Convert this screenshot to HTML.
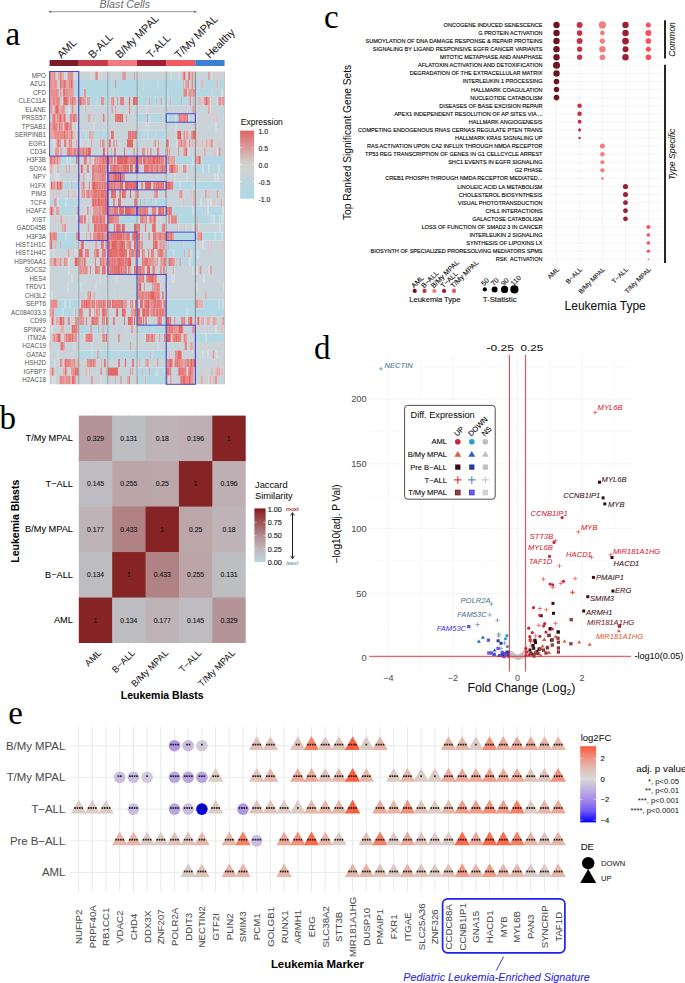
<!DOCTYPE html>
<html><head><meta charset="utf-8"><style>
html,body{margin:0;padding:0;background:#fff;}
svg{display:block;font-family:"Liberation Sans",sans-serif;}
</style></head><body>
<svg width="685" height="983" viewBox="0 0 685 983">
<rect width="685" height="983" fill="#fff"/>
<text x="5.5" y="44.5" font-family="Liberation Serif" font-size="33">a</text>
<text x="99.6" y="8" font-family="Liberation Sans" font-style="italic" font-size="10.7" fill="#6e6e6e" stroke="#6e6e6e" stroke-width="0.06">Blast Cells</text>
<line x1="49" y1="11.7" x2="196.5" y2="11.7" stroke="#777" stroke-width="0.8"/>
<path d="M48.2 11.7l3 -1.3v2.6z M197.1 11.7l-3 -1.3v2.6z" fill="#777"/>
<rect x="49.60" y="60" width="29.20" height="6" fill="#7b1c27"/>
<text transform="translate(61.50 59) rotate(-45)" font-family="Liberation Sans" font-size="10.8" fill="#1a1a1a" stroke="#1a1a1a" stroke-width="0.06">AML</text>
<rect x="78.75" y="60" width="29.20" height="6" fill="#c83a4a"/>
<text transform="translate(92.65 59) rotate(-45)" font-family="Liberation Sans" font-size="10.8" fill="#1a1a1a" stroke="#1a1a1a" stroke-width="0.06">B-ALL</text>
<rect x="107.90" y="60" width="29.20" height="6" fill="#f07b80"/>
<text transform="translate(119.80 59) rotate(-45)" font-family="Liberation Sans" font-size="10.8" fill="#1a1a1a" stroke="#1a1a1a" stroke-width="0.06">B/My MPAL</text>
<rect x="137.05" y="60" width="29.20" height="6" fill="#a21f33"/>
<text transform="translate(150.95 59) rotate(-45)" font-family="Liberation Sans" font-size="10.8" fill="#1a1a1a" stroke="#1a1a1a" stroke-width="0.06">T-ALL</text>
<rect x="166.20" y="60" width="29.20" height="6" fill="#f25a62"/>
<text transform="translate(179.10 59) rotate(-45)" font-family="Liberation Sans" font-size="10.8" fill="#1a1a1a" stroke="#1a1a1a" stroke-width="0.06">T/My MPAL</text>
<rect x="195.35" y="60" width="29.20" height="6" fill="#3b80d2"/>
<text transform="translate(209.75 59) rotate(-45)" font-family="Liberation Sans" font-size="10.8" fill="#1a1a1a" stroke="#1a1a1a" stroke-width="0.06">Healthy</text>
<defs><filter id="hb" x="-0.01" y="0" width="1.02" height="1"><feGaussianBlur stdDeviation="0.45 0"/></filter></defs><g filter="url(#hb)">
<path fill="#e07e7e" d="M49.60 71.50h2.01v8.45h-2.01zM59.65 71.50h2.01v8.45h-2.01zM68.70 71.50h1.01v8.45h-1.01zM65.68 79.95h1.01v8.45h-1.01zM49.60 88.41h1.01v8.45h-1.01zM52.62 88.41h1.01v8.45h-1.01zM70.71 88.41h1.01v8.45h-1.01zM72.72 88.41h1.01v8.45h-1.01zM185.30 88.41h2.01v8.45h-2.01zM188.31 88.41h1.01v8.45h-1.01zM190.32 88.41h1.01v8.45h-1.01zM62.67 96.86h1.01v8.45h-1.01zM82.77 96.86h1.01v8.45h-1.01zM84.78 96.86h1.01v8.45h-1.01zM135.04 96.86h1.01v8.45h-1.01zM181.28 96.86h1.01v8.45h-1.01zM198.37 96.86h1.01v8.45h-1.01zM207.41 96.86h1.01v8.45h-1.01zM58.65 105.32h1.01v8.45h-1.01zM129.01 105.32h1.01v8.45h-1.01zM51.61 113.77h1.01v8.45h-1.01zM57.64 113.77h1.01v8.45h-1.01zM115.94 113.77h1.01v8.45h-1.01zM63.67 122.22h1.01v8.45h-1.01zM183.29 130.68h1.01v8.45h-1.01zM57.64 139.13h2.01v8.45h-2.01zM69.70 139.13h1.01v8.45h-1.01zM101.87 139.13h1.01v8.45h-1.01zM158.16 139.13h1.01v8.45h-1.01zM219.47 139.13h1.01v8.45h-1.01zM54.63 147.59h1.01v8.45h-1.01zM56.64 147.59h1.01v8.45h-1.01zM72.72 147.59h1.01v8.45h-1.01zM76.74 147.59h2.01v8.45h-2.01zM183.29 147.59h1.01v8.45h-1.01zM75.73 156.04h2.01v8.45h-2.01zM98.85 156.04h1.01v8.45h-1.01zM108.91 156.04h1.01v8.45h-1.01zM111.92 156.04h1.01v8.45h-1.01zM130.01 156.04h4.02v8.45h-4.02zM138.06 156.04h1.01v8.45h-1.01zM140.07 156.04h1.01v8.45h-1.01zM174.24 156.04h1.01v8.45h-1.01zM195.35 156.04h1.01v8.45h-1.01zM98.85 164.49h1.01v8.45h-1.01zM100.86 164.49h1.01v8.45h-1.01zM102.87 164.49h1.01v8.45h-1.01zM115.94 164.49h2.01v8.45h-2.01zM132.02 164.49h1.01v8.45h-1.01zM174.24 164.49h1.01v8.45h-1.01zM99.86 172.95h1.01v8.45h-1.01zM97.85 181.40h1.01v8.45h-1.01zM107.90 181.40h1.01v8.45h-1.01zM111.92 181.40h1.01v8.45h-1.01zM142.08 181.40h1.01v8.45h-1.01zM153.13 181.40h1.01v8.45h-1.01zM67.69 189.86h1.01v8.45h-1.01zM86.79 189.86h1.01v8.45h-1.01zM90.81 189.86h1.01v8.45h-1.01zM99.86 189.86h1.01v8.45h-1.01zM154.14 189.86h1.01v8.45h-1.01zM49.60 206.76h1.01v8.45h-1.01zM56.64 206.76h1.01v8.45h-1.01zM92.82 206.76h1.01v8.45h-1.01zM94.83 206.76h1.01v8.45h-1.01zM101.87 206.76h1.01v8.45h-1.01zM109.91 206.76h1.01v8.45h-1.01zM131.02 206.76h2.01v8.45h-2.01zM161.17 206.76h1.01v8.45h-1.01zM166.20 206.76h1.01v8.45h-1.01zM78.75 215.22h2.01v8.45h-2.01zM91.82 215.22h1.01v8.45h-1.01zM93.83 215.22h2.01v8.45h-2.01zM101.87 215.22h1.01v8.45h-1.01zM110.92 215.22h3.02v8.45h-3.02zM114.94 215.22h1.01v8.45h-1.01zM173.24 215.22h1.01v8.45h-1.01zM176.25 215.22h1.01v8.45h-1.01zM155.14 223.67h1.01v8.45h-1.01zM92.82 232.13h1.01v8.45h-1.01zM100.86 232.13h1.01v8.45h-1.01zM109.91 232.13h1.01v8.45h-1.01zM199.37 232.13h1.01v8.45h-1.01zM107.90 240.58h1.01v8.45h-1.01zM122.98 240.58h1.01v8.45h-1.01zM84.78 249.04h2.01v8.45h-2.01zM117.95 249.04h1.01v8.45h-1.01zM124.99 249.04h1.01v8.45h-1.01zM132.02 249.04h1.01v8.45h-1.01zM65.68 257.49h1.01v8.45h-1.01zM122.98 257.49h1.01v8.45h-1.01zM143.08 257.49h1.01v8.45h-1.01zM161.17 257.49h1.01v8.45h-1.01zM98.85 265.94h1.01v8.45h-1.01zM104.88 265.94h1.01v8.45h-1.01zM107.90 265.94h1.01v8.45h-1.01zM135.04 265.94h1.01v8.45h-1.01zM137.05 265.94h1.01v8.45h-1.01zM143.08 265.94h1.01v8.45h-1.01zM165.19 282.85h1.01v8.45h-1.01zM146.10 291.31h1.01v8.45h-1.01zM149.11 291.31h1.01v8.45h-1.01zM80.76 299.76h1.01v8.45h-1.01zM82.77 299.76h1.01v8.45h-1.01zM108.91 299.76h1.01v8.45h-1.01zM114.94 299.76h3.02v8.45h-3.02zM136.04 299.76h1.01v8.45h-1.01zM144.09 299.76h1.01v8.45h-1.01zM151.12 299.76h1.01v8.45h-1.01zM161.17 299.76h1.01v8.45h-1.01zM163.18 299.76h2.01v8.45h-2.01zM195.35 299.76h1.01v8.45h-1.01zM50.61 308.21h1.01v8.45h-1.01zM93.83 308.21h1.01v8.45h-1.01zM151.12 308.21h1.01v8.45h-1.01zM158.16 308.21h1.01v8.45h-1.01zM55.63 316.67h1.01v8.45h-1.01zM62.67 316.67h2.01v8.45h-2.01zM112.93 316.67h2.01v8.45h-2.01zM131.02 316.67h1.01v8.45h-1.01zM161.17 316.67h1.01v8.45h-1.01zM183.29 316.67h1.01v8.45h-1.01zM212.44 316.67h1.01v8.45h-1.01zM166.20 325.12h1.01v8.45h-1.01zM176.25 325.12h1.01v8.45h-1.01zM74.73 333.58h1.01v8.45h-1.01zM85.79 333.58h1.01v8.45h-1.01zM147.10 333.58h1.01v8.45h-1.01zM173.24 333.58h2.01v8.45h-2.01zM49.60 342.03h1.01v8.45h-1.01zM176.25 350.48h1.01v8.45h-1.01zM181.28 350.48h1.01v8.45h-1.01zM61.66 358.94h1.01v8.45h-1.01zM92.82 358.94h2.01v8.45h-2.01zM117.95 358.94h2.01v8.45h-2.01zM174.24 358.94h2.01v8.45h-2.01zM178.26 358.94h1.01v8.45h-1.01zM180.27 358.94h1.01v8.45h-1.01zM182.28 358.94h1.01v8.45h-1.01zM73.72 367.39h1.01v8.45h-1.01zM100.86 367.39h1.01v8.45h-1.01zM61.66 375.85h1.01v8.45h-1.01zM69.70 375.85h1.01v8.45h-1.01zM129.01 375.85h1.01v8.45h-1.01zM191.33 375.85h1.01v8.45h-1.01z"/>
<path fill="#dc9a9a" d="M51.61 71.50h2.01v8.45h-2.01zM58.65 71.50h1.01v8.45h-1.01zM61.66 71.50h1.01v8.45h-1.01zM94.83 71.50h1.01v8.45h-1.01zM122.98 71.50h2.01v8.45h-2.01zM134.03 71.50h1.01v8.45h-1.01zM66.69 79.95h1.01v8.45h-1.01zM149.11 96.86h1.01v8.45h-1.01zM59.65 105.32h1.01v8.45h-1.01zM84.78 105.32h1.01v8.45h-1.01zM111.92 105.32h1.01v8.45h-1.01zM186.30 105.32h1.01v8.45h-1.01zM61.66 113.77h1.01v8.45h-1.01zM103.88 113.77h1.01v8.45h-1.01zM125.99 113.77h1.01v8.45h-1.01zM49.60 130.68h1.01v8.45h-1.01zM53.62 130.68h1.01v8.45h-1.01zM76.74 130.68h1.01v8.45h-1.01zM88.80 130.68h1.01v8.45h-1.01zM220.48 130.68h1.01v8.45h-1.01zM154.14 139.13h1.01v8.45h-1.01zM201.38 139.13h1.01v8.45h-1.01zM205.40 139.13h1.01v8.45h-1.01zM151.12 147.59h1.01v8.45h-1.01zM165.19 147.59h1.01v8.45h-1.01zM55.63 156.04h1.01v8.45h-1.01zM58.65 156.04h1.01v8.45h-1.01zM93.83 156.04h1.01v8.45h-1.01zM95.84 156.04h1.01v8.45h-1.01zM97.85 156.04h1.01v8.45h-1.01zM170.22 156.04h1.01v8.45h-1.01zM176.25 164.49h1.01v8.45h-1.01zM95.84 172.95h1.01v8.45h-1.01zM97.85 172.95h1.01v8.45h-1.01zM89.81 189.86h1.01v8.45h-1.01zM140.07 198.31h1.01v8.45h-1.01zM221.48 198.31h1.01v8.45h-1.01zM58.65 206.76h1.01v8.45h-1.01zM89.81 206.76h1.01v8.45h-1.01zM93.83 206.76h1.01v8.45h-1.01zM96.84 206.76h2.01v8.45h-2.01zM100.86 206.76h1.01v8.45h-1.01zM107.90 206.76h1.01v8.45h-1.01zM110.92 206.76h1.01v8.45h-1.01zM112.93 206.76h1.01v8.45h-1.01zM135.04 206.76h1.01v8.45h-1.01zM87.80 215.22h1.01v8.45h-1.01zM113.93 215.22h1.01v8.45h-1.01zM116.95 215.22h1.01v8.45h-1.01zM144.09 215.22h1.01v8.45h-1.01zM177.26 223.67h1.01v8.45h-1.01zM184.29 223.67h1.01v8.45h-1.01zM197.36 223.67h1.01v8.45h-1.01zM104.88 232.13h1.01v8.45h-1.01zM142.08 232.13h1.01v8.45h-1.01zM109.91 240.58h1.01v8.45h-1.01zM125.99 240.58h2.01v8.45h-2.01zM162.18 240.58h1.01v8.45h-1.01zM164.19 240.58h1.01v8.45h-1.01zM68.70 249.04h1.01v8.45h-1.01zM134.03 249.04h1.01v8.45h-1.01zM143.08 249.04h2.01v8.45h-2.01zM157.15 249.04h1.01v8.45h-1.01zM135.04 257.49h2.01v8.45h-2.01zM151.12 257.49h1.01v8.45h-1.01zM160.17 257.49h1.01v8.45h-1.01zM187.31 257.49h1.01v8.45h-1.01zM141.07 265.94h1.01v8.45h-1.01zM144.09 265.94h1.01v8.45h-1.01zM153.13 282.85h1.01v8.45h-1.01zM88.80 291.31h1.01v8.45h-1.01zM150.12 299.76h1.01v8.45h-1.01zM206.41 316.67h1.01v8.45h-1.01zM214.45 316.67h1.01v8.45h-1.01zM89.81 325.12h1.01v8.45h-1.01zM207.41 325.12h1.01v8.45h-1.01zM84.78 333.58h1.01v8.45h-1.01zM101.87 333.58h1.01v8.45h-1.01zM104.88 333.58h1.01v8.45h-1.01zM118.96 333.58h1.01v8.45h-1.01zM192.33 342.03h1.01v8.45h-1.01zM70.71 358.94h1.01v8.45h-1.01zM72.72 358.94h1.01v8.45h-1.01zM183.29 358.94h1.01v8.45h-1.01zM71.71 367.39h1.01v8.45h-1.01zM88.80 367.39h1.01v8.45h-1.01zM99.86 367.39h1.01v8.45h-1.01zM130.01 367.39h1.01v8.45h-1.01zM132.02 367.39h1.01v8.45h-1.01zM205.40 367.39h1.01v8.45h-1.01zM222.49 367.39h1.01v8.45h-1.01zM214.45 375.85h1.01v8.45h-1.01z"/>
<path fill="#df8484" d="M53.62 71.50h2.01v8.45h-2.01zM57.64 71.50h1.01v8.45h-1.01zM62.67 71.50h1.01v8.45h-1.01zM95.84 71.50h2.01v8.45h-2.01zM68.70 79.95h2.01v8.45h-2.01zM72.72 79.95h1.01v8.45h-1.01zM114.94 79.95h1.01v8.45h-1.01zM187.31 79.95h1.01v8.45h-1.01zM188.31 79.95h1.01v8.45h-1.01zM191.33 79.95h2.01v8.45h-2.01zM201.38 79.95h1.01v8.45h-1.01zM69.70 88.41h1.01v8.45h-1.01zM71.71 88.41h1.01v8.45h-1.01zM192.33 88.41h1.01v8.45h-1.01zM193.34 88.41h1.01v8.45h-1.01zM219.47 88.41h1.01v8.45h-1.01zM50.61 96.86h1.01v8.45h-1.01zM54.63 96.86h1.01v8.45h-1.01zM70.71 96.86h1.01v8.45h-1.01zM81.77 96.86h1.01v8.45h-1.01zM83.78 96.86h1.01v8.45h-1.01zM86.79 96.86h1.01v8.45h-1.01zM88.80 96.86h1.01v8.45h-1.01zM119.96 96.86h2.01v8.45h-2.01zM122.98 96.86h1.01v8.45h-1.01zM137.05 96.86h1.01v8.45h-1.01zM161.17 96.86h1.01v8.45h-1.01zM203.39 96.86h1.01v8.45h-1.01zM211.43 96.86h1.01v8.45h-1.01zM61.66 105.32h1.01v8.45h-1.01zM72.72 105.32h1.01v8.45h-1.01zM62.67 113.77h1.01v8.45h-1.01zM178.26 113.77h2.01v8.45h-2.01zM182.28 113.77h1.01v8.45h-1.01zM49.60 122.22h1.01v8.45h-1.01zM51.61 122.22h1.01v8.45h-1.01zM68.70 122.22h1.01v8.45h-1.01zM50.61 130.68h1.01v8.45h-1.01zM52.62 130.68h1.01v8.45h-1.01zM68.70 130.68h1.01v8.45h-1.01zM129.01 130.68h1.01v8.45h-1.01zM134.03 130.68h1.01v8.45h-1.01zM63.67 139.13h3.02v8.45h-3.02zM90.81 139.13h1.01v8.45h-1.01zM102.87 139.13h1.01v8.45h-1.01zM155.14 139.13h1.01v8.45h-1.01zM168.21 139.13h1.01v8.45h-1.01zM180.27 139.13h1.01v8.45h-1.01zM181.28 139.13h1.01v8.45h-1.01zM184.29 139.13h1.01v8.45h-1.01zM196.36 139.13h1.01v8.45h-1.01zM210.43 139.13h1.01v8.45h-1.01zM212.44 139.13h1.01v8.45h-1.01zM59.65 147.59h1.01v8.45h-1.01zM73.72 147.59h3.02v8.45h-3.02zM84.78 147.59h1.01v8.45h-1.01zM113.93 147.59h1.01v8.45h-1.01zM142.08 147.59h1.01v8.45h-1.01zM150.12 147.59h1.01v8.45h-1.01zM218.47 147.59h1.01v8.45h-1.01zM56.64 156.04h2.01v8.45h-2.01zM59.65 156.04h1.01v8.45h-1.01zM94.83 156.04h1.01v8.45h-1.01zM96.84 156.04h1.01v8.45h-1.01zM100.86 156.04h1.01v8.45h-1.01zM114.94 156.04h1.01v8.45h-1.01zM128.00 156.04h1.01v8.45h-1.01zM146.10 156.04h1.01v8.45h-1.01zM160.17 156.04h1.01v8.45h-1.01zM167.21 156.04h2.01v8.45h-2.01zM172.23 156.04h1.01v8.45h-1.01zM200.38 156.04h1.01v8.45h-1.01zM50.61 164.49h1.01v8.45h-1.01zM57.64 164.49h1.01v8.45h-1.01zM91.82 164.49h4.02v8.45h-4.02zM104.88 164.49h1.01v8.45h-1.01zM109.91 164.49h1.01v8.45h-1.01zM111.92 164.49h1.01v8.45h-1.01zM120.97 164.49h1.01v8.45h-1.01zM149.11 164.49h1.01v8.45h-1.01zM155.14 164.49h1.01v8.45h-1.01zM158.16 164.49h1.01v8.45h-1.01zM163.18 164.49h1.01v8.45h-1.01zM165.19 164.49h1.01v8.45h-1.01zM175.25 164.49h1.01v8.45h-1.01zM177.26 164.49h1.01v8.45h-1.01zM184.29 164.49h1.01v8.45h-1.01zM91.82 172.95h3.02v8.45h-3.02zM96.84 172.95h1.01v8.45h-1.01zM98.85 172.95h1.01v8.45h-1.01zM100.86 172.95h1.01v8.45h-1.01zM103.88 172.95h1.01v8.45h-1.01zM121.97 172.95h2.01v8.45h-2.01zM52.62 181.40h1.01v8.45h-1.01zM117.95 181.40h1.01v8.45h-1.01zM141.07 181.40h1.01v8.45h-1.01zM166.20 181.40h1.01v8.45h-1.01zM88.80 189.86h1.01v8.45h-1.01zM91.82 189.86h1.01v8.45h-1.01zM157.15 189.86h1.01v8.45h-1.01zM180.27 189.86h1.01v8.45h-1.01zM54.63 198.31h1.01v8.45h-1.01zM112.93 198.31h2.01v8.45h-2.01zM134.03 198.31h1.01v8.45h-1.01zM220.48 198.31h1.01v8.45h-1.01zM55.63 206.76h1.01v8.45h-1.01zM57.64 206.76h1.01v8.45h-1.01zM77.74 206.76h1.01v8.45h-1.01zM98.85 206.76h2.01v8.45h-2.01zM111.92 206.76h1.01v8.45h-1.01zM133.03 206.76h1.01v8.45h-1.01zM146.10 206.76h1.01v8.45h-1.01zM98.85 215.22h1.01v8.45h-1.01zM140.07 215.22h3.02v8.45h-3.02zM149.11 215.22h2.01v8.45h-2.01zM63.67 223.67h1.01v8.45h-1.01zM137.05 223.67h2.01v8.45h-2.01zM85.79 232.13h1.01v8.45h-1.01zM103.88 232.13h1.01v8.45h-1.01zM106.89 232.13h3.02v8.45h-3.02zM156.15 232.13h1.01v8.45h-1.01zM158.16 232.13h1.01v8.45h-1.01zM110.92 240.58h1.01v8.45h-1.01zM116.95 240.58h2.01v8.45h-2.01zM129.01 240.58h1.01v8.45h-1.01zM163.18 240.58h1.01v8.45h-1.01zM208.42 240.58h1.01v8.45h-1.01zM211.43 240.58h1.01v8.45h-1.01zM93.83 249.04h1.01v8.45h-1.01zM129.01 249.04h2.01v8.45h-2.01zM133.03 249.04h1.01v8.45h-1.01zM136.04 249.04h1.01v8.45h-1.01zM152.13 249.04h1.01v8.45h-1.01zM158.16 249.04h2.01v8.45h-2.01zM53.62 257.49h3.02v8.45h-3.02zM66.69 257.49h1.01v8.45h-1.01zM79.76 257.49h1.01v8.45h-1.01zM107.90 257.49h4.02v8.45h-4.02zM112.93 257.49h1.01v8.45h-1.01zM114.94 257.49h2.01v8.45h-2.01zM125.99 257.49h2.01v8.45h-2.01zM152.13 257.49h1.01v8.45h-1.01zM163.18 257.49h1.01v8.45h-1.01zM172.23 257.49h1.01v8.45h-1.01zM180.27 257.49h1.01v8.45h-1.01zM83.78 265.94h1.01v8.45h-1.01zM94.83 265.94h4.02v8.45h-4.02zM110.92 265.94h1.01v8.45h-1.01zM142.08 265.94h1.01v8.45h-1.01zM164.19 265.94h1.01v8.45h-1.01zM173.24 265.94h1.01v8.45h-1.01zM199.37 265.94h1.01v8.45h-1.01zM146.10 274.40h2.01v8.45h-2.01zM154.14 274.40h1.01v8.45h-1.01zM144.09 282.85h1.01v8.45h-1.01zM152.13 282.85h1.01v8.45h-1.01zM154.14 282.85h1.01v8.45h-1.01zM156.15 282.85h2.01v8.45h-2.01zM159.16 282.85h1.01v8.45h-1.01zM143.08 291.31h1.01v8.45h-1.01zM145.09 291.31h1.01v8.45h-1.01zM156.15 291.31h1.01v8.45h-1.01zM163.18 291.31h1.01v8.45h-1.01zM89.81 299.76h1.01v8.45h-1.01zM96.84 299.76h1.01v8.45h-1.01zM98.85 299.76h2.01v8.45h-2.01zM119.96 299.76h1.01v8.45h-1.01zM132.02 299.76h1.01v8.45h-1.01zM149.11 299.76h1.01v8.45h-1.01zM152.13 299.76h2.01v8.45h-2.01zM49.60 308.21h1.01v8.45h-1.01zM78.75 308.21h1.01v8.45h-1.01zM150.12 308.21h1.01v8.45h-1.01zM152.13 308.21h3.02v8.45h-3.02zM81.77 316.67h1.01v8.45h-1.01zM97.85 316.67h1.01v8.45h-1.01zM132.02 316.67h1.01v8.45h-1.01zM145.09 316.67h2.01v8.45h-2.01zM157.15 316.67h1.01v8.45h-1.01zM203.39 316.67h1.01v8.45h-1.01zM207.41 316.67h1.01v8.45h-1.01zM213.44 316.67h1.01v8.45h-1.01zM90.81 325.12h1.01v8.45h-1.01zM63.67 333.58h1.01v8.45h-1.01zM91.82 333.58h1.01v8.45h-1.01zM102.87 333.58h2.01v8.45h-2.01zM183.29 333.58h2.01v8.45h-2.01zM59.65 342.03h1.01v8.45h-1.01zM184.29 342.03h3.02v8.45h-3.02zM191.33 342.03h1.01v8.45h-1.01zM213.44 350.48h1.01v8.45h-1.01zM59.65 358.94h2.01v8.45h-2.01zM67.69 358.94h2.01v8.45h-2.01zM71.71 358.94h1.01v8.45h-1.01zM74.73 358.94h1.01v8.45h-1.01zM87.80 358.94h1.01v8.45h-1.01zM89.81 358.94h3.02v8.45h-3.02zM94.83 358.94h1.01v8.45h-1.01zM132.02 358.94h2.01v8.45h-2.01zM172.23 358.94h1.01v8.45h-1.01zM181.28 358.94h1.01v8.45h-1.01zM186.30 358.94h3.02v8.45h-3.02zM70.71 367.39h1.01v8.45h-1.01zM149.11 367.39h1.01v8.45h-1.01zM169.22 367.39h1.01v8.45h-1.01zM216.46 367.39h1.01v8.45h-1.01zM63.67 375.85h1.01v8.45h-1.01zM91.82 375.85h1.01v8.45h-1.01zM167.21 375.85h1.01v8.45h-1.01zM170.22 375.85h1.01v8.45h-1.01zM210.43 375.85h1.01v8.45h-1.01zM216.46 375.85h1.01v8.45h-1.01z"/>
<path fill="#c8d4d9" d="M55.63 71.50h2.01v8.45h-2.01zM63.67 71.50h1.01v8.45h-1.01zM66.69 71.50h1.01v8.45h-1.01zM72.72 71.50h2.01v8.45h-2.01zM75.73 71.50h2.01v8.45h-2.01zM78.75 71.50h12.06v8.45h-12.06zM91.82 71.50h2.01v8.45h-2.01zM97.85 71.50h1.01v8.45h-1.01zM99.86 71.50h2.01v8.45h-2.01zM102.87 71.50h19.10v8.45h-19.10zM125.99 71.50h8.04v8.45h-8.04zM135.04 71.50h35.18v8.45h-35.18zM171.23 71.50h7.04v8.45h-7.04zM179.27 71.50h3.02v8.45h-3.02zM185.30 71.50h3.02v8.45h-3.02zM190.32 71.50h1.01v8.45h-1.01zM193.34 71.50h15.08v8.45h-15.08zM209.42 71.50h2.01v8.45h-2.01zM212.44 71.50h1.01v8.45h-1.01zM214.45 71.50h3.02v8.45h-3.02zM218.47 71.50h6.03v8.45h-6.03zM59.65 96.86h3.02v8.45h-3.02zM68.70 96.86h1.01v8.45h-1.01zM76.74 96.86h2.01v8.45h-2.01zM107.90 96.86h3.02v8.45h-3.02zM113.93 96.86h2.01v8.45h-2.01zM117.95 96.86h2.01v8.45h-2.01zM123.98 96.86h5.03v8.45h-5.03zM130.01 96.86h2.01v8.45h-2.01zM195.35 96.86h3.02v8.45h-3.02zM201.38 96.86h2.01v8.45h-2.01zM210.43 96.86h1.01v8.45h-1.01zM212.44 96.86h5.03v8.45h-5.03zM221.48 96.86h1.01v8.45h-1.01zM52.62 105.32h2.01v8.45h-2.01zM64.68 105.32h4.02v8.45h-4.02zM69.70 105.32h2.01v8.45h-2.01zM73.72 105.32h11.06v8.45h-11.06zM85.79 105.32h25.13v8.45h-25.13zM112.93 105.32h2.01v8.45h-2.01zM115.94 105.32h6.03v8.45h-6.03zM122.98 105.32h3.02v8.45h-3.02zM127.00 105.32h2.01v8.45h-2.01zM130.01 105.32h3.02v8.45h-3.02zM134.03 105.32h11.06v8.45h-11.06zM146.10 105.32h1.01v8.45h-1.01zM148.11 105.32h38.20v8.45h-38.20zM187.31 105.32h5.03v8.45h-5.03zM194.34 105.32h1.01v8.45h-1.01zM196.36 105.32h12.06v8.45h-12.06zM209.42 105.32h1.01v8.45h-1.01zM212.44 105.32h12.06v8.45h-12.06zM49.60 113.77h2.01v8.45h-2.01zM55.63 113.77h1.01v8.45h-1.01zM65.68 113.77h4.02v8.45h-4.02zM76.74 113.77h11.06v8.45h-11.06zM90.81 113.77h2.01v8.45h-2.01zM93.83 113.77h9.05v8.45h-9.05zM104.88 113.77h10.05v8.45h-10.05zM122.98 113.77h3.02v8.45h-3.02zM127.00 113.77h10.05v8.45h-10.05zM196.36 113.77h6.03v8.45h-6.03zM203.39 113.77h7.04v8.45h-7.04zM211.43 113.77h2.01v8.45h-2.01zM214.45 113.77h2.01v8.45h-2.01zM217.46 113.77h7.04v8.45h-7.04zM62.67 122.22h1.01v8.45h-1.01zM71.71 122.22h5.03v8.45h-5.03zM79.76 122.22h14.07v8.45h-14.07zM94.83 122.22h32.17v8.45h-32.17zM128.00 122.22h17.09v8.45h-17.09zM146.10 122.22h1.01v8.45h-1.01zM148.11 122.22h27.14v8.45h-27.14zM176.25 122.22h18.09v8.45h-18.09zM195.35 122.22h20.10v8.45h-20.10zM216.46 122.22h8.04v8.45h-8.04zM74.73 130.68h2.01v8.45h-2.01zM77.74 130.68h1.01v8.45h-1.01zM107.90 130.68h3.02v8.45h-3.02zM113.93 130.68h14.07v8.45h-14.07zM166.20 130.68h11.06v8.45h-11.06zM181.28 130.68h2.01v8.45h-2.01zM185.30 130.68h1.01v8.45h-1.01zM188.31 130.68h3.02v8.45h-3.02zM196.36 130.68h2.01v8.45h-2.01zM199.37 130.68h21.11v8.45h-21.11zM221.48 130.68h3.02v8.45h-3.02zM49.60 139.13h4.02v8.45h-4.02zM54.63 139.13h2.01v8.45h-2.01zM60.66 139.13h3.02v8.45h-3.02zM66.69 139.13h2.01v8.45h-2.01zM71.71 139.13h4.02v8.45h-4.02zM77.74 139.13h3.02v8.45h-3.02zM81.77 139.13h6.03v8.45h-6.03zM88.80 139.13h2.01v8.45h-2.01zM91.82 139.13h8.04v8.45h-8.04zM100.86 139.13h1.01v8.45h-1.01zM104.88 139.13h4.02v8.45h-4.02zM110.92 139.13h2.01v8.45h-2.01zM114.94 139.13h1.01v8.45h-1.01zM116.95 139.13h10.05v8.45h-10.05zM133.03 139.13h21.11v8.45h-21.11zM156.15 139.13h2.01v8.45h-2.01zM159.16 139.13h5.03v8.45h-5.03zM165.19 139.13h1.01v8.45h-1.01zM169.22 139.13h7.04v8.45h-7.04zM177.26 139.13h1.01v8.45h-1.01zM186.30 139.13h3.02v8.45h-3.02zM190.32 139.13h2.01v8.45h-2.01zM193.34 139.13h2.01v8.45h-2.01zM198.37 139.13h3.02v8.45h-3.02zM203.39 139.13h2.01v8.45h-2.01zM207.41 139.13h1.01v8.45h-1.01zM213.44 139.13h6.03v8.45h-6.03zM220.48 139.13h4.02v8.45h-4.02zM49.60 147.59h5.03v8.45h-5.03zM58.65 147.59h1.01v8.45h-1.01zM61.66 147.59h5.03v8.45h-5.03zM90.81 147.59h11.06v8.45h-11.06zM104.88 147.59h2.01v8.45h-2.01zM107.90 147.59h3.02v8.45h-3.02zM111.92 147.59h1.01v8.45h-1.01zM116.95 147.59h7.04v8.45h-7.04zM124.99 147.59h8.04v8.45h-8.04zM135.04 147.59h2.01v8.45h-2.01zM138.06 147.59h4.02v8.45h-4.02zM146.10 147.59h1.01v8.45h-1.01zM148.11 147.59h2.01v8.45h-2.01zM152.13 147.59h5.03v8.45h-5.03zM159.16 147.59h6.03v8.45h-6.03zM166.20 147.59h1.01v8.45h-1.01zM168.21 147.59h1.01v8.45h-1.01zM170.22 147.59h8.04v8.45h-8.04zM179.27 147.59h4.02v8.45h-4.02zM187.31 147.59h1.01v8.45h-1.01zM189.32 147.59h9.05v8.45h-9.05zM199.37 147.59h5.03v8.45h-5.03zM205.40 147.59h9.05v8.45h-9.05zM215.45 147.59h2.01v8.45h-2.01zM220.48 147.59h4.02v8.45h-4.02zM78.75 156.04h5.03v8.45h-5.03zM86.79 156.04h2.01v8.45h-2.01zM90.81 156.04h3.02v8.45h-3.02zM112.93 156.04h1.01v8.45h-1.01zM115.94 156.04h1.01v8.45h-1.01zM142.08 156.04h1.01v8.45h-1.01zM164.19 156.04h1.01v8.45h-1.01zM54.63 164.49h2.01v8.45h-2.01zM58.65 164.49h7.04v8.45h-7.04zM66.69 164.49h2.01v8.45h-2.01zM69.70 164.49h4.02v8.45h-4.02zM74.73 164.49h6.03v8.45h-6.03zM82.77 164.49h4.02v8.45h-4.02zM88.80 164.49h3.02v8.45h-3.02zM107.90 164.49h2.01v8.45h-2.01zM129.01 164.49h1.01v8.45h-1.01zM133.03 164.49h2.01v8.45h-2.01zM139.06 164.49h5.03v8.45h-5.03zM166.20 164.49h3.02v8.45h-3.02zM178.26 164.49h5.03v8.45h-5.03zM186.30 164.49h9.05v8.45h-9.05zM49.60 172.95h6.03v8.45h-6.03zM57.64 172.95h1.01v8.45h-1.01zM59.65 172.95h19.10v8.45h-19.10zM79.76 172.95h3.02v8.45h-3.02zM84.78 172.95h3.02v8.45h-3.02zM88.80 172.95h3.02v8.45h-3.02zM105.89 172.95h2.01v8.45h-2.01zM125.99 172.95h3.02v8.45h-3.02zM130.01 172.95h44.23v8.45h-44.23zM175.25 172.95h11.06v8.45h-11.06zM187.31 172.95h27.14v8.45h-27.14zM215.45 172.95h2.01v8.45h-2.01zM218.47 172.95h6.03v8.45h-6.03zM78.75 181.40h2.01v8.45h-2.01zM84.78 181.40h4.02v8.45h-4.02zM89.81 181.40h2.01v8.45h-2.01zM122.98 181.40h2.01v8.45h-2.01zM137.05 181.40h4.02v8.45h-4.02zM143.08 181.40h2.01v8.45h-2.01zM151.12 181.40h2.01v8.45h-2.01zM164.19 181.40h1.01v8.45h-1.01zM49.60 189.86h3.02v8.45h-3.02zM53.62 189.86h2.01v8.45h-2.01zM56.64 189.86h11.06v8.45h-11.06zM68.70 189.86h3.02v8.45h-3.02zM72.72 189.86h1.01v8.45h-1.01zM74.73 189.86h3.02v8.45h-3.02zM78.75 189.86h2.01v8.45h-2.01zM84.78 189.86h1.01v8.45h-1.01zM107.90 189.86h3.02v8.45h-3.02zM115.94 189.86h3.02v8.45h-3.02zM125.99 189.86h4.02v8.45h-4.02zM131.02 189.86h4.02v8.45h-4.02zM139.06 189.86h15.08v8.45h-15.08zM158.16 189.86h7.04v8.45h-7.04zM166.20 189.86h13.07v8.45h-13.07zM182.28 189.86h9.05v8.45h-9.05zM192.33 189.86h1.01v8.45h-1.01zM195.35 189.86h10.05v8.45h-10.05zM206.41 189.86h2.01v8.45h-2.01zM209.42 189.86h7.04v8.45h-7.04zM218.47 189.86h6.03v8.45h-6.03zM78.75 198.31h13.07v8.45h-13.07zM107.90 198.31h5.03v8.45h-5.03zM114.94 198.31h3.02v8.45h-3.02zM120.97 198.31h9.05v8.45h-9.05zM131.02 198.31h3.02v8.45h-3.02zM166.20 198.31h17.09v8.45h-17.09zM184.29 198.31h9.05v8.45h-9.05zM195.35 198.31h5.03v8.45h-5.03zM201.38 198.31h6.03v8.45h-6.03zM208.42 198.31h2.01v8.45h-2.01zM211.43 198.31h1.01v8.45h-1.01zM213.44 198.31h7.04v8.45h-7.04zM222.49 198.31h2.01v8.45h-2.01zM78.75 206.76h8.04v8.45h-8.04zM88.80 206.76h1.01v8.45h-1.01zM90.81 206.76h2.01v8.45h-2.01zM117.95 206.76h1.01v8.45h-1.01zM123.98 206.76h1.01v8.45h-1.01zM148.11 206.76h4.02v8.45h-4.02zM156.15 206.76h2.01v8.45h-2.01zM164.19 206.76h2.01v8.45h-2.01zM49.60 215.22h5.03v8.45h-5.03zM55.63 215.22h5.03v8.45h-5.03zM62.67 215.22h3.02v8.45h-3.02zM66.69 215.22h12.06v8.45h-12.06zM82.77 215.22h1.01v8.45h-1.01zM85.79 215.22h2.01v8.45h-2.01zM88.80 215.22h3.02v8.45h-3.02zM104.88 215.22h2.01v8.45h-2.01zM137.05 215.22h1.01v8.45h-1.01zM139.06 215.22h1.01v8.45h-1.01zM147.10 215.22h2.01v8.45h-2.01zM156.15 215.22h4.02v8.45h-4.02zM161.17 215.22h5.03v8.45h-5.03zM49.60 223.67h8.04v8.45h-8.04zM58.65 223.67h3.02v8.45h-3.02zM65.68 223.67h22.11v8.45h-22.11zM88.80 223.67h5.03v8.45h-5.03zM107.90 223.67h6.03v8.45h-6.03zM114.94 223.67h1.01v8.45h-1.01zM120.97 223.67h1.01v8.45h-1.01zM124.99 223.67h6.03v8.45h-6.03zM132.02 223.67h2.01v8.45h-2.01zM140.07 223.67h5.03v8.45h-5.03zM146.10 223.67h6.03v8.45h-6.03zM156.15 223.67h1.01v8.45h-1.01zM158.16 223.67h4.02v8.45h-4.02zM165.19 223.67h12.06v8.45h-12.06zM178.26 223.67h6.03v8.45h-6.03zM186.30 223.67h6.03v8.45h-6.03zM193.34 223.67h3.02v8.45h-3.02zM198.37 223.67h21.11v8.45h-21.11zM220.48 223.67h4.02v8.45h-4.02zM79.76 232.13h6.03v8.45h-6.03zM86.79 232.13h3.02v8.45h-3.02zM90.81 232.13h2.01v8.45h-2.01zM130.01 232.13h2.01v8.45h-2.01zM137.05 232.13h1.01v8.45h-1.01zM140.07 232.13h2.01v8.45h-2.01zM143.08 232.13h5.03v8.45h-5.03zM150.12 232.13h3.02v8.45h-3.02zM78.75 240.58h2.01v8.45h-2.01zM84.78 240.58h10.05v8.45h-10.05zM96.84 240.58h4.02v8.45h-4.02zM103.88 240.58h1.01v8.45h-1.01zM124.99 240.58h1.01v8.45h-1.01zM131.02 240.58h3.02v8.45h-3.02zM136.04 240.58h1.01v8.45h-1.01zM143.08 240.58h10.05v8.45h-10.05zM158.16 240.58h1.01v8.45h-1.01zM165.19 240.58h1.01v8.45h-1.01zM195.35 240.58h7.04v8.45h-7.04zM203.39 240.58h5.03v8.45h-5.03zM209.42 240.58h2.01v8.45h-2.01zM212.44 240.58h10.05v8.45h-10.05zM223.49 240.58h1.01v8.45h-1.01zM49.60 249.04h4.02v8.45h-4.02zM54.63 249.04h13.07v8.45h-13.07zM69.70 249.04h3.02v8.45h-3.02zM73.72 249.04h1.01v8.45h-1.01zM75.73 249.04h2.01v8.45h-2.01zM82.77 249.04h2.01v8.45h-2.01zM88.80 249.04h5.03v8.45h-5.03zM98.85 249.04h3.02v8.45h-3.02zM105.89 249.04h2.01v8.45h-2.01zM127.00 249.04h1.01v8.45h-1.01zM137.05 249.04h1.01v8.45h-1.01zM140.07 249.04h2.01v8.45h-2.01zM145.09 249.04h3.02v8.45h-3.02zM149.11 249.04h2.01v8.45h-2.01zM154.14 249.04h3.02v8.45h-3.02zM195.35 249.04h2.01v8.45h-2.01zM198.37 249.04h11.06v8.45h-11.06zM210.43 249.04h14.07v8.45h-14.07zM61.66 257.49h2.01v8.45h-2.01zM67.69 257.49h1.01v8.45h-1.01zM69.70 257.49h5.03v8.45h-5.03zM85.79 257.49h9.05v8.45h-9.05zM95.84 257.49h4.02v8.45h-4.02zM131.02 257.49h4.02v8.45h-4.02zM137.05 257.49h5.03v8.45h-5.03zM158.16 257.49h1.01v8.45h-1.01zM195.35 257.49h29.15v8.45h-29.15zM49.60 265.94h19.10v8.45h-19.10zM69.70 265.94h9.05v8.45h-9.05zM87.80 265.94h2.01v8.45h-2.01zM90.81 265.94h4.02v8.45h-4.02zM99.86 265.94h2.01v8.45h-2.01zM105.89 265.94h2.01v8.45h-2.01zM127.00 265.94h1.01v8.45h-1.01zM131.02 265.94h3.02v8.45h-3.02zM145.09 265.94h2.01v8.45h-2.01zM150.12 265.94h2.01v8.45h-2.01zM155.14 265.94h5.03v8.45h-5.03zM162.18 265.94h1.01v8.45h-1.01zM165.19 265.94h8.04v8.45h-8.04zM174.24 265.94h18.09v8.45h-18.09zM193.34 265.94h3.02v8.45h-3.02zM197.36 265.94h2.01v8.45h-2.01zM201.38 265.94h7.04v8.45h-7.04zM209.42 265.94h1.01v8.45h-1.01zM211.43 265.94h13.07v8.45h-13.07zM49.60 274.40h22.11v8.45h-22.11zM72.72 274.40h27.14v8.45h-27.14zM100.86 274.40h4.02v8.45h-4.02zM105.89 274.40h10.05v8.45h-10.05zM116.95 274.40h1.01v8.45h-1.01zM118.96 274.40h19.10v8.45h-19.10zM144.09 274.40h2.01v8.45h-2.01zM157.15 274.40h14.07v8.45h-14.07zM172.23 274.40h1.01v8.45h-1.01zM174.24 274.40h29.15v8.45h-29.15zM204.40 274.40h20.10v8.45h-20.10zM49.60 282.85h18.09v8.45h-18.09zM68.70 282.85h9.05v8.45h-9.05zM78.75 282.85h2.01v8.45h-2.01zM81.77 282.85h14.07v8.45h-14.07zM96.84 282.85h33.17v8.45h-33.17zM131.02 282.85h6.03v8.45h-6.03zM141.07 282.85h3.02v8.45h-3.02zM145.09 282.85h7.04v8.45h-7.04zM160.17 282.85h5.03v8.45h-5.03zM167.21 282.85h29.15v8.45h-29.15zM197.36 282.85h26.13v8.45h-26.13zM49.60 291.31h2.01v8.45h-2.01zM52.62 291.31h34.18v8.45h-34.18zM90.81 291.31h2.01v8.45h-2.01zM94.83 291.31h14.07v8.45h-14.07zM109.91 291.31h5.03v8.45h-5.03zM115.94 291.31h18.09v8.45h-18.09zM135.04 291.31h2.01v8.45h-2.01zM160.17 291.31h2.01v8.45h-2.01zM164.19 291.31h41.21v8.45h-41.21zM206.41 291.31h18.09v8.45h-18.09zM78.75 299.76h2.01v8.45h-2.01zM94.83 299.76h1.01v8.45h-1.01zM105.89 299.76h1.01v8.45h-1.01zM110.92 299.76h1.01v8.45h-1.01zM127.00 299.76h3.02v8.45h-3.02zM133.03 299.76h2.01v8.45h-2.01zM137.05 299.76h3.02v8.45h-3.02zM143.08 299.76h1.01v8.45h-1.01zM162.18 299.76h1.01v8.45h-1.01zM82.77 308.21h5.03v8.45h-5.03zM90.81 308.21h1.01v8.45h-1.01zM92.82 308.21h1.01v8.45h-1.01zM94.83 308.21h1.01v8.45h-1.01zM99.86 308.21h2.01v8.45h-2.01zM106.89 308.21h9.05v8.45h-9.05zM118.96 308.21h3.02v8.45h-3.02zM125.99 308.21h5.03v8.45h-5.03zM136.04 308.21h1.01v8.45h-1.01zM140.07 308.21h2.01v8.45h-2.01zM149.11 308.21h1.01v8.45h-1.01zM50.61 316.67h1.01v8.45h-1.01zM53.62 316.67h2.01v8.45h-2.01zM57.64 316.67h1.01v8.45h-1.01zM64.68 316.67h3.02v8.45h-3.02zM69.70 316.67h5.03v8.45h-5.03zM83.78 316.67h2.01v8.45h-2.01zM86.79 316.67h4.02v8.45h-4.02zM100.86 316.67h1.01v8.45h-1.01zM104.88 316.67h1.01v8.45h-1.01zM107.90 316.67h5.03v8.45h-5.03zM114.94 316.67h2.01v8.45h-2.01zM117.95 316.67h3.02v8.45h-3.02zM121.97 316.67h2.01v8.45h-2.01zM124.99 316.67h3.02v8.45h-3.02zM133.03 316.67h1.01v8.45h-1.01zM135.04 316.67h2.01v8.45h-2.01zM142.08 316.67h1.01v8.45h-1.01zM144.09 316.67h1.01v8.45h-1.01zM147.10 316.67h10.05v8.45h-10.05zM162.18 316.67h4.02v8.45h-4.02zM171.23 316.67h3.02v8.45h-3.02zM175.25 316.67h6.03v8.45h-6.03zM185.30 316.67h3.02v8.45h-3.02zM192.33 316.67h5.03v8.45h-5.03zM199.37 316.67h2.01v8.45h-2.01zM204.40 316.67h2.01v8.45h-2.01zM210.43 316.67h2.01v8.45h-2.01zM216.46 316.67h6.03v8.45h-6.03zM49.60 325.12h2.01v8.45h-2.01zM52.62 325.12h8.04v8.45h-8.04zM63.67 325.12h8.04v8.45h-8.04zM107.90 325.12h23.12v8.45h-23.12zM133.03 325.12h4.02v8.45h-4.02zM183.29 325.12h9.05v8.45h-9.05zM194.34 325.12h13.07v8.45h-13.07zM208.42 325.12h7.04v8.45h-7.04zM216.46 325.12h4.02v8.45h-4.02zM223.49 325.12h1.01v8.45h-1.01zM49.60 333.58h3.02v8.45h-3.02zM60.66 333.58h3.02v8.45h-3.02zM76.74 333.58h8.04v8.45h-8.04zM93.83 333.58h8.04v8.45h-8.04zM106.89 333.58h11.06v8.45h-11.06zM119.96 333.58h7.04v8.45h-7.04zM128.00 333.58h2.01v8.45h-2.01zM131.02 333.58h5.03v8.45h-5.03zM137.05 333.58h7.04v8.45h-7.04zM145.09 333.58h1.01v8.45h-1.01zM155.14 333.58h4.02v8.45h-4.02zM160.17 333.58h4.02v8.45h-4.02zM165.19 333.58h1.01v8.45h-1.01zM181.28 333.58h2.01v8.45h-2.01zM187.31 333.58h8.04v8.45h-8.04zM50.61 342.03h9.05v8.45h-9.05zM64.68 342.03h9.05v8.45h-9.05zM74.73 342.03h1.01v8.45h-1.01zM76.74 342.03h15.08v8.45h-15.08zM92.82 342.03h37.19v8.45h-37.19zM131.02 342.03h26.13v8.45h-26.13zM158.16 342.03h26.13v8.45h-26.13zM187.31 342.03h3.02v8.45h-3.02zM193.34 342.03h12.06v8.45h-12.06zM206.41 342.03h14.07v8.45h-14.07zM221.48 342.03h3.02v8.45h-3.02zM49.60 350.48h8.04v8.45h-8.04zM58.65 350.48h20.10v8.45h-20.10zM166.20 350.48h3.02v8.45h-3.02zM170.22 350.48h5.03v8.45h-5.03zM182.28 350.48h20.10v8.45h-20.10zM203.39 350.48h4.02v8.45h-4.02zM208.42 350.48h3.02v8.45h-3.02zM214.45 350.48h2.01v8.45h-2.01zM217.46 350.48h7.04v8.45h-7.04zM49.60 358.94h5.03v8.45h-5.03zM55.63 358.94h4.02v8.45h-4.02zM62.67 358.94h2.01v8.45h-2.01zM75.73 358.94h1.01v8.45h-1.01zM78.75 358.94h8.04v8.45h-8.04zM95.84 358.94h5.03v8.45h-5.03zM101.87 358.94h2.01v8.45h-2.01zM105.89 358.94h12.06v8.45h-12.06zM120.97 358.94h4.02v8.45h-4.02zM125.99 358.94h6.03v8.45h-6.03zM134.03 358.94h5.03v8.45h-5.03zM140.07 358.94h1.01v8.45h-1.01zM142.08 358.94h3.02v8.45h-3.02zM149.11 358.94h7.04v8.45h-7.04zM158.16 358.94h9.05v8.45h-9.05zM173.24 358.94h1.01v8.45h-1.01zM195.35 358.94h22.11v8.45h-22.11zM218.47 358.94h6.03v8.45h-6.03zM53.62 367.39h9.05v8.45h-9.05zM66.69 367.39h4.02v8.45h-4.02zM78.75 367.39h6.03v8.45h-6.03zM86.79 367.39h2.01v8.45h-2.01zM89.81 367.39h10.05v8.45h-10.05zM101.87 367.39h4.02v8.45h-4.02zM106.89 367.39h1.01v8.45h-1.01zM117.95 367.39h12.06v8.45h-12.06zM131.02 367.39h1.01v8.45h-1.01zM133.03 367.39h4.02v8.45h-4.02zM171.23 367.39h7.04v8.45h-7.04zM186.30 367.39h2.01v8.45h-2.01zM193.34 367.39h12.06v8.45h-12.06zM206.41 367.39h5.03v8.45h-5.03zM212.44 367.39h3.02v8.45h-3.02zM220.48 367.39h1.01v8.45h-1.01zM223.49 367.39h1.01v8.45h-1.01zM49.60 375.85h3.02v8.45h-3.02zM53.62 375.85h1.01v8.45h-1.01zM55.63 375.85h4.02v8.45h-4.02zM70.71 375.85h1.01v8.45h-1.01zM75.73 375.85h15.08v8.45h-15.08zM92.82 375.85h8.04v8.45h-8.04zM101.87 375.85h2.01v8.45h-2.01zM104.88 375.85h10.05v8.45h-10.05zM115.94 375.85h4.02v8.45h-4.02zM121.97 375.85h5.03v8.45h-5.03zM130.01 375.85h7.04v8.45h-7.04zM166.20 375.85h1.01v8.45h-1.01zM168.21 375.85h2.01v8.45h-2.01zM172.23 375.85h8.04v8.45h-8.04zM193.34 375.85h7.04v8.45h-7.04zM202.39 375.85h4.02v8.45h-4.02zM208.42 375.85h1.01v8.45h-1.01zM211.43 375.85h2.01v8.45h-2.01zM217.46 375.85h7.04v8.45h-7.04z"/>
<path fill="#bed6dd" d="M64.68 71.50h2.01v8.45h-2.01zM74.73 71.50h1.01v8.45h-1.01zM170.22 71.50h1.01v8.45h-1.01zM178.26 71.50h1.01v8.45h-1.01zM211.43 71.50h1.01v8.45h-1.01zM115.94 96.86h1.01v8.45h-1.01zM209.42 96.86h1.01v8.45h-1.01zM217.46 96.86h1.01v8.45h-1.01zM68.70 105.32h1.01v8.45h-1.01zM121.97 105.32h1.01v8.45h-1.01zM195.35 105.32h1.01v8.45h-1.01zM195.35 113.77h1.01v8.45h-1.01zM147.10 122.22h1.01v8.45h-1.01zM175.25 122.22h1.01v8.45h-1.01zM215.45 122.22h1.01v8.45h-1.01zM164.19 139.13h1.01v8.45h-1.01zM101.87 147.59h1.01v8.45h-1.01zM112.93 147.59h1.01v8.45h-1.01zM145.09 147.59h1.01v8.45h-1.01zM188.31 147.59h1.01v8.45h-1.01zM217.46 147.59h1.01v8.45h-1.01zM56.64 172.95h1.01v8.45h-1.01zM124.99 172.95h1.01v8.45h-1.01zM129.01 172.95h1.01v8.45h-1.01zM174.24 172.95h1.01v8.45h-1.01zM214.45 172.95h1.01v8.45h-1.01zM217.46 172.95h1.01v8.45h-1.01zM130.01 198.31h1.01v8.45h-1.01zM200.38 198.31h1.01v8.45h-1.01zM207.41 198.31h1.01v8.45h-1.01zM138.06 215.22h1.01v8.45h-1.01zM131.02 223.67h1.01v8.45h-1.01zM185.30 223.67h1.01v8.45h-1.01zM83.78 240.58h1.01v8.45h-1.01zM53.62 249.04h1.01v8.45h-1.01zM74.73 249.04h1.01v8.45h-1.01zM197.36 249.04h1.01v8.45h-1.01zM192.33 265.94h1.01v8.45h-1.01zM99.86 274.40h1.01v8.45h-1.01zM104.88 274.40h1.01v8.45h-1.01zM203.39 274.40h1.01v8.45h-1.01zM77.74 282.85h1.01v8.45h-1.01zM80.76 282.85h1.01v8.45h-1.01zM95.84 282.85h1.01v8.45h-1.01zM166.20 282.85h1.01v8.45h-1.01zM51.61 291.31h1.01v8.45h-1.01zM87.80 308.21h1.01v8.45h-1.01zM91.82 308.21h1.01v8.45h-1.01zM117.95 308.21h1.01v8.45h-1.01zM98.85 316.67h2.01v8.45h-2.01zM116.95 316.67h1.01v8.45h-1.01zM73.72 342.03h1.01v8.45h-1.01zM157.15 342.03h1.01v8.45h-1.01zM57.64 350.48h1.01v8.45h-1.01zM202.39 350.48h1.01v8.45h-1.01zM207.41 350.48h1.01v8.45h-1.01zM216.46 350.48h1.01v8.45h-1.01zM54.63 358.94h1.01v8.45h-1.01zM119.96 358.94h1.01v8.45h-1.01zM141.07 358.94h1.01v8.45h-1.01zM103.88 375.85h1.01v8.45h-1.01zM207.41 375.85h1.01v8.45h-1.01z"/>
<path fill="#e17373" d="M67.69 71.50h1.01v8.45h-1.01zM50.61 79.95h1.01v8.45h-1.01zM54.63 79.95h1.01v8.45h-1.01zM185.30 79.95h1.01v8.45h-1.01zM50.61 88.41h1.01v8.45h-1.01zM54.63 88.41h1.01v8.45h-1.01zM56.64 88.41h1.01v8.45h-1.01zM59.65 88.41h1.01v8.45h-1.01zM183.29 88.41h1.01v8.45h-1.01zM189.32 88.41h1.01v8.45h-1.01zM55.63 96.86h1.01v8.45h-1.01zM67.69 96.86h1.01v8.45h-1.01zM71.71 96.86h2.01v8.45h-2.01zM78.75 96.86h1.01v8.45h-1.01zM112.93 96.86h1.01v8.45h-1.01zM208.42 96.86h1.01v8.45h-1.01zM223.49 96.86h1.01v8.45h-1.01zM50.61 105.32h1.01v8.45h-1.01zM53.62 113.77h2.01v8.45h-2.01zM58.65 113.77h1.01v8.45h-1.01zM75.73 113.77h1.01v8.45h-1.01zM117.95 113.77h2.01v8.45h-2.01zM186.30 113.77h2.01v8.45h-2.01zM60.66 122.22h1.01v8.45h-1.01zM56.64 130.68h1.01v8.45h-1.01zM58.65 130.68h1.01v8.45h-1.01zM65.68 130.68h1.01v8.45h-1.01zM70.71 130.68h2.01v8.45h-2.01zM110.92 130.68h2.01v8.45h-2.01zM128.00 130.68h1.01v8.45h-1.01zM130.01 130.68h1.01v8.45h-1.01zM183.29 139.13h1.01v8.45h-1.01zM185.30 139.13h1.01v8.45h-1.01zM55.63 147.59h1.01v8.45h-1.01zM66.69 147.59h1.01v8.45h-1.01zM68.70 147.59h2.01v8.45h-2.01zM184.29 147.59h1.01v8.45h-1.01zM52.62 156.04h1.01v8.45h-1.01zM110.92 156.04h1.01v8.45h-1.01zM127.00 156.04h1.01v8.45h-1.01zM134.03 156.04h1.01v8.45h-1.01zM139.06 156.04h1.01v8.45h-1.01zM86.79 164.49h1.01v8.45h-1.01zM103.88 164.49h1.01v8.45h-1.01zM117.95 164.49h1.01v8.45h-1.01zM123.98 164.49h3.02v8.45h-3.02zM128.00 164.49h1.01v8.45h-1.01zM156.15 164.49h2.01v8.45h-2.01zM102.87 172.95h1.01v8.45h-1.01zM98.85 181.40h1.01v8.45h-1.01zM103.88 181.40h2.01v8.45h-2.01zM108.91 181.40h1.01v8.45h-1.01zM154.14 181.40h1.01v8.45h-1.01zM159.16 181.40h1.01v8.45h-1.01zM162.18 181.40h2.01v8.45h-2.01zM98.85 189.86h1.01v8.45h-1.01zM102.87 189.86h2.01v8.45h-2.01zM105.89 189.86h1.01v8.45h-1.01zM112.93 189.86h3.02v8.45h-3.02zM119.96 189.86h1.01v8.45h-1.01zM122.98 189.86h1.01v8.45h-1.01zM117.95 198.31h1.01v8.45h-1.01zM119.96 198.31h1.01v8.45h-1.01zM135.04 198.31h1.01v8.45h-1.01zM52.62 206.76h1.01v8.45h-1.01zM103.88 206.76h1.01v8.45h-1.01zM106.89 206.76h1.01v8.45h-1.01zM142.08 206.76h1.01v8.45h-1.01zM153.13 206.76h1.01v8.45h-1.01zM155.14 206.76h1.01v8.45h-1.01zM168.21 206.76h2.01v8.45h-2.01zM83.78 215.22h2.01v8.45h-2.01zM102.87 215.22h1.01v8.45h-1.01zM108.91 215.22h2.01v8.45h-2.01zM168.21 215.22h1.01v8.45h-1.01zM174.24 215.22h1.01v8.45h-1.01zM99.86 223.67h1.01v8.45h-1.01zM115.94 223.67h1.01v8.45h-1.01zM118.96 223.67h1.01v8.45h-1.01zM49.60 232.13h2.01v8.45h-2.01zM75.73 232.13h1.01v8.45h-1.01zM96.84 232.13h4.02v8.45h-4.02zM111.92 232.13h1.01v8.45h-1.01zM113.93 232.13h1.01v8.45h-1.01zM115.94 232.13h1.01v8.45h-1.01zM122.98 232.13h1.01v8.45h-1.01zM136.04 232.13h1.01v8.45h-1.01zM155.14 232.13h1.01v8.45h-1.01zM159.16 232.13h2.01v8.45h-2.01zM165.19 232.13h1.01v8.45h-1.01zM198.37 232.13h1.01v8.45h-1.01zM200.38 232.13h2.01v8.45h-2.01zM50.61 240.58h2.01v8.45h-2.01zM95.84 249.04h1.01v8.45h-1.01zM114.94 249.04h3.02v8.45h-3.02zM118.96 249.04h1.01v8.45h-1.01zM123.98 249.04h1.01v8.45h-1.01zM125.99 249.04h1.01v8.45h-1.01zM142.08 249.04h1.01v8.45h-1.01zM162.18 249.04h1.01v8.45h-1.01zM100.86 257.49h1.01v8.45h-1.01zM120.97 257.49h2.01v8.45h-2.01zM124.99 257.49h1.01v8.45h-1.01zM142.08 257.49h1.01v8.45h-1.01zM144.09 257.49h2.01v8.45h-2.01zM147.10 257.49h1.01v8.45h-1.01zM101.87 265.94h1.01v8.45h-1.01zM109.91 265.94h1.01v8.45h-1.01zM114.94 265.94h1.01v8.45h-1.01zM116.95 265.94h1.01v8.45h-1.01zM124.99 265.94h1.01v8.45h-1.01zM134.03 265.94h1.01v8.45h-1.01zM138.06 265.94h1.01v8.45h-1.01zM163.18 265.94h1.01v8.45h-1.01zM139.06 274.40h1.01v8.45h-1.01zM148.11 291.31h1.01v8.45h-1.01zM158.16 291.31h1.01v8.45h-1.01zM55.63 299.76h1.01v8.45h-1.01zM83.78 299.76h2.01v8.45h-2.01zM102.87 299.76h2.01v8.45h-2.01zM106.89 299.76h2.01v8.45h-2.01zM109.91 299.76h1.01v8.45h-1.01zM117.95 299.76h1.01v8.45h-1.01zM120.97 299.76h1.01v8.45h-1.01zM145.09 299.76h2.01v8.45h-2.01zM160.17 299.76h1.01v8.45h-1.01zM165.19 299.76h1.01v8.45h-1.01zM196.36 299.76h1.01v8.45h-1.01zM95.84 308.21h1.01v8.45h-1.01zM115.94 308.21h1.01v8.45h-1.01zM156.15 308.21h2.01v8.45h-2.01zM159.16 308.21h2.01v8.45h-2.01zM67.69 316.67h1.01v8.45h-1.01zM79.76 316.67h1.01v8.45h-1.01zM91.82 316.67h3.02v8.45h-3.02zM101.87 316.67h1.01v8.45h-1.01zM105.89 316.67h1.01v8.45h-1.01zM106.89 316.67h1.01v8.45h-1.01zM138.06 316.67h1.01v8.45h-1.01zM158.16 316.67h2.01v8.45h-2.01zM182.28 316.67h1.01v8.45h-1.01zM223.49 316.67h1.01v8.45h-1.01zM168.21 325.12h2.01v8.45h-2.01zM171.23 325.12h2.01v8.45h-2.01zM174.24 325.12h1.01v8.45h-1.01zM71.71 333.58h2.01v8.45h-2.01zM87.80 333.58h1.01v8.45h-1.01zM146.10 333.58h1.01v8.45h-1.01zM148.11 333.58h1.01v8.45h-1.01zM172.23 333.58h1.01v8.45h-1.01zM73.72 358.94h1.01v8.45h-1.01zM176.25 358.94h2.01v8.45h-2.01zM64.68 367.39h2.01v8.45h-2.01zM74.73 367.39h4.02v8.45h-4.02zM166.20 367.39h3.02v8.45h-3.02zM62.67 375.85h1.01v8.45h-1.01zM66.69 375.85h1.01v8.45h-1.01zM180.27 375.85h2.01v8.45h-2.01zM186.30 375.85h1.01v8.45h-1.01zM192.33 375.85h1.01v8.45h-1.01z"/>
<path fill="#e26d6d" d="M69.70 71.50h1.01v8.45h-1.01zM188.31 71.50h2.01v8.45h-2.01zM49.60 79.95h1.01v8.45h-1.01zM51.61 79.95h1.01v8.45h-1.01zM53.62 79.95h1.01v8.45h-1.01zM55.63 79.95h1.01v8.45h-1.01zM62.67 79.95h1.01v8.45h-1.01zM51.61 88.41h1.01v8.45h-1.01zM65.68 88.41h1.01v8.45h-1.01zM84.78 88.41h1.01v8.45h-1.01zM74.73 96.86h1.01v8.45h-1.01zM193.34 96.86h1.01v8.45h-1.01zM222.49 96.86h1.01v8.45h-1.01zM63.67 113.77h2.01v8.45h-2.01zM114.94 113.77h1.01v8.45h-1.01zM116.95 113.77h1.01v8.45h-1.01zM53.62 122.22h2.01v8.45h-2.01zM65.68 122.22h3.02v8.45h-3.02zM69.70 122.22h1.01v8.45h-1.01zM59.65 130.68h1.01v8.45h-1.01zM61.66 130.68h1.01v8.45h-1.01zM63.67 130.68h2.01v8.45h-2.01zM135.04 130.68h1.01v8.45h-1.01zM184.29 130.68h1.01v8.45h-1.01zM192.33 130.68h3.02v8.45h-3.02zM166.20 139.13h2.01v8.45h-2.01zM211.43 139.13h1.01v8.45h-1.01zM57.64 147.59h1.01v8.45h-1.01zM79.76 147.59h1.01v8.45h-1.01zM81.77 147.59h1.01v8.45h-1.01zM114.94 147.59h1.01v8.45h-1.01zM123.98 147.59h1.01v8.45h-1.01zM158.16 147.59h1.01v8.45h-1.01zM185.30 147.59h2.01v8.45h-2.01zM102.87 156.04h2.01v8.45h-2.01zM105.89 156.04h3.02v8.45h-3.02zM113.93 156.04h1.01v8.45h-1.01zM135.04 156.04h1.01v8.45h-1.01zM149.11 156.04h2.01v8.45h-2.01zM155.14 156.04h1.01v8.45h-1.01zM158.16 156.04h2.01v8.45h-2.01zM162.18 156.04h1.01v8.45h-1.01zM165.19 156.04h1.01v8.45h-1.01zM197.36 156.04h1.01v8.45h-1.01zM87.80 164.49h1.01v8.45h-1.01zM97.85 164.49h1.01v8.45h-1.01zM112.93 164.49h1.01v8.45h-1.01zM138.06 164.49h1.01v8.45h-1.01zM164.19 164.49h1.01v8.45h-1.01zM173.24 164.49h1.01v8.45h-1.01zM183.29 164.49h1.01v8.45h-1.01zM185.30 164.49h1.01v8.45h-1.01zM113.93 172.95h1.01v8.45h-1.01zM116.95 172.95h1.01v8.45h-1.01zM50.61 181.40h2.01v8.45h-2.01zM58.65 181.40h1.01v8.45h-1.01zM88.80 181.40h1.01v8.45h-1.01zM91.82 181.40h1.01v8.45h-1.01zM95.84 181.40h1.01v8.45h-1.01zM99.86 181.40h1.01v8.45h-1.01zM101.87 181.40h1.01v8.45h-1.01zM106.89 181.40h1.01v8.45h-1.01zM110.92 181.40h1.01v8.45h-1.01zM113.93 181.40h1.01v8.45h-1.01zM128.00 181.40h1.01v8.45h-1.01zM131.02 181.40h1.01v8.45h-1.01zM134.03 181.40h1.01v8.45h-1.01zM157.15 181.40h2.01v8.45h-2.01zM160.17 181.40h2.01v8.45h-2.01zM93.83 189.86h1.01v8.45h-1.01zM106.89 189.86h1.01v8.45h-1.01zM110.92 189.86h1.01v8.45h-1.01zM181.28 189.86h1.01v8.45h-1.01zM205.40 189.86h1.01v8.45h-1.01zM53.62 198.31h1.01v8.45h-1.01zM55.63 198.31h1.01v8.45h-1.01zM91.82 198.31h1.01v8.45h-1.01zM94.83 198.31h2.01v8.45h-2.01zM99.86 198.31h1.01v8.45h-1.01zM101.87 198.31h1.01v8.45h-1.01zM106.89 198.31h1.01v8.45h-1.01zM118.96 198.31h1.01v8.45h-1.01zM136.04 198.31h1.01v8.45h-1.01zM114.94 206.76h1.01v8.45h-1.01zM119.96 206.76h3.02v8.45h-3.02zM129.01 206.76h2.01v8.45h-2.01zM140.07 206.76h1.01v8.45h-1.01zM152.13 206.76h1.01v8.45h-1.01zM154.14 206.76h1.01v8.45h-1.01zM60.66 215.22h1.01v8.45h-1.01zM153.13 215.22h2.01v8.45h-2.01zM169.22 215.22h1.01v8.45h-1.01zM64.68 223.67h1.01v8.45h-1.01zM93.83 223.67h3.02v8.45h-3.02zM98.85 223.67h1.01v8.45h-1.01zM102.87 223.67h1.01v8.45h-1.01zM104.88 223.67h3.02v8.45h-3.02zM116.95 223.67h2.01v8.45h-2.01zM136.04 223.67h1.01v8.45h-1.01zM139.06 223.67h1.01v8.45h-1.01zM162.18 223.67h1.01v8.45h-1.01zM51.61 232.13h1.01v8.45h-1.01zM94.83 232.13h1.01v8.45h-1.01zM120.97 232.13h1.01v8.45h-1.01zM133.03 232.13h3.02v8.45h-3.02zM154.14 232.13h1.01v8.45h-1.01zM170.22 232.13h2.01v8.45h-2.01zM197.36 232.13h1.01v8.45h-1.01zM59.65 240.58h1.01v8.45h-1.01zM115.94 240.58h1.01v8.45h-1.01zM119.96 240.58h1.01v8.45h-1.01zM134.03 240.58h2.01v8.45h-2.01zM139.06 240.58h1.01v8.45h-1.01zM154.14 240.58h1.01v8.45h-1.01zM87.80 249.04h1.01v8.45h-1.01zM96.84 249.04h2.01v8.45h-2.01zM101.87 249.04h1.01v8.45h-1.01zM103.88 249.04h1.01v8.45h-1.01zM151.12 249.04h1.01v8.45h-1.01zM77.74 257.49h1.01v8.45h-1.01zM94.83 257.49h1.01v8.45h-1.01zM99.86 257.49h1.01v8.45h-1.01zM102.87 257.49h1.01v8.45h-1.01zM113.93 257.49h1.01v8.45h-1.01zM117.95 257.49h3.02v8.45h-3.02zM171.23 257.49h1.01v8.45h-1.01zM79.76 265.94h1.01v8.45h-1.01zM120.97 265.94h1.01v8.45h-1.01zM153.13 265.94h1.01v8.45h-1.01zM200.38 265.94h1.01v8.45h-1.01zM153.13 274.40h1.01v8.45h-1.01zM155.14 274.40h1.01v8.45h-1.01zM155.14 291.31h1.01v8.45h-1.01zM157.15 291.31h1.01v8.45h-1.01zM93.83 299.76h1.01v8.45h-1.01zM100.86 299.76h1.01v8.45h-1.01zM121.97 299.76h1.01v8.45h-1.01zM140.07 299.76h2.01v8.45h-2.01zM155.14 299.76h1.01v8.45h-1.01zM159.16 299.76h1.01v8.45h-1.01zM197.36 299.76h1.01v8.45h-1.01zM79.76 308.21h1.01v8.45h-1.01zM89.81 308.21h1.01v8.45h-1.01zM122.98 308.21h2.01v8.45h-2.01zM135.04 308.21h1.01v8.45h-1.01zM139.06 308.21h1.01v8.45h-1.01zM142.08 308.21h3.02v8.45h-3.02zM146.10 308.21h1.01v8.45h-1.01zM163.18 308.21h1.01v8.45h-1.01zM59.65 316.67h3.02v8.45h-3.02zM68.70 316.67h1.01v8.45h-1.01zM94.83 316.67h1.01v8.45h-1.01zM139.06 316.67h1.01v8.45h-1.01zM143.08 316.67h1.01v8.45h-1.01zM160.17 316.67h1.01v8.45h-1.01zM73.72 325.12h2.01v8.45h-2.01zM90.81 333.58h1.01v8.45h-1.01zM170.22 333.58h1.01v8.45h-1.01zM180.27 333.58h1.01v8.45h-1.01zM212.44 350.48h1.01v8.45h-1.01zM66.69 358.94h1.01v8.45h-1.01zM168.21 358.94h1.01v8.45h-1.01zM192.33 358.94h1.01v8.45h-1.01zM51.61 367.39h2.01v8.45h-2.01zM170.22 367.39h1.01v8.45h-1.01zM181.28 367.39h2.01v8.45h-2.01zM188.31 367.39h1.01v8.45h-1.01zM71.71 375.85h3.02v8.45h-3.02zM215.45 375.85h1.01v8.45h-1.01z"/>
<path fill="#e17979" d="M70.71 71.50h1.01v8.45h-1.01zM61.66 79.95h1.01v8.45h-1.01zM183.29 79.95h1.01v8.45h-1.01zM60.66 88.41h1.01v8.45h-1.01zM62.67 88.41h3.02v8.45h-3.02zM68.70 88.41h1.01v8.45h-1.01zM83.78 88.41h1.01v8.45h-1.01zM194.34 88.41h1.01v8.45h-1.01zM52.62 96.86h2.01v8.45h-2.01zM69.70 96.86h1.01v8.45h-1.01zM73.72 96.86h1.01v8.45h-1.01zM102.87 96.86h1.01v8.45h-1.01zM121.97 96.86h1.01v8.45h-1.01zM189.32 96.86h1.01v8.45h-1.01zM204.40 96.86h1.01v8.45h-1.01zM218.47 96.86h1.01v8.45h-1.01zM220.48 96.86h1.01v8.45h-1.01zM63.67 105.32h1.01v8.45h-1.01zM193.34 105.32h1.01v8.45h-1.01zM208.42 105.32h1.01v8.45h-1.01zM72.72 113.77h3.02v8.45h-3.02zM120.97 113.77h1.01v8.45h-1.01zM181.28 113.77h1.01v8.45h-1.01zM56.64 122.22h1.01v8.45h-1.01zM58.65 122.22h2.01v8.45h-2.01zM61.66 122.22h1.01v8.45h-1.01zM112.93 130.68h1.01v8.45h-1.01zM132.02 130.68h2.01v8.45h-2.01zM136.04 130.68h1.01v8.45h-1.01zM187.31 130.68h1.01v8.45h-1.01zM109.91 139.13h1.01v8.45h-1.01zM178.26 139.13h1.01v8.45h-1.01zM78.75 147.59h1.01v8.45h-1.01zM80.76 147.59h1.01v8.45h-1.01zM82.77 147.59h2.01v8.45h-2.01zM85.79 147.59h2.01v8.45h-2.01zM178.26 147.59h1.01v8.45h-1.01zM204.40 147.59h1.01v8.45h-1.01zM49.60 156.04h3.02v8.45h-3.02zM53.62 156.04h2.01v8.45h-2.01zM77.74 156.04h1.01v8.45h-1.01zM84.78 156.04h2.01v8.45h-2.01zM99.86 156.04h1.01v8.45h-1.01zM101.87 156.04h1.01v8.45h-1.01zM104.88 156.04h1.01v8.45h-1.01zM122.98 156.04h1.01v8.45h-1.01zM145.09 156.04h1.01v8.45h-1.01zM147.10 156.04h2.01v8.45h-2.01zM151.12 156.04h1.01v8.45h-1.01zM163.18 156.04h1.01v8.45h-1.01zM110.92 164.49h1.01v8.45h-1.01zM122.98 164.49h1.01v8.45h-1.01zM127.00 164.49h1.01v8.45h-1.01zM148.11 164.49h1.01v8.45h-1.01zM150.12 164.49h3.02v8.45h-3.02zM169.22 164.49h1.01v8.45h-1.01zM101.87 172.95h1.01v8.45h-1.01zM104.88 172.95h1.01v8.45h-1.01zM107.90 172.95h1.01v8.45h-1.01zM110.92 172.95h1.01v8.45h-1.01zM112.93 172.95h1.01v8.45h-1.01zM118.96 172.95h1.01v8.45h-1.01zM54.63 181.40h1.01v8.45h-1.01zM61.66 181.40h1.01v8.45h-1.01zM129.01 181.40h1.01v8.45h-1.01zM132.02 181.40h1.01v8.45h-1.01zM136.04 181.40h1.01v8.45h-1.01zM83.78 189.86h1.01v8.45h-1.01zM95.84 189.86h2.01v8.45h-2.01zM123.98 189.86h2.01v8.45h-2.01zM137.05 189.86h1.01v8.45h-1.01zM156.15 189.86h1.01v8.45h-1.01zM165.19 189.86h1.01v8.45h-1.01zM96.84 198.31h1.01v8.45h-1.01zM103.88 198.31h1.01v8.45h-1.01zM76.74 206.76h1.01v8.45h-1.01zM115.94 206.76h1.01v8.45h-1.01zM118.96 206.76h1.01v8.45h-1.01zM122.98 206.76h1.01v8.45h-1.01zM143.08 206.76h3.02v8.45h-3.02zM147.10 206.76h1.01v8.45h-1.01zM96.84 215.22h2.01v8.45h-2.01zM155.14 215.22h1.01v8.45h-1.01zM87.80 223.67h1.01v8.45h-1.01zM96.84 223.67h1.01v8.45h-1.01zM123.98 223.67h1.01v8.45h-1.01zM163.18 223.67h2.01v8.45h-2.01zM53.62 232.13h2.01v8.45h-2.01zM89.81 232.13h1.01v8.45h-1.01zM102.87 232.13h1.01v8.45h-1.01zM127.00 232.13h2.01v8.45h-2.01zM162.18 232.13h1.01v8.45h-1.01zM166.20 232.13h2.01v8.45h-2.01zM169.22 232.13h1.01v8.45h-1.01zM172.23 232.13h1.01v8.45h-1.01zM100.86 240.58h3.02v8.45h-3.02zM118.96 240.58h1.01v8.45h-1.01zM130.01 240.58h1.01v8.45h-1.01zM138.06 240.58h1.01v8.45h-1.01zM102.87 249.04h1.01v8.45h-1.01zM104.88 249.04h1.01v8.45h-1.01zM153.13 249.04h1.01v8.45h-1.01zM184.29 249.04h1.01v8.45h-1.01zM78.75 257.49h1.01v8.45h-1.01zM81.77 257.49h1.01v8.45h-1.01zM83.78 257.49h2.01v8.45h-2.01zM116.95 257.49h1.01v8.45h-1.01zM150.12 257.49h1.01v8.45h-1.01zM168.21 257.49h2.01v8.45h-2.01zM173.24 257.49h1.01v8.45h-1.01zM82.77 265.94h1.01v8.45h-1.01zM111.92 265.94h2.01v8.45h-2.01zM128.00 265.94h1.01v8.45h-1.01zM139.06 265.94h1.01v8.45h-1.01zM154.14 265.94h1.01v8.45h-1.01zM161.17 265.94h1.01v8.45h-1.01zM140.07 274.40h1.01v8.45h-1.01zM142.08 274.40h2.01v8.45h-2.01zM158.16 282.85h1.01v8.45h-1.01zM51.61 299.76h1.01v8.45h-1.01zM53.62 299.76h1.01v8.45h-1.01zM91.82 299.76h2.01v8.45h-2.01zM95.84 299.76h1.01v8.45h-1.01zM97.85 299.76h1.01v8.45h-1.01zM112.93 299.76h2.01v8.45h-2.01zM118.96 299.76h1.01v8.45h-1.01zM156.15 299.76h2.01v8.45h-2.01zM74.73 308.21h1.01v8.45h-1.01zM81.77 308.21h1.01v8.45h-1.01zM88.80 308.21h1.01v8.45h-1.01zM101.87 308.21h1.01v8.45h-1.01zM104.88 308.21h1.01v8.45h-1.01zM145.09 308.21h1.01v8.45h-1.01zM161.17 308.21h2.01v8.45h-2.01zM58.65 316.67h1.01v8.45h-1.01zM80.76 316.67h1.01v8.45h-1.01zM82.77 316.67h1.01v8.45h-1.01zM96.84 316.67h1.01v8.45h-1.01zM103.88 316.67h1.01v8.45h-1.01zM123.98 316.67h1.01v8.45h-1.01zM140.07 316.67h2.01v8.45h-2.01zM169.22 316.67h2.01v8.45h-2.01zM174.24 316.67h1.01v8.45h-1.01zM222.49 316.67h1.01v8.45h-1.01zM77.74 325.12h1.01v8.45h-1.01zM192.33 325.12h1.01v8.45h-1.01zM52.62 333.58h1.01v8.45h-1.01zM65.68 333.58h2.01v8.45h-2.01zM68.70 333.58h3.02v8.45h-3.02zM75.73 333.58h1.01v8.45h-1.01zM151.12 333.58h2.01v8.45h-2.01zM177.26 333.58h2.01v8.45h-2.01zM185.30 333.58h1.01v8.45h-1.01zM60.66 342.03h3.02v8.45h-3.02zM86.79 358.94h1.01v8.45h-1.01zM88.80 358.94h1.01v8.45h-1.01zM104.88 358.94h1.01v8.45h-1.01zM157.15 358.94h1.01v8.45h-1.01zM167.21 358.94h1.01v8.45h-1.01zM189.32 358.94h1.01v8.45h-1.01zM191.33 367.39h1.01v8.45h-1.01zM65.68 375.85h1.01v8.45h-1.01zM67.69 375.85h1.01v8.45h-1.01zM74.73 375.85h1.01v8.45h-1.01z"/>
<path fill="#e36868" d="M71.71 71.50h1.01v8.45h-1.01zM183.29 71.50h2.01v8.45h-2.01zM208.42 71.50h1.01v8.45h-1.01zM59.65 79.95h2.01v8.45h-2.01zM63.67 79.95h2.01v8.45h-2.01zM70.71 79.95h2.01v8.45h-2.01zM53.62 88.41h1.01v8.45h-1.01zM55.63 88.41h1.01v8.45h-1.01zM57.64 88.41h1.01v8.45h-1.01zM66.69 88.41h1.01v8.45h-1.01zM49.60 96.86h1.01v8.45h-1.01zM57.64 96.86h1.01v8.45h-1.01zM63.67 96.86h4.02v8.45h-4.02zM79.76 96.86h2.01v8.45h-2.01zM133.03 96.86h1.01v8.45h-1.01zM190.32 96.86h1.01v8.45h-1.01zM219.47 96.86h1.01v8.45h-1.01zM55.63 105.32h3.02v8.45h-3.02zM62.67 105.32h1.01v8.45h-1.01zM71.71 105.32h1.01v8.45h-1.01zM56.64 113.77h1.01v8.45h-1.01zM69.70 113.77h1.01v8.45h-1.01zM102.87 113.77h1.01v8.45h-1.01zM180.27 113.77h1.01v8.45h-1.01zM183.29 113.77h1.01v8.45h-1.01zM185.30 113.77h1.01v8.45h-1.01zM70.71 122.22h1.01v8.45h-1.01zM55.63 130.68h1.01v8.45h-1.01zM57.64 130.68h1.01v8.45h-1.01zM60.66 130.68h1.01v8.45h-1.01zM62.67 130.68h1.01v8.45h-1.01zM56.64 139.13h1.01v8.45h-1.01zM59.65 139.13h1.01v8.45h-1.01zM68.70 139.13h1.01v8.45h-1.01zM70.71 139.13h1.01v8.45h-1.01zM127.00 139.13h6.03v8.45h-6.03zM157.15 147.59h1.01v8.45h-1.01zM167.21 147.59h1.01v8.45h-1.01zM219.47 147.59h1.01v8.45h-1.01zM83.78 156.04h1.01v8.45h-1.01zM137.05 156.04h1.01v8.45h-1.01zM143.08 156.04h2.01v8.45h-2.01zM161.17 156.04h1.01v8.45h-1.01zM198.37 156.04h2.01v8.45h-2.01zM101.87 164.49h1.01v8.45h-1.01zM113.93 164.49h2.01v8.45h-2.01zM130.01 164.49h2.01v8.45h-2.01zM145.09 164.49h1.01v8.45h-1.01zM147.10 164.49h1.01v8.45h-1.01zM161.17 164.49h2.01v8.45h-2.01zM53.62 181.40h1.01v8.45h-1.01zM96.84 181.40h1.01v8.45h-1.01zM119.96 181.40h2.01v8.45h-2.01zM130.01 181.40h1.01v8.45h-1.01zM133.03 181.40h1.01v8.45h-1.01zM167.21 181.40h1.01v8.45h-1.01zM168.21 181.40h2.01v8.45h-2.01zM171.23 181.40h1.01v8.45h-1.01zM100.86 189.86h2.01v8.45h-2.01zM92.82 198.31h2.01v8.45h-2.01zM102.87 206.76h1.01v8.45h-1.01zM105.89 206.76h1.01v8.45h-1.01zM113.93 206.76h1.01v8.45h-1.01zM116.95 206.76h1.01v8.45h-1.01zM136.04 206.76h1.01v8.45h-1.01zM158.16 206.76h3.02v8.45h-3.02zM162.18 206.76h2.01v8.45h-2.01zM167.21 206.76h1.01v8.45h-1.01zM171.23 206.76h1.01v8.45h-1.01zM81.77 215.22h1.01v8.45h-1.01zM92.82 215.22h1.01v8.45h-1.01zM95.84 215.22h1.01v8.45h-1.01zM99.86 215.22h1.01v8.45h-1.01zM100.86 215.22h1.01v8.45h-1.01zM103.88 215.22h1.01v8.45h-1.01zM106.89 215.22h1.01v8.45h-1.01zM172.23 215.22h1.01v8.45h-1.01zM197.36 215.22h1.01v8.45h-1.01zM97.85 223.67h1.01v8.45h-1.01zM101.87 223.67h1.01v8.45h-1.01zM103.88 223.67h1.01v8.45h-1.01zM113.93 223.67h1.01v8.45h-1.01zM122.98 223.67h1.01v8.45h-1.01zM153.13 223.67h2.01v8.45h-2.01zM76.74 232.13h1.01v8.45h-1.01zM112.93 232.13h1.01v8.45h-1.01zM116.95 232.13h3.02v8.45h-3.02zM153.13 232.13h1.01v8.45h-1.01zM49.60 240.58h1.01v8.45h-1.01zM80.76 240.58h1.01v8.45h-1.01zM123.98 240.58h1.01v8.45h-1.01zM78.75 249.04h4.02v8.45h-4.02zM86.79 249.04h1.01v8.45h-1.01zM108.91 249.04h4.02v8.45h-4.02zM113.93 249.04h1.01v8.45h-1.01zM119.96 249.04h1.01v8.45h-1.01zM121.97 249.04h2.01v8.45h-2.01zM138.06 249.04h2.01v8.45h-2.01zM148.11 249.04h1.01v8.45h-1.01zM160.17 249.04h1.01v8.45h-1.01zM111.92 257.49h1.01v8.45h-1.01zM146.10 257.49h1.01v8.45h-1.01zM165.19 257.49h1.01v8.45h-1.01zM170.22 257.49h1.01v8.45h-1.01zM89.81 265.94h1.01v8.45h-1.01zM103.88 265.94h1.01v8.45h-1.01zM115.94 265.94h1.01v8.45h-1.01zM117.95 265.94h2.01v8.45h-2.01zM136.04 265.94h1.01v8.45h-1.01zM147.10 265.94h3.02v8.45h-3.02zM210.43 265.94h1.01v8.45h-1.01zM148.11 274.40h1.01v8.45h-1.01zM150.12 274.40h1.01v8.45h-1.01zM89.81 291.31h1.01v8.45h-1.01zM142.08 291.31h1.01v8.45h-1.01zM154.14 291.31h1.01v8.45h-1.01zM162.18 291.31h1.01v8.45h-1.01zM56.64 299.76h1.01v8.45h-1.01zM81.77 299.76h1.01v8.45h-1.01zM87.80 299.76h1.01v8.45h-1.01zM135.04 299.76h1.01v8.45h-1.01zM142.08 299.76h1.01v8.45h-1.01zM147.10 299.76h2.01v8.45h-2.01zM154.14 299.76h1.01v8.45h-1.01zM80.76 308.21h1.01v8.45h-1.01zM121.97 308.21h1.01v8.45h-1.01zM147.10 308.21h2.01v8.45h-2.01zM95.84 316.67h1.01v8.45h-1.01zM128.00 316.67h2.01v8.45h-2.01zM166.20 316.67h3.02v8.45h-3.02zM188.31 316.67h1.01v8.45h-1.01zM71.71 325.12h2.01v8.45h-2.01zM167.21 325.12h1.01v8.45h-1.01zM178.26 325.12h4.02v8.45h-4.02zM193.34 325.12h1.01v8.45h-1.01zM57.64 333.58h3.02v8.45h-3.02zM86.79 333.58h1.01v8.45h-1.01zM89.81 333.58h1.01v8.45h-1.01zM105.89 333.58h1.01v8.45h-1.01zM175.25 350.48h1.01v8.45h-1.01zM177.26 350.48h4.02v8.45h-4.02zM103.88 358.94h1.01v8.45h-1.01zM171.23 358.94h1.01v8.45h-1.01zM72.72 367.39h1.01v8.45h-1.01zM107.90 367.39h10.05v8.45h-10.05zM178.26 367.39h2.01v8.45h-2.01zM184.29 367.39h1.01v8.45h-1.01zM59.65 375.85h1.01v8.45h-1.01zM68.70 375.85h1.01v8.45h-1.01zM182.28 375.85h3.02v8.45h-3.02zM187.31 375.85h1.01v8.45h-1.01zM190.32 375.85h1.01v8.45h-1.01zM201.38 375.85h1.01v8.45h-1.01z"/>
<path fill="#d0d3d5" d="M77.74 71.50h1.01v8.45h-1.01zM90.81 71.50h1.01v8.45h-1.01zM93.83 71.50h1.01v8.45h-1.01zM98.85 71.50h1.01v8.45h-1.01zM101.87 71.50h1.01v8.45h-1.01zM132.02 96.86h1.01v8.45h-1.01zM125.99 105.32h1.01v8.45h-1.01zM133.03 105.32h1.01v8.45h-1.01zM145.09 105.32h1.01v8.45h-1.01zM147.10 105.32h1.01v8.45h-1.01zM210.43 105.32h1.01v8.45h-1.01zM76.74 122.22h1.01v8.45h-1.01zM78.75 122.22h1.01v8.45h-1.01zM93.83 122.22h1.01v8.45h-1.01zM127.00 122.22h1.01v8.45h-1.01zM145.09 122.22h1.01v8.45h-1.01zM53.62 139.13h1.01v8.45h-1.01zM80.76 139.13h1.01v8.45h-1.01zM87.80 139.13h1.01v8.45h-1.01zM176.25 139.13h1.01v8.45h-1.01zM195.35 139.13h1.01v8.45h-1.01zM115.94 147.59h1.01v8.45h-1.01zM53.62 164.49h1.01v8.45h-1.01zM55.63 172.95h1.01v8.45h-1.01zM58.65 172.95h1.01v8.45h-1.01zM87.80 172.95h1.01v8.45h-1.01zM186.30 172.95h1.01v8.45h-1.01zM120.97 189.86h1.01v8.45h-1.01zM210.43 198.31h1.01v8.45h-1.01zM160.17 215.22h1.01v8.45h-1.01zM157.15 223.67h1.01v8.45h-1.01zM192.33 223.67h1.01v8.45h-1.01zM219.47 223.67h1.01v8.45h-1.01zM202.39 240.58h1.01v8.45h-1.01zM77.74 249.04h1.01v8.45h-1.01zM128.00 249.04h1.01v8.45h-1.01zM68.70 257.49h1.01v8.45h-1.01zM159.16 257.49h1.01v8.45h-1.01zM68.70 265.94h1.01v8.45h-1.01zM196.36 265.94h1.01v8.45h-1.01zM208.42 265.94h1.01v8.45h-1.01zM71.71 274.40h1.01v8.45h-1.01zM115.94 274.40h1.01v8.45h-1.01zM117.95 274.40h1.01v8.45h-1.01zM171.23 274.40h1.01v8.45h-1.01zM173.24 274.40h1.01v8.45h-1.01zM67.69 282.85h1.01v8.45h-1.01zM130.01 282.85h1.01v8.45h-1.01zM196.36 282.85h1.01v8.45h-1.01zM223.49 282.85h1.01v8.45h-1.01zM108.91 291.31h1.01v8.45h-1.01zM114.94 291.31h1.01v8.45h-1.01zM134.03 291.31h1.01v8.45h-1.01zM49.60 316.67h1.01v8.45h-1.01zM120.97 316.67h1.01v8.45h-1.01zM51.61 325.12h1.01v8.45h-1.01zM215.45 325.12h1.01v8.45h-1.01zM92.82 333.58h1.01v8.45h-1.01zM127.00 333.58h1.01v8.45h-1.01zM130.01 333.58h1.01v8.45h-1.01zM136.04 333.58h1.01v8.45h-1.01zM144.09 333.58h1.01v8.45h-1.01zM171.23 333.58h1.01v8.45h-1.01zM91.82 342.03h1.01v8.45h-1.01zM211.43 350.48h1.01v8.45h-1.01zM156.15 358.94h1.01v8.45h-1.01zM52.62 375.85h1.01v8.45h-1.01zM54.63 375.85h1.01v8.45h-1.01zM100.86 375.85h1.01v8.45h-1.01z"/>
<path fill="#d9abab" d="M121.97 71.50h1.01v8.45h-1.01zM213.44 71.50h1.01v8.45h-1.01zM199.37 96.86h1.01v8.45h-1.01zM110.92 105.32h1.01v8.45h-1.01zM75.73 139.13h2.01v8.45h-2.01zM198.37 147.59h1.01v8.45h-1.01zM88.80 156.04h1.01v8.45h-1.01zM73.72 164.49h1.01v8.45h-1.01zM73.72 189.86h1.01v8.45h-1.01zM80.76 189.86h1.01v8.45h-1.01zM136.04 189.86h1.01v8.45h-1.01zM191.33 189.86h1.01v8.45h-1.01zM183.29 198.31h1.01v8.45h-1.01zM193.34 198.31h1.01v8.45h-1.01zM152.13 215.22h1.01v8.45h-1.01zM62.67 223.67h1.01v8.45h-1.01zM94.83 240.58h1.01v8.45h-1.01zM104.88 240.58h1.01v8.45h-1.01zM164.19 249.04h2.01v8.45h-2.01zM50.61 257.49h2.01v8.45h-2.01zM56.64 257.49h1.01v8.45h-1.01zM58.65 257.49h1.01v8.45h-1.01zM154.14 257.49h1.01v8.45h-1.01zM156.15 257.49h1.01v8.45h-1.01zM130.01 265.94h1.01v8.45h-1.01zM137.05 282.85h1.01v8.45h-1.01zM86.79 291.31h1.01v8.45h-1.01zM131.02 299.76h1.01v8.45h-1.01zM198.37 299.76h1.01v8.45h-1.01zM202.39 299.76h1.01v8.45h-1.01zM132.02 308.21h1.01v8.45h-1.01zM145.09 358.94h2.01v8.45h-2.01zM50.61 367.39h1.01v8.45h-1.01zM63.67 367.39h1.01v8.45h-1.01zM84.78 367.39h1.01v8.45h-1.01zM128.00 375.85h1.01v8.45h-1.01zM145.09 375.85h1.01v8.45h-1.01z"/>
<path fill="#daa6a6" d="M124.99 71.50h1.01v8.45h-1.01zM198.37 79.95h1.01v8.45h-1.01zM202.39 79.95h1.01v8.45h-1.01zM217.46 79.95h1.01v8.45h-1.01zM211.43 88.41h1.01v8.45h-1.01zM156.15 96.86h1.01v8.45h-1.01zM161.17 113.77h1.01v8.45h-1.01zM213.44 113.77h1.01v8.45h-1.01zM216.46 113.77h1.01v8.45h-1.01zM72.72 130.68h1.01v8.45h-1.01zM90.81 130.68h1.01v8.45h-1.01zM92.82 130.68h1.01v8.45h-1.01zM198.37 130.68h1.01v8.45h-1.01zM197.36 139.13h1.01v8.45h-1.01zM208.42 139.13h1.01v8.45h-1.01zM110.92 147.59h1.01v8.45h-1.01zM134.03 147.59h1.01v8.45h-1.01zM214.45 147.59h1.01v8.45h-1.01zM49.60 164.49h1.01v8.45h-1.01zM51.61 164.49h1.01v8.45h-1.01zM223.49 181.40h1.01v8.45h-1.01zM52.62 189.86h1.01v8.45h-1.01zM55.63 189.86h1.01v8.45h-1.01zM194.34 189.86h1.01v8.45h-1.01zM208.42 189.86h1.01v8.45h-1.01zM216.46 189.86h2.01v8.45h-2.01zM212.44 198.31h1.01v8.45h-1.01zM54.63 215.22h1.01v8.45h-1.01zM222.49 240.58h1.01v8.45h-1.01zM72.72 249.04h1.01v8.45h-1.01zM189.32 249.04h1.01v8.45h-1.01zM209.42 249.04h1.01v8.45h-1.01zM93.83 291.31h1.01v8.45h-1.01zM102.87 325.12h1.01v8.45h-1.01zM131.02 325.12h2.01v8.45h-2.01zM221.48 325.12h1.01v8.45h-1.01zM220.48 342.03h1.01v8.45h-1.01zM96.84 350.48h2.01v8.45h-2.01zM169.22 350.48h1.01v8.45h-1.01zM100.86 358.94h1.01v8.45h-1.01zM148.11 358.94h1.01v8.45h-1.01zM217.46 358.94h1.01v8.45h-1.01zM105.89 367.39h1.01v8.45h-1.01zM142.08 367.39h1.01v8.45h-1.01zM215.45 367.39h1.01v8.45h-1.01zM218.47 367.39h2.01v8.45h-2.01zM221.48 367.39h1.01v8.45h-1.01zM119.96 375.85h2.01v8.45h-2.01zM137.05 375.85h1.01v8.45h-1.01zM171.23 375.85h1.01v8.45h-1.01zM209.42 375.85h1.01v8.45h-1.01zM213.44 375.85h1.01v8.45h-1.01z"/>
<path fill="#dc9595" d="M182.28 71.50h1.01v8.45h-1.01zM110.92 96.86h1.01v8.45h-1.01zM170.22 96.86h1.01v8.45h-1.01zM89.81 130.68h1.01v8.45h-1.01zM113.93 139.13h1.01v8.45h-1.01zM115.94 139.13h1.01v8.45h-1.01zM192.33 139.13h1.01v8.45h-1.01zM89.81 156.04h1.01v8.45h-1.01zM82.77 172.95h1.01v8.45h-1.01zM81.77 181.40h1.01v8.45h-1.01zM81.77 189.86h2.01v8.45h-2.01zM135.04 189.86h1.01v8.45h-1.01zM86.79 206.76h2.01v8.45h-2.01zM204.40 206.76h1.01v8.45h-1.01zM77.74 232.13h1.01v8.45h-1.01zM148.11 232.13h2.01v8.45h-2.01zM105.89 240.58h2.01v8.45h-2.01zM141.07 240.58h1.01v8.45h-1.01zM49.60 257.49h1.01v8.45h-1.01zM52.62 257.49h1.01v8.45h-1.01zM57.64 257.49h1.01v8.45h-1.01zM59.65 257.49h2.01v8.45h-2.01zM105.89 257.49h2.01v8.45h-2.01zM153.13 257.49h1.01v8.45h-1.01zM176.25 257.49h1.01v8.45h-1.01zM80.76 265.94h2.01v8.45h-2.01zM129.01 265.94h1.01v8.45h-1.01zM152.13 265.94h1.01v8.45h-1.01zM124.99 299.76h1.01v8.45h-1.01zM130.01 299.76h1.01v8.45h-1.01zM199.37 299.76h1.01v8.45h-1.01zM201.38 299.76h1.01v8.45h-1.01zM51.61 308.21h3.02v8.45h-3.02zM97.85 308.21h1.01v8.45h-1.01zM131.02 308.21h1.01v8.45h-1.01zM134.03 308.21h1.01v8.45h-1.01zM74.73 316.67h4.02v8.45h-4.02zM202.39 316.67h1.01v8.45h-1.01zM62.67 325.12h1.01v8.45h-1.01zM55.63 333.58h1.01v8.45h-1.01zM64.68 333.58h1.01v8.45h-1.01zM153.13 333.58h2.01v8.45h-2.01zM76.74 358.94h1.01v8.45h-1.01zM62.67 367.39h1.01v8.45h-1.01z"/>
<path fill="#dd8f8f" d="M191.33 71.50h2.01v8.45h-2.01zM67.69 79.95h1.01v8.45h-1.01zM67.69 88.41h1.01v8.45h-1.01zM51.61 96.86h1.01v8.45h-1.01zM87.80 96.86h1.01v8.45h-1.01zM100.86 96.86h2.01v8.45h-2.01zM116.95 96.86h1.01v8.45h-1.01zM60.66 105.32h1.01v8.45h-1.01zM192.33 105.32h1.01v8.45h-1.01zM71.71 113.77h1.01v8.45h-1.01zM87.80 113.77h1.01v8.45h-1.01zM147.10 113.77h1.01v8.45h-1.01zM50.61 122.22h1.01v8.45h-1.01zM57.64 122.22h1.01v8.45h-1.01zM51.61 130.68h1.01v8.45h-1.01zM66.69 130.68h2.01v8.45h-2.01zM69.70 130.68h1.01v8.45h-1.01zM131.02 130.68h1.01v8.45h-1.01zM186.30 130.68h1.01v8.45h-1.01zM99.86 139.13h1.01v8.45h-1.01zM179.27 139.13h1.01v8.45h-1.01zM60.66 147.59h1.01v8.45h-1.01zM71.71 147.59h1.01v8.45h-1.01zM106.89 147.59h1.01v8.45h-1.01zM137.05 147.59h1.01v8.45h-1.01zM144.09 147.59h1.01v8.45h-1.01zM147.10 147.59h1.01v8.45h-1.01zM129.01 156.04h1.01v8.45h-1.01zM169.22 156.04h1.01v8.45h-1.01zM171.23 156.04h1.01v8.45h-1.01zM173.24 156.04h1.01v8.45h-1.01zM65.68 164.49h1.01v8.45h-1.01zM68.70 164.49h1.01v8.45h-1.01zM105.89 164.49h2.01v8.45h-2.01zM118.96 164.49h2.01v8.45h-2.01zM121.97 164.49h1.01v8.45h-1.01zM153.13 164.49h2.01v8.45h-2.01zM159.16 164.49h2.01v8.45h-2.01zM94.83 172.95h1.01v8.45h-1.01zM108.91 172.95h2.01v8.45h-2.01zM111.92 172.95h1.01v8.45h-1.01zM119.96 172.95h2.01v8.45h-2.01zM123.98 172.95h1.01v8.45h-1.01zM70.71 181.40h1.01v8.45h-1.01zM82.77 181.40h2.01v8.45h-2.01zM115.94 181.40h2.01v8.45h-2.01zM118.96 181.40h1.01v8.45h-1.01zM165.19 181.40h1.01v8.45h-1.01zM118.96 189.86h1.01v8.45h-1.01zM138.06 189.86h1.01v8.45h-1.01zM179.27 189.86h1.01v8.45h-1.01zM95.84 206.76h1.01v8.45h-1.01zM108.91 206.76h1.01v8.45h-1.01zM134.03 206.76h1.01v8.45h-1.01zM115.94 215.22h1.01v8.45h-1.01zM117.95 215.22h1.01v8.45h-1.01zM143.08 215.22h1.01v8.45h-1.01zM151.12 215.22h1.01v8.45h-1.01zM61.66 223.67h1.01v8.45h-1.01zM196.36 223.67h1.01v8.45h-1.01zM105.89 232.13h1.01v8.45h-1.01zM121.97 232.13h1.01v8.45h-1.01zM123.98 232.13h3.02v8.45h-3.02zM129.01 232.13h1.01v8.45h-1.01zM157.15 232.13h1.01v8.45h-1.01zM161.17 232.13h1.01v8.45h-1.01zM173.24 232.13h1.01v8.45h-1.01zM55.63 240.58h1.01v8.45h-1.01zM75.73 240.58h1.01v8.45h-1.01zM95.84 240.58h1.01v8.45h-1.01zM128.00 240.58h1.01v8.45h-1.01zM142.08 240.58h1.01v8.45h-1.01zM67.69 249.04h1.01v8.45h-1.01zM94.83 249.04h1.01v8.45h-1.01zM135.04 249.04h1.01v8.45h-1.01zM80.76 257.49h1.01v8.45h-1.01zM82.77 257.49h1.01v8.45h-1.01zM101.87 257.49h1.01v8.45h-1.01zM103.88 257.49h1.01v8.45h-1.01zM123.98 257.49h1.01v8.45h-1.01zM148.11 257.49h2.01v8.45h-2.01zM157.15 257.49h1.01v8.45h-1.01zM162.18 257.49h1.01v8.45h-1.01zM174.24 257.49h1.01v8.45h-1.01zM179.27 257.49h1.01v8.45h-1.01zM84.78 265.94h1.01v8.45h-1.01zM85.79 265.94h2.01v8.45h-2.01zM122.98 265.94h2.01v8.45h-2.01zM125.99 265.94h1.01v8.45h-1.01zM160.17 265.94h1.01v8.45h-1.01zM138.06 274.40h1.01v8.45h-1.01zM141.07 274.40h1.01v8.45h-1.01zM156.15 274.40h1.01v8.45h-1.01zM138.06 282.85h1.01v8.45h-1.01zM155.14 282.85h1.01v8.45h-1.01zM87.80 291.31h1.01v8.45h-1.01zM137.05 291.31h3.02v8.45h-3.02zM140.07 291.31h2.01v8.45h-2.01zM144.09 291.31h1.01v8.45h-1.01zM90.81 299.76h1.01v8.45h-1.01zM96.84 308.21h1.01v8.45h-1.01zM98.85 308.21h1.01v8.45h-1.01zM105.89 308.21h1.01v8.45h-1.01zM124.99 308.21h1.01v8.45h-1.01zM78.75 316.67h1.01v8.45h-1.01zM102.87 316.67h1.01v8.45h-1.01zM201.38 316.67h1.01v8.45h-1.01zM208.42 316.67h1.01v8.45h-1.01zM215.45 316.67h1.01v8.45h-1.01zM60.66 325.12h1.01v8.45h-1.01zM76.74 325.12h1.01v8.45h-1.01zM97.85 325.12h1.01v8.45h-1.01zM137.05 325.12h1.01v8.45h-1.01zM177.26 325.12h1.01v8.45h-1.01zM53.62 333.58h2.01v8.45h-2.01zM117.95 333.58h1.01v8.45h-1.01zM150.12 333.58h1.01v8.45h-1.01zM159.16 333.58h1.01v8.45h-1.01zM186.30 333.58h1.01v8.45h-1.01zM63.67 342.03h1.01v8.45h-1.01zM190.32 342.03h1.01v8.45h-1.01zM77.74 358.94h1.01v8.45h-1.01zM147.10 358.94h1.01v8.45h-1.01zM184.29 358.94h2.01v8.45h-2.01zM217.46 367.39h1.01v8.45h-1.01zM64.68 375.85h1.01v8.45h-1.01zM90.81 375.85h1.01v8.45h-1.01z"/>
<path fill="#d8b1b1" d="M217.46 71.50h1.01v8.45h-1.01zM203.39 79.95h1.01v8.45h-1.01zM75.73 96.86h1.01v8.45h-1.01zM211.43 105.32h1.01v8.45h-1.01zM88.80 113.77h2.01v8.45h-2.01zM92.82 113.77h1.01v8.45h-1.01zM192.33 113.77h1.01v8.45h-1.01zM202.39 113.77h1.01v8.45h-1.01zM210.43 113.77h1.01v8.45h-1.01zM77.74 122.22h1.01v8.45h-1.01zM194.34 122.22h1.01v8.45h-1.01zM73.72 130.68h1.01v8.45h-1.01zM80.76 130.68h1.01v8.45h-1.01zM91.82 130.68h1.01v8.45h-1.01zM99.86 130.68h1.01v8.45h-1.01zM202.39 139.13h1.01v8.45h-1.01zM209.42 139.13h1.01v8.45h-1.01zM133.03 147.59h1.01v8.45h-1.01zM52.62 164.49h1.01v8.45h-1.01zM56.64 164.49h1.01v8.45h-1.01zM83.78 172.95h1.01v8.45h-1.01zM71.71 189.86h1.01v8.45h-1.01zM77.74 189.86h1.01v8.45h-1.01zM74.73 198.31h1.01v8.45h-1.01zM144.09 198.31h1.01v8.45h-1.01zM151.12 198.31h1.01v8.45h-1.01zM73.72 206.76h1.01v8.45h-1.01zM61.66 215.22h1.01v8.45h-1.01zM65.68 215.22h1.01v8.45h-1.01zM210.43 215.22h1.01v8.45h-1.01zM57.64 223.67h1.01v8.45h-1.01zM182.28 240.58h1.01v8.45h-1.01zM92.82 291.31h1.01v8.45h-1.01zM101.87 325.12h1.01v8.45h-1.01zM220.48 325.12h1.01v8.45h-1.01zM222.49 325.12h1.01v8.45h-1.01zM75.73 342.03h1.01v8.45h-1.01zM205.40 342.03h1.01v8.45h-1.01zM150.12 350.48h1.01v8.45h-1.01zM139.06 358.94h1.01v8.45h-1.01zM85.79 367.39h1.01v8.45h-1.01zM114.94 375.85h1.01v8.45h-1.01zM127.00 375.85h1.01v8.45h-1.01zM200.38 375.85h1.01v8.45h-1.01zM206.41 375.85h1.01v8.45h-1.01z"/>
<path fill="#de8a8a" d="M52.62 79.95h1.01v8.45h-1.01zM56.64 79.95h1.01v8.45h-1.01zM186.30 79.95h1.01v8.45h-1.01zM191.33 88.41h1.01v8.45h-1.01zM49.60 105.32h1.01v8.45h-1.01zM51.61 105.32h1.01v8.45h-1.01zM195.35 130.68h1.01v8.45h-1.01zM206.41 139.13h1.01v8.45h-1.01zM143.08 147.59h1.01v8.45h-1.01zM169.22 147.59h1.01v8.45h-1.01zM109.91 156.04h1.01v8.45h-1.01zM196.36 156.04h1.01v8.45h-1.01zM95.84 164.49h2.01v8.45h-2.01zM137.05 164.49h1.01v8.45h-1.01zM78.75 172.95h1.01v8.45h-1.01zM100.86 181.40h1.01v8.45h-1.01zM102.87 181.40h1.01v8.45h-1.01zM105.89 181.40h1.01v8.45h-1.01zM109.91 181.40h1.01v8.45h-1.01zM112.93 181.40h1.01v8.45h-1.01zM114.94 181.40h1.01v8.45h-1.01zM155.14 181.40h1.01v8.45h-1.01zM85.79 189.86h1.01v8.45h-1.01zM155.14 189.86h1.01v8.45h-1.01zM137.05 206.76h3.02v8.45h-3.02zM141.07 206.76h1.01v8.45h-1.01zM145.09 215.22h2.01v8.45h-2.01zM119.96 223.67h1.01v8.45h-1.01zM93.83 232.13h1.01v8.45h-1.01zM95.84 232.13h1.01v8.45h-1.01zM132.02 232.13h1.01v8.45h-1.01zM163.18 232.13h2.01v8.45h-2.01zM157.15 240.58h1.01v8.45h-1.01zM131.02 249.04h1.01v8.45h-1.01zM63.67 257.49h2.01v8.45h-2.01zM78.75 265.94h1.01v8.45h-1.01zM108.91 265.94h1.01v8.45h-1.01zM119.96 265.94h1.01v8.45h-1.01zM121.97 265.94h1.01v8.45h-1.01zM147.10 291.31h1.01v8.45h-1.01zM159.16 291.31h1.01v8.45h-1.01zM205.40 291.31h1.01v8.45h-1.01zM101.87 299.76h1.01v8.45h-1.01zM104.88 299.76h1.01v8.45h-1.01zM155.14 308.21h1.01v8.45h-1.01zM164.19 308.21h2.01v8.45h-2.01zM56.64 316.67h1.01v8.45h-1.01zM90.81 316.67h1.01v8.45h-1.01zM137.05 316.67h1.01v8.45h-1.01zM173.24 325.12h1.01v8.45h-1.01zM175.25 325.12h1.01v8.45h-1.01zM73.72 333.58h1.01v8.45h-1.01zM149.11 333.58h1.01v8.45h-1.01zM211.43 367.39h1.01v8.45h-1.01z"/>
<path fill="#b3d7e3" d="M57.64 79.95h2.01v8.45h-2.01zM73.72 79.95h41.21v8.45h-41.21zM115.94 79.95h27.14v8.45h-27.14zM144.09 79.95h13.07v8.45h-13.07zM158.16 79.95h25.13v8.45h-25.13zM184.29 79.95h1.01v8.45h-1.01zM189.32 79.95h2.01v8.45h-2.01zM193.34 79.95h5.03v8.45h-5.03zM199.37 79.95h2.01v8.45h-2.01zM204.40 79.95h12.06v8.45h-12.06zM218.47 79.95h6.03v8.45h-6.03zM61.66 88.41h1.01v8.45h-1.01zM73.72 88.41h10.05v8.45h-10.05zM85.79 88.41h28.14v8.45h-28.14zM114.94 88.41h52.27v8.45h-52.27zM168.21 88.41h15.08v8.45h-15.08zM187.31 88.41h1.01v8.45h-1.01zM195.35 88.41h16.08v8.45h-16.08zM212.44 88.41h7.04v8.45h-7.04zM220.48 88.41h1.01v8.45h-1.01zM222.49 88.41h2.01v8.45h-2.01zM85.79 96.86h1.01v8.45h-1.01zM89.81 96.86h7.04v8.45h-7.04zM97.85 96.86h3.02v8.45h-3.02zM103.88 96.86h4.02v8.45h-4.02zM138.06 96.86h3.02v8.45h-3.02zM142.08 96.86h5.03v8.45h-5.03zM148.11 96.86h1.01v8.45h-1.01zM150.12 96.86h5.03v8.45h-5.03zM157.15 96.86h4.02v8.45h-4.02zM163.18 96.86h4.02v8.45h-4.02zM168.21 96.86h2.01v8.45h-2.01zM171.23 96.86h10.05v8.45h-10.05zM182.28 96.86h7.04v8.45h-7.04zM191.33 96.86h2.01v8.45h-2.01zM194.34 96.86h1.01v8.45h-1.01zM137.05 113.77h10.05v8.45h-10.05zM148.11 113.77h1.01v8.45h-1.01zM150.12 113.77h11.06v8.45h-11.06zM162.18 113.77h5.03v8.45h-5.03zM168.21 113.77h7.04v8.45h-7.04zM176.25 113.77h2.01v8.45h-2.01zM189.32 113.77h3.02v8.45h-3.02zM193.34 113.77h2.01v8.45h-2.01zM78.75 130.68h2.01v8.45h-2.01zM81.77 130.68h4.02v8.45h-4.02zM86.79 130.68h2.01v8.45h-2.01zM93.83 130.68h6.03v8.45h-6.03zM100.86 130.68h7.04v8.45h-7.04zM137.05 130.68h6.03v8.45h-6.03zM144.09 130.68h3.02v8.45h-3.02zM148.11 130.68h7.04v8.45h-7.04zM156.15 130.68h8.04v8.45h-8.04zM165.19 130.68h1.01v8.45h-1.01zM60.66 156.04h6.03v8.45h-6.03zM67.69 156.04h2.01v8.45h-2.01zM70.71 156.04h5.03v8.45h-5.03zM166.20 156.04h1.01v8.45h-1.01zM175.25 156.04h17.09v8.45h-17.09zM193.34 156.04h2.01v8.45h-2.01zM201.38 156.04h23.12v8.45h-23.12zM195.35 164.49h7.04v8.45h-7.04zM203.39 164.49h5.03v8.45h-5.03zM209.42 164.49h9.05v8.45h-9.05zM219.47 164.49h5.03v8.45h-5.03zM49.60 181.40h1.01v8.45h-1.01zM55.63 181.40h1.01v8.45h-1.01zM62.67 181.40h8.04v8.45h-8.04zM71.71 181.40h7.04v8.45h-7.04zM173.24 181.40h6.03v8.45h-6.03zM180.27 181.40h13.07v8.45h-13.07zM194.34 181.40h29.15v8.45h-29.15zM49.60 198.31h4.02v8.45h-4.02zM56.64 198.31h1.01v8.45h-1.01zM58.65 198.31h7.04v8.45h-7.04zM66.69 198.31h8.04v8.45h-8.04zM75.73 198.31h3.02v8.45h-3.02zM137.05 198.31h3.02v8.45h-3.02zM141.07 198.31h3.02v8.45h-3.02zM145.09 198.31h6.03v8.45h-6.03zM152.13 198.31h3.02v8.45h-3.02zM156.15 198.31h10.05v8.45h-10.05zM53.62 206.76h2.01v8.45h-2.01zM59.65 206.76h14.07v8.45h-14.07zM74.73 206.76h2.01v8.45h-2.01zM172.23 206.76h20.10v8.45h-20.10zM193.34 206.76h11.06v8.45h-11.06zM205.40 206.76h2.01v8.45h-2.01zM208.42 206.76h14.07v8.45h-14.07zM223.49 206.76h1.01v8.45h-1.01zM118.96 215.22h18.09v8.45h-18.09zM167.21 215.22h1.01v8.45h-1.01zM170.22 215.22h1.01v8.45h-1.01zM177.26 215.22h20.10v8.45h-20.10zM198.37 215.22h12.06v8.45h-12.06zM211.43 215.22h2.01v8.45h-2.01zM214.45 215.22h5.03v8.45h-5.03zM221.48 215.22h1.01v8.45h-1.01zM223.49 215.22h1.01v8.45h-1.01zM56.64 232.13h9.05v8.45h-9.05zM66.69 232.13h9.05v8.45h-9.05zM174.24 232.13h23.12v8.45h-23.12zM202.39 232.13h12.06v8.45h-12.06zM215.45 232.13h6.03v8.45h-6.03zM222.49 232.13h2.01v8.45h-2.01zM52.62 240.58h2.01v8.45h-2.01zM56.64 240.58h3.02v8.45h-3.02zM60.66 240.58h15.08v8.45h-15.08zM76.74 240.58h2.01v8.45h-2.01zM166.20 240.58h2.01v8.45h-2.01zM169.22 240.58h13.07v8.45h-13.07zM183.29 240.58h12.06v8.45h-12.06zM166.20 249.04h7.04v8.45h-7.04zM174.24 249.04h10.05v8.45h-10.05zM185.30 249.04h3.02v8.45h-3.02zM191.33 249.04h4.02v8.45h-4.02zM166.20 257.49h2.01v8.45h-2.01zM175.25 257.49h1.01v8.45h-1.01zM177.26 257.49h2.01v8.45h-2.01zM181.28 257.49h6.03v8.45h-6.03zM188.31 257.49h1.01v8.45h-1.01zM190.32 257.49h5.03v8.45h-5.03zM49.60 299.76h1.01v8.45h-1.01zM57.64 299.76h7.04v8.45h-7.04zM65.68 299.76h4.02v8.45h-4.02zM70.71 299.76h8.04v8.45h-8.04zM166.20 299.76h29.15v8.45h-29.15zM203.39 299.76h15.08v8.45h-15.08zM219.47 299.76h3.02v8.45h-3.02zM223.49 299.76h1.01v8.45h-1.01zM54.63 308.21h8.04v8.45h-8.04zM63.67 308.21h10.05v8.45h-10.05zM75.73 308.21h3.02v8.45h-3.02zM166.20 308.21h20.10v8.45h-20.10zM187.31 308.21h37.19v8.45h-37.19zM78.75 325.12h11.06v8.45h-11.06zM91.82 325.12h6.03v8.45h-6.03zM98.85 325.12h3.02v8.45h-3.02zM103.88 325.12h4.02v8.45h-4.02zM138.06 325.12h14.07v8.45h-14.07zM153.13 325.12h13.07v8.45h-13.07zM195.35 333.58h10.05v8.45h-10.05zM206.41 333.58h18.09v8.45h-18.09zM78.75 350.48h13.07v8.45h-13.07zM92.82 350.48h4.02v8.45h-4.02zM98.85 350.48h19.10v8.45h-19.10zM118.96 350.48h10.05v8.45h-10.05zM130.01 350.48h20.10v8.45h-20.10zM151.12 350.48h1.01v8.45h-1.01zM153.13 350.48h13.07v8.45h-13.07zM137.05 367.39h5.03v8.45h-5.03zM143.08 367.39h4.02v8.45h-4.02zM148.11 367.39h1.01v8.45h-1.01zM150.12 367.39h5.03v8.45h-5.03zM158.16 367.39h6.03v8.45h-6.03zM165.19 367.39h1.01v8.45h-1.01zM138.06 375.85h6.03v8.45h-6.03zM146.10 375.85h20.10v8.45h-20.10z"/>
<path fill="#c9d4d8" d="M143.08 79.95h1.01v8.45h-1.01zM113.93 88.41h1.01v8.45h-1.01zM221.48 88.41h1.01v8.45h-1.01zM96.84 96.86h1.01v8.45h-1.01zM162.18 96.86h1.01v8.45h-1.01zM149.11 113.77h1.01v8.45h-1.01zM175.25 113.77h1.01v8.45h-1.01zM147.10 130.68h1.01v8.45h-1.01zM66.69 156.04h1.01v8.45h-1.01zM69.70 156.04h1.01v8.45h-1.01zM192.33 156.04h1.01v8.45h-1.01zM202.39 164.49h1.01v8.45h-1.01zM208.42 164.49h1.01v8.45h-1.01zM218.47 164.49h1.01v8.45h-1.01zM193.34 181.40h1.01v8.45h-1.01zM57.64 198.31h1.01v8.45h-1.01zM155.14 198.31h1.01v8.45h-1.01zM192.33 206.76h1.01v8.45h-1.01zM207.41 206.76h1.01v8.45h-1.01zM222.49 206.76h1.01v8.45h-1.01zM213.44 215.22h1.01v8.45h-1.01zM219.47 215.22h2.01v8.45h-2.01zM214.45 232.13h1.01v8.45h-1.01zM173.24 249.04h1.01v8.45h-1.01zM190.32 249.04h1.01v8.45h-1.01zM189.32 257.49h1.01v8.45h-1.01zM218.47 299.76h1.01v8.45h-1.01zM73.72 308.21h1.01v8.45h-1.01zM186.30 308.21h1.01v8.45h-1.01zM91.82 350.48h1.01v8.45h-1.01zM117.95 350.48h1.01v8.45h-1.01zM129.01 350.48h1.01v8.45h-1.01zM156.15 367.39h1.01v8.45h-1.01zM164.19 367.39h1.01v8.45h-1.01z"/>
<path fill="#bad6df" d="M157.15 79.95h1.01v8.45h-1.01zM58.65 88.41h1.01v8.45h-1.01zM167.21 88.41h1.01v8.45h-1.01zM141.07 96.86h1.01v8.45h-1.01zM147.10 96.86h1.01v8.45h-1.01zM155.14 96.86h1.01v8.45h-1.01zM167.21 96.86h1.01v8.45h-1.01zM167.21 113.77h1.01v8.45h-1.01zM188.31 113.77h1.01v8.45h-1.01zM85.79 130.68h1.01v8.45h-1.01zM143.08 130.68h1.01v8.45h-1.01zM155.14 130.68h1.01v8.45h-1.01zM164.19 130.68h1.01v8.45h-1.01zM179.27 181.40h1.01v8.45h-1.01zM65.68 198.31h1.01v8.45h-1.01zM166.20 215.22h1.01v8.45h-1.01zM222.49 215.22h1.01v8.45h-1.01zM65.68 232.13h1.01v8.45h-1.01zM221.48 232.13h1.01v8.45h-1.01zM64.68 299.76h1.01v8.45h-1.01zM69.70 299.76h1.01v8.45h-1.01zM222.49 299.76h1.01v8.45h-1.01zM62.67 308.21h1.01v8.45h-1.01zM152.13 325.12h1.01v8.45h-1.01zM205.40 333.58h1.01v8.45h-1.01zM152.13 350.48h1.01v8.45h-1.01zM147.10 367.39h1.01v8.45h-1.01zM155.14 367.39h1.01v8.45h-1.01zM157.15 367.39h1.01v8.45h-1.01zM144.09 375.85h1.01v8.45h-1.01z"/>
<path fill="#dba0a0" d="M216.46 79.95h1.01v8.45h-1.01zM111.92 96.86h1.01v8.45h-1.01zM200.38 96.86h1.01v8.45h-1.01zM114.94 105.32h1.01v8.45h-1.01zM103.88 139.13h1.01v8.45h-1.01zM112.93 139.13h1.01v8.45h-1.01zM182.28 139.13h1.01v8.45h-1.01zM80.76 181.40h1.01v8.45h-1.01zM193.34 189.86h1.01v8.45h-1.01zM194.34 198.31h1.01v8.45h-1.01zM54.63 240.58h1.01v8.45h-1.01zM137.05 240.58h1.01v8.45h-1.01zM140.07 240.58h1.01v8.45h-1.01zM159.16 240.58h3.02v8.45h-3.02zM168.21 240.58h1.01v8.45h-1.01zM163.18 249.04h1.01v8.45h-1.01zM188.31 249.04h1.01v8.45h-1.01zM104.88 257.49h1.01v8.45h-1.01zM155.14 257.49h1.01v8.45h-1.01zM122.98 299.76h2.01v8.45h-2.01zM125.99 299.76h1.01v8.45h-1.01zM200.38 299.76h1.01v8.45h-1.01zM133.03 308.21h1.01v8.45h-1.01zM209.42 316.67h1.01v8.45h-1.01zM61.66 325.12h1.01v8.45h-1.01zM130.01 342.03h1.01v8.45h-1.01zM49.60 367.39h1.01v8.45h-1.01z"/>
<path fill="#e46262" d="M184.29 88.41h1.01v8.45h-1.01zM56.64 96.86h1.01v8.45h-1.01zM58.65 96.86h1.01v8.45h-1.01zM129.01 96.86h1.01v8.45h-1.01zM134.03 96.86h1.01v8.45h-1.01zM136.04 96.86h1.01v8.45h-1.01zM205.40 96.86h2.01v8.45h-2.01zM54.63 105.32h1.01v8.45h-1.01zM52.62 113.77h1.01v8.45h-1.01zM59.65 113.77h2.01v8.45h-2.01zM70.71 113.77h1.01v8.45h-1.01zM119.96 113.77h1.01v8.45h-1.01zM121.97 113.77h1.01v8.45h-1.01zM184.29 113.77h1.01v8.45h-1.01zM52.62 122.22h1.01v8.45h-1.01zM55.63 122.22h1.01v8.45h-1.01zM64.68 122.22h1.01v8.45h-1.01zM54.63 130.68h1.01v8.45h-1.01zM177.26 130.68h4.02v8.45h-4.02zM191.33 130.68h1.01v8.45h-1.01zM108.91 139.13h1.01v8.45h-1.01zM189.32 139.13h1.01v8.45h-1.01zM67.69 147.59h1.01v8.45h-1.01zM70.71 147.59h1.01v8.45h-1.01zM87.80 147.59h3.02v8.45h-3.02zM102.87 147.59h2.01v8.45h-2.01zM116.95 156.04h6.03v8.45h-6.03zM123.98 156.04h3.02v8.45h-3.02zM136.04 156.04h1.01v8.45h-1.01zM141.07 156.04h1.01v8.45h-1.01zM152.13 156.04h3.02v8.45h-3.02zM156.15 156.04h2.01v8.45h-2.01zM80.76 164.49h2.01v8.45h-2.01zM99.86 164.49h1.01v8.45h-1.01zM135.04 164.49h2.01v8.45h-2.01zM144.09 164.49h1.01v8.45h-1.01zM146.10 164.49h1.01v8.45h-1.01zM170.22 164.49h3.02v8.45h-3.02zM114.94 172.95h2.01v8.45h-2.01zM117.95 172.95h1.01v8.45h-1.01zM56.64 181.40h2.01v8.45h-2.01zM59.65 181.40h2.01v8.45h-2.01zM92.82 181.40h3.02v8.45h-3.02zM121.97 181.40h1.01v8.45h-1.01zM124.99 181.40h3.02v8.45h-3.02zM135.04 181.40h1.01v8.45h-1.01zM145.09 181.40h6.03v8.45h-6.03zM156.15 181.40h1.01v8.45h-1.01zM170.22 181.40h1.01v8.45h-1.01zM172.23 181.40h1.01v8.45h-1.01zM87.80 189.86h1.01v8.45h-1.01zM92.82 189.86h1.01v8.45h-1.01zM94.83 189.86h1.01v8.45h-1.01zM97.85 189.86h1.01v8.45h-1.01zM104.88 189.86h1.01v8.45h-1.01zM111.92 189.86h1.01v8.45h-1.01zM121.97 189.86h1.01v8.45h-1.01zM130.01 189.86h1.01v8.45h-1.01zM97.85 198.31h2.01v8.45h-2.01zM100.86 198.31h1.01v8.45h-1.01zM102.87 198.31h1.01v8.45h-1.01zM104.88 198.31h2.01v8.45h-2.01zM50.61 206.76h2.01v8.45h-2.01zM104.88 206.76h1.01v8.45h-1.01zM124.99 206.76h4.02v8.45h-4.02zM170.22 206.76h1.01v8.45h-1.01zM80.76 215.22h1.01v8.45h-1.01zM107.90 215.22h1.01v8.45h-1.01zM171.23 215.22h1.01v8.45h-1.01zM175.25 215.22h1.01v8.45h-1.01zM100.86 223.67h1.01v8.45h-1.01zM121.97 223.67h1.01v8.45h-1.01zM134.03 223.67h2.01v8.45h-2.01zM145.09 223.67h1.01v8.45h-1.01zM152.13 223.67h1.01v8.45h-1.01zM52.62 232.13h1.01v8.45h-1.01zM55.63 232.13h1.01v8.45h-1.01zM78.75 232.13h1.01v8.45h-1.01zM101.87 232.13h1.01v8.45h-1.01zM110.92 232.13h1.01v8.45h-1.01zM114.94 232.13h1.01v8.45h-1.01zM119.96 232.13h1.01v8.45h-1.01zM138.06 232.13h2.01v8.45h-2.01zM168.21 232.13h1.01v8.45h-1.01zM81.77 240.58h2.01v8.45h-2.01zM108.91 240.58h1.01v8.45h-1.01zM111.92 240.58h4.02v8.45h-4.02zM120.97 240.58h2.01v8.45h-2.01zM153.13 240.58h1.01v8.45h-1.01zM155.14 240.58h2.01v8.45h-2.01zM107.90 249.04h1.01v8.45h-1.01zM112.93 249.04h1.01v8.45h-1.01zM120.97 249.04h1.01v8.45h-1.01zM161.17 249.04h1.01v8.45h-1.01zM74.73 257.49h3.02v8.45h-3.02zM128.00 257.49h3.02v8.45h-3.02zM164.19 257.49h1.01v8.45h-1.01zM102.87 265.94h1.01v8.45h-1.01zM113.93 265.94h1.01v8.45h-1.01zM140.07 265.94h1.01v8.45h-1.01zM149.11 274.40h1.01v8.45h-1.01zM151.12 274.40h2.01v8.45h-2.01zM139.06 282.85h2.01v8.45h-2.01zM150.12 291.31h4.02v8.45h-4.02zM50.61 299.76h1.01v8.45h-1.01zM52.62 299.76h1.01v8.45h-1.01zM54.63 299.76h1.01v8.45h-1.01zM85.79 299.76h2.01v8.45h-2.01zM88.80 299.76h1.01v8.45h-1.01zM111.92 299.76h1.01v8.45h-1.01zM158.16 299.76h1.01v8.45h-1.01zM102.87 308.21h2.01v8.45h-2.01zM116.95 308.21h1.01v8.45h-1.01zM137.05 308.21h2.01v8.45h-2.01zM51.61 316.67h2.01v8.45h-2.01zM85.79 316.67h1.01v8.45h-1.01zM130.01 316.67h1.01v8.45h-1.01zM134.03 316.67h1.01v8.45h-1.01zM181.28 316.67h1.01v8.45h-1.01zM184.29 316.67h1.01v8.45h-1.01zM189.32 316.67h3.02v8.45h-3.02zM197.36 316.67h2.01v8.45h-2.01zM75.73 325.12h1.01v8.45h-1.01zM170.22 325.12h1.01v8.45h-1.01zM182.28 325.12h1.01v8.45h-1.01zM56.64 333.58h1.01v8.45h-1.01zM67.69 333.58h1.01v8.45h-1.01zM88.80 333.58h1.01v8.45h-1.01zM164.19 333.58h1.01v8.45h-1.01zM166.20 333.58h4.02v8.45h-4.02zM175.25 333.58h2.01v8.45h-2.01zM179.27 333.58h1.01v8.45h-1.01zM64.68 358.94h2.01v8.45h-2.01zM69.70 358.94h1.01v8.45h-1.01zM124.99 358.94h1.01v8.45h-1.01zM169.22 358.94h2.01v8.45h-2.01zM179.27 358.94h1.01v8.45h-1.01zM190.32 358.94h2.01v8.45h-2.01zM193.34 358.94h2.01v8.45h-2.01zM180.27 367.39h1.01v8.45h-1.01zM183.29 367.39h1.01v8.45h-1.01zM185.30 367.39h1.01v8.45h-1.01zM189.32 367.39h2.01v8.45h-2.01zM192.33 367.39h1.01v8.45h-1.01zM60.66 375.85h1.01v8.45h-1.01zM185.30 375.85h1.01v8.45h-1.01zM188.31 375.85h2.01v8.45h-2.01z"/>
</g>
<line x1="78.75" y1="71.50" x2="78.75" y2="384.30" stroke="#8c9496" stroke-width="0.75"/>
<line x1="107.90" y1="71.50" x2="107.90" y2="384.30" stroke="#8c9496" stroke-width="0.75"/>
<line x1="137.05" y1="71.50" x2="137.05" y2="384.30" stroke="#8c9496" stroke-width="0.75"/>
<line x1="166.20" y1="71.50" x2="166.20" y2="384.30" stroke="#8c9496" stroke-width="0.75"/>
<line x1="195.35" y1="71.50" x2="195.35" y2="384.30" stroke="#6e6e6e" stroke-width="0.8"/>
<line x1="224.50" y1="71.50" x2="224.50" y2="384.30" stroke="#b4b8ba" stroke-width="0.7"/>
<rect x="49.60" y="71.50" width="29.15" height="84.54" fill="none" stroke="#3b3bd6" stroke-width="0.9"/>
<rect x="166.20" y="113.77" width="29.15" height="8.45" fill="none" stroke="#3b3bd6" stroke-width="0.9"/>
<rect x="78.75" y="156.04" width="29.15" height="84.54" fill="none" stroke="#3b3bd6" stroke-width="0.9"/>
<rect x="107.90" y="156.04" width="29.15" height="16.91" fill="none" stroke="#3b3bd6" stroke-width="0.9"/>
<rect x="137.05" y="156.04" width="29.15" height="16.91" fill="none" stroke="#3b3bd6" stroke-width="0.9"/>
<rect x="107.90" y="172.95" width="12.83" height="8.45" fill="none" stroke="#3b3bd6" stroke-width="0.9"/>
<rect x="107.90" y="181.40" width="29.15" height="8.45" fill="none" stroke="#3b3bd6" stroke-width="0.9"/>
<rect x="137.05" y="181.40" width="29.15" height="8.45" fill="none" stroke="#3b3bd6" stroke-width="0.9"/>
<rect x="107.90" y="206.76" width="29.15" height="8.45" fill="none" stroke="#3b3bd6" stroke-width="0.9"/>
<rect x="137.05" y="206.76" width="29.15" height="8.45" fill="none" stroke="#3b3bd6" stroke-width="0.9"/>
<line x1="107.90" y1="189.86" x2="107.90" y2="206.76" stroke="#3b3bd6" stroke-width="0.9"/>
<rect x="166.20" y="232.13" width="29.15" height="8.45" fill="none" stroke="#3b3bd6" stroke-width="0.9"/>
<rect x="107.90" y="232.13" width="29.15" height="42.27" fill="none" stroke="#3b3bd6" stroke-width="0.9"/>
<rect x="137.05" y="274.40" width="29.15" height="50.72" fill="none" stroke="#3b3bd6" stroke-width="0.9"/>
<rect x="166.20" y="325.12" width="29.15" height="59.18" fill="none" stroke="#3b3bd6" stroke-width="0.9"/>
<text x="46" y="77.93" text-anchor="end" font-family="Liberation Sans" font-size="6.3" fill="#555" stroke="none">MPO</text>
<text x="46" y="86.38" text-anchor="end" font-family="Liberation Sans" font-size="6.3" fill="#555" stroke="none">AZU1</text>
<text x="46" y="94.84" text-anchor="end" font-family="Liberation Sans" font-size="6.3" fill="#555" stroke="none">CFD</text>
<text x="46" y="103.29" text-anchor="end" font-family="Liberation Sans" font-size="6.3" fill="#555" stroke="none">CLEC11A</text>
<text x="46" y="111.74" text-anchor="end" font-family="Liberation Sans" font-size="6.3" fill="#555" stroke="none">ELANE</text>
<text x="46" y="120.20" text-anchor="end" font-family="Liberation Sans" font-size="6.3" fill="#555" stroke="none">PRSS57</text>
<text x="46" y="128.65" text-anchor="end" font-family="Liberation Sans" font-size="6.3" fill="#555" stroke="none">TPSAB1</text>
<text x="46" y="137.11" text-anchor="end" font-family="Liberation Sans" font-size="6.3" fill="#555" stroke="none">SERPINB1</text>
<text x="46" y="145.56" text-anchor="end" font-family="Liberation Sans" font-size="6.3" fill="#555" stroke="none">EGR1</text>
<text x="46" y="154.01" text-anchor="end" font-family="Liberation Sans" font-size="6.3" fill="#555" stroke="none">CD34</text>
<text x="46" y="162.47" text-anchor="end" font-family="Liberation Sans" font-size="6.3" fill="#555" stroke="none">H3F3B</text>
<text x="46" y="170.92" text-anchor="end" font-family="Liberation Sans" font-size="6.3" fill="#555" stroke="none">SOX4</text>
<text x="46" y="179.38" text-anchor="end" font-family="Liberation Sans" font-size="6.3" fill="#555" stroke="none">NPY</text>
<text x="46" y="187.83" text-anchor="end" font-family="Liberation Sans" font-size="6.3" fill="#555" stroke="none">H1FX</text>
<text x="46" y="196.28" text-anchor="end" font-family="Liberation Sans" font-size="6.3" fill="#555" stroke="none">PIM3</text>
<text x="46" y="204.74" text-anchor="end" font-family="Liberation Sans" font-size="6.3" fill="#555" stroke="none">TCF4</text>
<text x="46" y="213.19" text-anchor="end" font-family="Liberation Sans" font-size="6.3" fill="#555" stroke="none">H2AFZ</text>
<text x="46" y="221.65" text-anchor="end" font-family="Liberation Sans" font-size="6.3" fill="#555" stroke="none">XIST</text>
<text x="46" y="230.10" text-anchor="end" font-family="Liberation Sans" font-size="6.3" fill="#555" stroke="none">GADD45B</text>
<text x="46" y="238.55" text-anchor="end" font-family="Liberation Sans" font-size="6.3" fill="#555" stroke="none">H3F3A</text>
<text x="46" y="247.01" text-anchor="end" font-family="Liberation Sans" font-size="6.3" fill="#555" stroke="none">HIST1H1C</text>
<text x="46" y="255.46" text-anchor="end" font-family="Liberation Sans" font-size="6.3" fill="#555" stroke="none">HIST1H4C</text>
<text x="46" y="263.92" text-anchor="end" font-family="Liberation Sans" font-size="6.3" fill="#555" stroke="none">HSP90AA1</text>
<text x="46" y="272.37" text-anchor="end" font-family="Liberation Sans" font-size="6.3" fill="#555" stroke="none">SOCS2</text>
<text x="46" y="280.82" text-anchor="end" font-family="Liberation Sans" font-size="6.3" fill="#555" stroke="none">HES4</text>
<text x="46" y="289.28" text-anchor="end" font-family="Liberation Sans" font-size="6.3" fill="#555" stroke="none">TRDV1</text>
<text x="46" y="297.73" text-anchor="end" font-family="Liberation Sans" font-size="6.3" fill="#555" stroke="none">CHI3L2</text>
<text x="46" y="306.19" text-anchor="end" font-family="Liberation Sans" font-size="6.3" fill="#555" stroke="none">SEPT6</text>
<text x="46" y="314.64" text-anchor="end" font-family="Liberation Sans" font-size="6.3" fill="#555" stroke="none">AC084033.3</text>
<text x="46" y="323.09" text-anchor="end" font-family="Liberation Sans" font-size="6.3" fill="#555" stroke="none">CD99</text>
<text x="46" y="331.55" text-anchor="end" font-family="Liberation Sans" font-size="6.3" fill="#555" stroke="none">SPINK2</text>
<text x="46" y="340.00" text-anchor="end" font-family="Liberation Sans" font-size="6.3" fill="#555" stroke="none">ITM2A</text>
<text x="46" y="348.46" text-anchor="end" font-family="Liberation Sans" font-size="6.3" fill="#555" stroke="none">H2AC19</text>
<text x="46" y="356.91" text-anchor="end" font-family="Liberation Sans" font-size="6.3" fill="#555" stroke="none">GATA2</text>
<text x="46" y="365.36" text-anchor="end" font-family="Liberation Sans" font-size="6.3" fill="#555" stroke="none">HSH2D</text>
<text x="46" y="373.82" text-anchor="end" font-family="Liberation Sans" font-size="6.3" fill="#555" stroke="none">IGFBP7</text>
<text x="46" y="382.27" text-anchor="end" font-family="Liberation Sans" font-size="6.3" fill="#555" stroke="none">H2AC18</text>
<text x="240.8" y="124.9" font-family="Liberation Sans" font-size="8.5" fill="#111" stroke="#111" stroke-width="0.06">Expression</text>
<defs><linearGradient id="gexp" x1="0" y1="0" x2="0" y2="1"><stop offset="0" stop-color="#e06666"/><stop offset="0.5" stop-color="#d3d3d3"/><stop offset="1" stop-color="#add8e6"/></linearGradient></defs>
<rect x="240.1" y="130.6" width="14" height="68.1" fill="url(#gexp)"/>
<text x="258.5" y="133.70" font-family="Liberation Sans" font-size="6.8" fill="#222" stroke="#222" stroke-width="0.13">1.0</text>
<text x="258.5" y="150.72" font-family="Liberation Sans" font-size="6.8" fill="#222" stroke="#222" stroke-width="0.13">0.5</text>
<path d="M240.1 147.62h2.2M251.9 147.62h2.2" stroke="#fff" stroke-width="0.5"/>
<text x="258.5" y="167.75" font-family="Liberation Sans" font-size="6.8" fill="#222" stroke="#222" stroke-width="0.13">0.0</text>
<path d="M240.1 164.65h2.2M251.9 164.65h2.2" stroke="#fff" stroke-width="0.5"/>
<text x="258.5" y="184.77" font-family="Liberation Sans" font-size="6.8" fill="#222" stroke="#222" stroke-width="0.13">-0.5</text>
<path d="M240.1 181.67h2.2M251.9 181.67h2.2" stroke="#fff" stroke-width="0.5"/>
<text x="258.5" y="201.80" font-family="Liberation Sans" font-size="6.8" fill="#222" stroke="#222" stroke-width="0.13">-1.0</text>
<text x="-0.5" y="428.5" font-family="Liberation Serif" font-size="33">b</text>
<line x1="95.49" y1="410.5" x2="95.49" y2="648" stroke="#ebebeb" stroke-width="0.5"/>
<line x1="73.5" y1="438.34" x2="251" y2="438.34" stroke="#ebebeb" stroke-width="0.5"/>
<line x1="128.87" y1="410.5" x2="128.87" y2="648" stroke="#ebebeb" stroke-width="0.5"/>
<line x1="73.5" y1="483.82" x2="251" y2="483.82" stroke="#ebebeb" stroke-width="0.5"/>
<line x1="162.25" y1="410.5" x2="162.25" y2="648" stroke="#ebebeb" stroke-width="0.5"/>
<line x1="73.5" y1="529.30" x2="251" y2="529.30" stroke="#ebebeb" stroke-width="0.5"/>
<line x1="195.63" y1="410.5" x2="195.63" y2="648" stroke="#ebebeb" stroke-width="0.5"/>
<line x1="73.5" y1="574.78" x2="251" y2="574.78" stroke="#ebebeb" stroke-width="0.5"/>
<line x1="229.01" y1="410.5" x2="229.01" y2="648" stroke="#ebebeb" stroke-width="0.5"/>
<line x1="73.5" y1="620.26" x2="251" y2="620.26" stroke="#ebebeb" stroke-width="0.5"/>
<rect x="78.80" y="415.60" width="33.98" height="46.08" fill="#b49496"/>
<text x="95.49" y="440.74" text-anchor="middle" font-family="Liberation Sans" font-size="6.8" fill="#1a1a1a" stroke="#1a1a1a" stroke-width="0.13">0.329</text>
<rect x="112.18" y="415.60" width="33.98" height="46.08" fill="#bdbec2"/>
<text x="128.87" y="440.74" text-anchor="middle" font-family="Liberation Sans" font-size="6.8" fill="#1a1a1a" stroke="#1a1a1a" stroke-width="0.13">0.131</text>
<rect x="145.56" y="415.60" width="33.98" height="46.08" fill="#beb3b7"/>
<text x="162.25" y="440.74" text-anchor="middle" font-family="Liberation Sans" font-size="6.8" fill="#1a1a1a" stroke="#1a1a1a" stroke-width="0.13">0.18</text>
<rect x="178.94" y="415.60" width="33.98" height="46.08" fill="#bdafb3"/>
<text x="195.63" y="440.74" text-anchor="middle" font-family="Liberation Sans" font-size="6.8" fill="#1a1a1a" stroke="#1a1a1a" stroke-width="0.13">0.196</text>
<rect x="212.32" y="415.60" width="33.38" height="46.08" fill="#862324"/>
<text x="229.01" y="440.74" text-anchor="middle" font-family="Liberation Sans" font-size="6.8" fill="#1a1a1a" stroke="#1a1a1a" stroke-width="0.13">1</text>
<rect x="78.80" y="461.08" width="33.98" height="46.08" fill="#bebcc0"/>
<text x="95.49" y="486.22" text-anchor="middle" font-family="Liberation Sans" font-size="6.8" fill="#1a1a1a" stroke="#1a1a1a" stroke-width="0.13">0.145</text>
<rect x="112.18" y="461.08" width="33.98" height="46.08" fill="#bba5a9"/>
<text x="128.87" y="486.22" text-anchor="middle" font-family="Liberation Sans" font-size="6.8" fill="#1a1a1a" stroke="#1a1a1a" stroke-width="0.13">0.255</text>
<rect x="145.56" y="461.08" width="33.98" height="46.08" fill="#bba6aa"/>
<text x="162.25" y="486.22" text-anchor="middle" font-family="Liberation Sans" font-size="6.8" fill="#1a1a1a" stroke="#1a1a1a" stroke-width="0.13">0.25</text>
<rect x="178.94" y="461.08" width="33.98" height="46.08" fill="#862324"/>
<text x="195.63" y="486.22" text-anchor="middle" font-family="Liberation Sans" font-size="6.8" fill="#1a1a1a" stroke="#1a1a1a" stroke-width="0.13">1</text>
<rect x="212.32" y="461.08" width="33.38" height="46.08" fill="#bdafb3"/>
<text x="229.01" y="486.22" text-anchor="middle" font-family="Liberation Sans" font-size="6.8" fill="#1a1a1a" stroke="#1a1a1a" stroke-width="0.13">0.196</text>
<rect x="78.80" y="506.56" width="33.98" height="46.08" fill="#beb4b8"/>
<text x="95.49" y="531.70" text-anchor="middle" font-family="Liberation Sans" font-size="6.8" fill="#1a1a1a" stroke="#1a1a1a" stroke-width="0.13">0.177</text>
<rect x="112.18" y="506.56" width="33.98" height="46.08" fill="#b08283"/>
<text x="128.87" y="531.70" text-anchor="middle" font-family="Liberation Sans" font-size="6.8" fill="#1a1a1a" stroke="#1a1a1a" stroke-width="0.13">0.433</text>
<rect x="145.56" y="506.56" width="33.98" height="46.08" fill="#862324"/>
<text x="162.25" y="531.70" text-anchor="middle" font-family="Liberation Sans" font-size="6.8" fill="#1a1a1a" stroke="#1a1a1a" stroke-width="0.13">1</text>
<rect x="178.94" y="506.56" width="33.98" height="46.08" fill="#bba6aa"/>
<text x="195.63" y="531.70" text-anchor="middle" font-family="Liberation Sans" font-size="6.8" fill="#1a1a1a" stroke="#1a1a1a" stroke-width="0.13">0.25</text>
<rect x="212.32" y="506.56" width="33.38" height="46.08" fill="#beb3b7"/>
<text x="229.01" y="531.70" text-anchor="middle" font-family="Liberation Sans" font-size="6.8" fill="#1a1a1a" stroke="#1a1a1a" stroke-width="0.13">0.18</text>
<rect x="78.80" y="552.04" width="33.98" height="46.08" fill="#bdbdc1"/>
<text x="95.49" y="577.18" text-anchor="middle" font-family="Liberation Sans" font-size="6.8" fill="#1a1a1a" stroke="#1a1a1a" stroke-width="0.13">0.134</text>
<rect x="112.18" y="552.04" width="33.98" height="46.08" fill="#862324"/>
<text x="128.87" y="577.18" text-anchor="middle" font-family="Liberation Sans" font-size="6.8" fill="#1a1a1a" stroke="#1a1a1a" stroke-width="0.13">1</text>
<rect x="145.56" y="552.04" width="33.98" height="46.08" fill="#b08283"/>
<text x="162.25" y="577.18" text-anchor="middle" font-family="Liberation Sans" font-size="6.8" fill="#1a1a1a" stroke="#1a1a1a" stroke-width="0.13">0.433</text>
<rect x="178.94" y="552.04" width="33.98" height="46.08" fill="#bba5a9"/>
<text x="195.63" y="577.18" text-anchor="middle" font-family="Liberation Sans" font-size="6.8" fill="#1a1a1a" stroke="#1a1a1a" stroke-width="0.13">0.255</text>
<rect x="212.32" y="552.04" width="33.38" height="46.08" fill="#bdbec2"/>
<text x="229.01" y="577.18" text-anchor="middle" font-family="Liberation Sans" font-size="6.8" fill="#1a1a1a" stroke="#1a1a1a" stroke-width="0.13">0.131</text>
<rect x="78.80" y="597.52" width="33.98" height="45.48" fill="#862324"/>
<text x="95.49" y="622.66" text-anchor="middle" font-family="Liberation Sans" font-size="6.8" fill="#1a1a1a" stroke="#1a1a1a" stroke-width="0.13">1</text>
<rect x="112.18" y="597.52" width="33.98" height="45.48" fill="#bdbdc1"/>
<text x="128.87" y="622.66" text-anchor="middle" font-family="Liberation Sans" font-size="6.8" fill="#1a1a1a" stroke="#1a1a1a" stroke-width="0.13">0.134</text>
<rect x="145.56" y="597.52" width="33.98" height="45.48" fill="#beb4b8"/>
<text x="162.25" y="622.66" text-anchor="middle" font-family="Liberation Sans" font-size="6.8" fill="#1a1a1a" stroke="#1a1a1a" stroke-width="0.13">0.177</text>
<rect x="178.94" y="597.52" width="33.98" height="45.48" fill="#bebcc0"/>
<text x="195.63" y="622.66" text-anchor="middle" font-family="Liberation Sans" font-size="6.8" fill="#1a1a1a" stroke="#1a1a1a" stroke-width="0.13">0.145</text>
<rect x="212.32" y="597.52" width="33.38" height="45.48" fill="#b49496"/>
<text x="229.01" y="622.66" text-anchor="middle" font-family="Liberation Sans" font-size="6.8" fill="#1a1a1a" stroke="#1a1a1a" stroke-width="0.13">0.329</text>
<text x="72.9" y="441.44" text-anchor="end" font-family="Liberation Sans" font-size="9.2" fill="#000" stroke="#000" stroke-width="0.06">T/My MPAL</text>
<text x="72.9" y="486.92" text-anchor="end" font-family="Liberation Sans" font-size="9.2" fill="#000" stroke="#000" stroke-width="0.06">T−ALL</text>
<text x="72.9" y="532.40" text-anchor="end" font-family="Liberation Sans" font-size="9.2" fill="#000" stroke="#000" stroke-width="0.06">B/My MPAL</text>
<text x="72.9" y="577.88" text-anchor="end" font-family="Liberation Sans" font-size="9.2" fill="#000" stroke="#000" stroke-width="0.06">B−ALL</text>
<text x="72.9" y="623.36" text-anchor="end" font-family="Liberation Sans" font-size="9.2" fill="#000" stroke="#000" stroke-width="0.06">AML</text>
<text transform="translate(101.99 653.7) rotate(-45)" text-anchor="end" font-family="Liberation Sans" font-size="9.2" fill="#1a1a1a" stroke="#1a1a1a" stroke-width="0.06">AML</text>
<text transform="translate(135.37 653.7) rotate(-45)" text-anchor="end" font-family="Liberation Sans" font-size="9.2" fill="#1a1a1a" stroke="#1a1a1a" stroke-width="0.06">B−ALL</text>
<text transform="translate(168.75 653.7) rotate(-45)" text-anchor="end" font-family="Liberation Sans" font-size="9.2" fill="#1a1a1a" stroke="#1a1a1a" stroke-width="0.06">B/My MPAL</text>
<text transform="translate(202.13 653.7) rotate(-45)" text-anchor="end" font-family="Liberation Sans" font-size="9.2" fill="#1a1a1a" stroke="#1a1a1a" stroke-width="0.06">T−ALL</text>
<text transform="translate(235.51 653.7) rotate(-45)" text-anchor="end" font-family="Liberation Sans" font-size="9.2" fill="#1a1a1a" stroke="#1a1a1a" stroke-width="0.06">T/My MPAL</text>
<text x="162.2" y="699" text-anchor="middle" font-family="Liberation Sans" font-weight="bold" font-size="10.5" fill="#000" stroke="#000" stroke-width="0.06">Leukemia Blasts</text>
<text transform="translate(18.8 521.2) rotate(-90)" text-anchor="middle" font-family="Liberation Sans" font-weight="bold" font-size="10.5" fill="#000" stroke="#000" stroke-width="0.06">Leukemia Blasts</text>
<text x="255" y="487.8" font-family="Liberation Sans" font-size="9.3" fill="#111" stroke="#111" stroke-width="0.06">Jaccard</text>
<text x="255" y="499" font-family="Liberation Sans" font-size="9.3" fill="#111" stroke="#111" stroke-width="0.06">Similarity</text>
<defs><linearGradient id="gjac" x1="0" y1="0" x2="0" y2="1"><stop offset="0" stop-color="#861a1e"/><stop offset="0.5" stop-color="#b28a8c"/><stop offset="0.75" stop-color="#c2b6ba"/><stop offset="1" stop-color="#b9d5de"/></linearGradient></defs>
<rect x="254.4" y="508.4" width="11.2" height="53.6" fill="url(#gjac)"/>
<text x="267.7" y="511.60" font-family="Liberation Sans" font-size="7.3" fill="#222" stroke="#222" stroke-width="0.13">1.00</text>
<text x="267.7" y="524.93" font-family="Liberation Sans" font-size="7.3" fill="#222" stroke="#222" stroke-width="0.13">0.75</text>
<path d="M254.4 522.33h2M263.6 522.33h2" stroke="#fff" stroke-width="0.5"/>
<text x="267.7" y="538.25" font-family="Liberation Sans" font-size="7.3" fill="#222" stroke="#222" stroke-width="0.13">0.50</text>
<path d="M254.4 535.65h2M263.6 535.65h2" stroke="#fff" stroke-width="0.5"/>
<text x="267.7" y="551.57" font-family="Liberation Sans" font-size="7.3" fill="#222" stroke="#222" stroke-width="0.13">0.25</text>
<path d="M254.4 548.97h2M263.6 548.97h2" stroke="#fff" stroke-width="0.5"/>
<text x="267.7" y="564.90" font-family="Liberation Sans" font-size="7.3" fill="#222" stroke="#222" stroke-width="0.13">0.00</text>
<text x="286" y="511.3" font-family="Liberation Sans" font-style="italic" font-size="5.8" fill="#a82c2c" stroke="#a82c2c" stroke-width="0.13">most</text>
<text x="286" y="564.6" font-family="Liberation Sans" font-style="italic" font-size="5.8" fill="#7aa8ba" stroke="#7aa8ba" stroke-width="0.13">least</text>
<line x1="292.5" y1="513.5" x2="292.5" y2="557.8" stroke="#000" stroke-width="0.9"/>
<path d="M290.6 515.6L292.5 512.6L294.4 515.6M290.6 555.8L292.5 558.8L294.4 555.8" fill="none" stroke="#000" stroke-width="0.8"/>
<text x="324" y="28.1" font-family="Liberation Serif" font-size="33">c</text>
<line x1="556.50" y1="20.40" x2="556.50" y2="262.72" stroke="#ebebeb" stroke-width="0.55"/>
<line x1="579.60" y1="20.40" x2="579.60" y2="262.72" stroke="#ebebeb" stroke-width="0.55"/>
<line x1="602.40" y1="20.40" x2="602.40" y2="262.72" stroke="#ebebeb" stroke-width="0.55"/>
<line x1="625.50" y1="20.40" x2="625.50" y2="262.72" stroke="#ebebeb" stroke-width="0.55"/>
<line x1="648.40" y1="20.40" x2="648.40" y2="262.72" stroke="#ebebeb" stroke-width="0.55"/>
<line x1="545.5" y1="24.90" x2="662.4" y2="24.90" stroke="#ebebeb" stroke-width="0.55"/>
<text x="542.5" y="26.90" text-anchor="end" font-family="Liberation Sans" font-size="5.55" fill="#000" stroke="#000" stroke-width="0.12">ONCOGENE INDUCED SENESCENCE</text>
<line x1="545.5" y1="32.98" x2="662.4" y2="32.98" stroke="#ebebeb" stroke-width="0.55"/>
<text x="542.5" y="34.98" text-anchor="end" font-family="Liberation Sans" font-size="5.55" fill="#000" stroke="#000" stroke-width="0.12">G PROTEIN ACTIVATION</text>
<line x1="545.5" y1="41.06" x2="662.4" y2="41.06" stroke="#ebebeb" stroke-width="0.55"/>
<text x="542.5" y="43.06" text-anchor="end" font-family="Liberation Sans" font-size="5.55" fill="#000" stroke="#000" stroke-width="0.12">SUMOYLATION OF DNA DAMAGE RESPONSE & REPAIR PROTEINS</text>
<line x1="545.5" y1="49.14" x2="662.4" y2="49.14" stroke="#ebebeb" stroke-width="0.55"/>
<text x="542.5" y="51.14" text-anchor="end" font-family="Liberation Sans" font-size="5.55" fill="#000" stroke="#000" stroke-width="0.12">SIGNALING BY LIGAND RESPONSIVE EGFR CANCER VARIANTS</text>
<line x1="545.5" y1="57.22" x2="662.4" y2="57.22" stroke="#ebebeb" stroke-width="0.55"/>
<text x="542.5" y="59.22" text-anchor="end" font-family="Liberation Sans" font-size="5.55" fill="#000" stroke="#000" stroke-width="0.12">MITOTIC METAPHASE AND ANAPHASE</text>
<line x1="545.5" y1="65.30" x2="662.4" y2="65.30" stroke="#ebebeb" stroke-width="0.55"/>
<text x="542.5" y="67.30" text-anchor="end" font-family="Liberation Sans" font-size="5.55" fill="#000" stroke="#000" stroke-width="0.12">AFLATOXIN ACTIVATION AND DETOXIFICATION</text>
<line x1="545.5" y1="73.38" x2="662.4" y2="73.38" stroke="#ebebeb" stroke-width="0.55"/>
<text x="542.5" y="75.38" text-anchor="end" font-family="Liberation Sans" font-size="5.55" fill="#000" stroke="#000" stroke-width="0.12">DEGRADATION OF THE EXTRACELLULAR MATRIX</text>
<line x1="545.5" y1="81.46" x2="662.4" y2="81.46" stroke="#ebebeb" stroke-width="0.55"/>
<text x="542.5" y="83.46" text-anchor="end" font-family="Liberation Sans" font-size="5.55" fill="#000" stroke="#000" stroke-width="0.12">INTERLEUKIN 1 PROCESSING</text>
<line x1="545.5" y1="89.54" x2="662.4" y2="89.54" stroke="#ebebeb" stroke-width="0.55"/>
<text x="542.5" y="91.54" text-anchor="end" font-family="Liberation Sans" font-size="5.55" fill="#000" stroke="#000" stroke-width="0.12">HALLMARK COAGULATION</text>
<line x1="545.5" y1="97.62" x2="662.4" y2="97.62" stroke="#ebebeb" stroke-width="0.55"/>
<text x="542.5" y="99.62" text-anchor="end" font-family="Liberation Sans" font-size="5.55" fill="#000" stroke="#000" stroke-width="0.12">NUCLEOTIDE CATABOLISM</text>
<line x1="545.5" y1="105.70" x2="662.4" y2="105.70" stroke="#ebebeb" stroke-width="0.55"/>
<text x="542.5" y="107.70" text-anchor="end" font-family="Liberation Sans" font-size="5.55" fill="#000" stroke="#000" stroke-width="0.12">DISEASES OF BASE EXCISION REPAIR</text>
<line x1="545.5" y1="113.78" x2="662.4" y2="113.78" stroke="#ebebeb" stroke-width="0.55"/>
<text x="542.5" y="115.78" text-anchor="end" font-family="Liberation Sans" font-size="5.55" fill="#000" stroke="#000" stroke-width="0.12">APEX1 INDEPENDENT RESOLUTION OF AP SITES VIA ...</text>
<line x1="545.5" y1="121.86" x2="662.4" y2="121.86" stroke="#ebebeb" stroke-width="0.55"/>
<text x="542.5" y="123.86" text-anchor="end" font-family="Liberation Sans" font-size="5.55" fill="#000" stroke="#000" stroke-width="0.12">HALLMARK ANGIOGENESIS</text>
<line x1="545.5" y1="129.94" x2="662.4" y2="129.94" stroke="#ebebeb" stroke-width="0.55"/>
<text x="542.5" y="131.94" text-anchor="end" font-family="Liberation Sans" font-size="5.55" fill="#000" stroke="#000" stroke-width="0.12">COMPETING ENDOGENOUS RNAS CERNAS REGULATE PTEN TRANS</text>
<line x1="545.5" y1="138.02" x2="662.4" y2="138.02" stroke="#ebebeb" stroke-width="0.55"/>
<text x="542.5" y="140.02" text-anchor="end" font-family="Liberation Sans" font-size="5.55" fill="#000" stroke="#000" stroke-width="0.12">HALLMARK KRAS SIGNALING UP</text>
<line x1="545.5" y1="146.10" x2="662.4" y2="146.10" stroke="#ebebeb" stroke-width="0.55"/>
<text x="542.5" y="148.10" text-anchor="end" font-family="Liberation Sans" font-size="5.55" fill="#000" stroke="#000" stroke-width="0.12">RAS ACTIVATION UPON CA2 INFLUX THROUGH NMDA RECEPTOR</text>
<line x1="545.5" y1="154.18" x2="662.4" y2="154.18" stroke="#ebebeb" stroke-width="0.55"/>
<text x="542.5" y="156.18" text-anchor="end" font-family="Liberation Sans" font-size="5.55" fill="#000" stroke="#000" stroke-width="0.12">TP53 REG TRANSCRIPTION OF GENES IN G1 CELLCYCLE ARREST</text>
<line x1="545.5" y1="162.26" x2="662.4" y2="162.26" stroke="#ebebeb" stroke-width="0.55"/>
<text x="542.5" y="164.26" text-anchor="end" font-family="Liberation Sans" font-size="5.55" fill="#000" stroke="#000" stroke-width="0.12">SHC1 EVENTS IN EGFR SIGNALING</text>
<line x1="545.5" y1="170.34" x2="662.4" y2="170.34" stroke="#ebebeb" stroke-width="0.55"/>
<text x="542.5" y="172.34" text-anchor="end" font-family="Liberation Sans" font-size="5.55" fill="#000" stroke="#000" stroke-width="0.12">G2 PHASE</text>
<line x1="545.5" y1="178.42" x2="662.4" y2="178.42" stroke="#ebebeb" stroke-width="0.55"/>
<text x="542.5" y="180.42" text-anchor="end" font-family="Liberation Sans" font-size="5.55" fill="#000" stroke="#000" stroke-width="0.12">CREB1 PHOSPH THROUGH NMDA RECEPTOR MEDIATED...</text>
<line x1="545.5" y1="186.50" x2="662.4" y2="186.50" stroke="#ebebeb" stroke-width="0.55"/>
<text x="542.5" y="188.50" text-anchor="end" font-family="Liberation Sans" font-size="5.55" fill="#000" stroke="#000" stroke-width="0.12">LINOLEIC ACID LA METABOLISM</text>
<line x1="545.5" y1="194.58" x2="662.4" y2="194.58" stroke="#ebebeb" stroke-width="0.55"/>
<text x="542.5" y="196.58" text-anchor="end" font-family="Liberation Sans" font-size="5.55" fill="#000" stroke="#000" stroke-width="0.12">CHOLESTEROL BIOSYNTHESIS</text>
<line x1="545.5" y1="202.66" x2="662.4" y2="202.66" stroke="#ebebeb" stroke-width="0.55"/>
<text x="542.5" y="204.66" text-anchor="end" font-family="Liberation Sans" font-size="5.55" fill="#000" stroke="#000" stroke-width="0.12">VISUAL PHOTOTRANSDUCTION</text>
<line x1="545.5" y1="210.74" x2="662.4" y2="210.74" stroke="#ebebeb" stroke-width="0.55"/>
<text x="542.5" y="212.74" text-anchor="end" font-family="Liberation Sans" font-size="5.55" fill="#000" stroke="#000" stroke-width="0.12">CHL1 INTERACTIONS</text>
<line x1="545.5" y1="218.82" x2="662.4" y2="218.82" stroke="#ebebeb" stroke-width="0.55"/>
<text x="542.5" y="220.82" text-anchor="end" font-family="Liberation Sans" font-size="5.55" fill="#000" stroke="#000" stroke-width="0.12">GALACTOSE CATABOLISM</text>
<line x1="545.5" y1="226.90" x2="662.4" y2="226.90" stroke="#ebebeb" stroke-width="0.55"/>
<text x="542.5" y="228.90" text-anchor="end" font-family="Liberation Sans" font-size="5.55" fill="#000" stroke="#000" stroke-width="0.12">LOSS OF FUNCTION OF SMAD2 3 IN CANCER</text>
<line x1="545.5" y1="234.98" x2="662.4" y2="234.98" stroke="#ebebeb" stroke-width="0.55"/>
<text x="542.5" y="236.98" text-anchor="end" font-family="Liberation Sans" font-size="5.55" fill="#000" stroke="#000" stroke-width="0.12">INTERLEUKIN 2 SIGNALING</text>
<line x1="545.5" y1="243.06" x2="662.4" y2="243.06" stroke="#ebebeb" stroke-width="0.55"/>
<text x="542.5" y="245.06" text-anchor="end" font-family="Liberation Sans" font-size="5.55" fill="#000" stroke="#000" stroke-width="0.12">SYNTHESIS OF LIPOXINS LX</text>
<line x1="545.5" y1="251.14" x2="662.4" y2="251.14" stroke="#ebebeb" stroke-width="0.55"/>
<text x="542.5" y="253.14" text-anchor="end" font-family="Liberation Sans" font-size="5.55" fill="#000" stroke="#000" stroke-width="0.12">BIOSYNTH OF SPECIALIZED PRORESOLVING MEDIATORS SPMS</text>
<line x1="545.5" y1="259.22" x2="662.4" y2="259.22" stroke="#ebebeb" stroke-width="0.55"/>
<text x="542.5" y="261.22" text-anchor="end" font-family="Liberation Sans" font-size="5.55" fill="#000" stroke="#000" stroke-width="0.12">RSK  ACTIVATION</text>
<circle cx="556.50" cy="24.90" r="3.20" fill="#6e1420"/>
<circle cx="579.60" cy="24.90" r="3.00" fill="#c03545"/>
<circle cx="602.40" cy="24.90" r="3.60" fill="#f08080"/>
<circle cx="625.50" cy="24.90" r="3.20" fill="#9b1f30"/>
<circle cx="648.40" cy="24.90" r="2.50" fill="#f5505a"/>
<circle cx="556.50" cy="32.98" r="3.20" fill="#6e1420"/>
<circle cx="579.60" cy="32.98" r="2.80" fill="#c03545"/>
<circle cx="602.40" cy="32.98" r="2.40" fill="#f08080"/>
<circle cx="625.50" cy="32.98" r="3.20" fill="#9b1f30"/>
<circle cx="648.40" cy="32.98" r="3.00" fill="#f5505a"/>
<circle cx="556.50" cy="41.06" r="3.20" fill="#6e1420"/>
<circle cx="579.60" cy="41.06" r="3.00" fill="#c03545"/>
<circle cx="602.40" cy="41.06" r="2.60" fill="#f08080"/>
<circle cx="625.50" cy="41.06" r="3.40" fill="#9b1f30"/>
<circle cx="648.40" cy="41.06" r="2.80" fill="#f5505a"/>
<circle cx="556.50" cy="49.14" r="3.20" fill="#6e1420"/>
<circle cx="579.60" cy="49.14" r="2.60" fill="#c03545"/>
<circle cx="602.40" cy="49.14" r="3.20" fill="#f08080"/>
<circle cx="625.50" cy="49.14" r="3.00" fill="#9b1f30"/>
<circle cx="648.40" cy="49.14" r="2.50" fill="#f5505a"/>
<circle cx="556.50" cy="57.22" r="3.20" fill="#6e1420"/>
<circle cx="579.60" cy="57.22" r="2.60" fill="#c03545"/>
<circle cx="602.40" cy="57.22" r="2.80" fill="#f08080"/>
<circle cx="625.50" cy="57.22" r="3.20" fill="#9b1f30"/>
<circle cx="648.40" cy="57.22" r="2.80" fill="#f5505a"/>
<circle cx="556.50" cy="65.30" r="3.50" fill="#6e1420"/>
<circle cx="556.50" cy="73.38" r="3.20" fill="#6e1420"/>
<circle cx="556.50" cy="81.46" r="2.80" fill="#6e1420"/>
<circle cx="556.50" cy="89.54" r="2.70" fill="#6e1420"/>
<circle cx="556.50" cy="97.62" r="2.80" fill="#6e1420"/>
<circle cx="579.60" cy="105.70" r="2.30" fill="#c03545"/>
<circle cx="579.60" cy="113.78" r="2.30" fill="#c03545"/>
<circle cx="579.60" cy="121.86" r="2.00" fill="#c03545"/>
<circle cx="579.60" cy="129.94" r="1.60" fill="#c03545"/>
<circle cx="579.60" cy="138.02" r="1.30" fill="#c03545"/>
<circle cx="602.40" cy="146.10" r="2.50" fill="#f08080"/>
<circle cx="602.40" cy="154.18" r="2.20" fill="#f08080"/>
<circle cx="602.40" cy="162.26" r="2.10" fill="#f08080"/>
<circle cx="602.40" cy="170.34" r="2.10" fill="#f08080"/>
<circle cx="602.40" cy="178.42" r="1.30" fill="#f08080"/>
<circle cx="625.50" cy="186.50" r="2.60" fill="#9b1f30"/>
<circle cx="625.50" cy="194.58" r="2.50" fill="#9b1f30"/>
<circle cx="625.50" cy="202.66" r="2.40" fill="#9b1f30"/>
<circle cx="625.50" cy="210.74" r="2.40" fill="#9b1f30"/>
<circle cx="625.50" cy="218.82" r="2.40" fill="#9b1f30"/>
<circle cx="648.40" cy="226.90" r="2.00" fill="#f5505a"/>
<circle cx="648.40" cy="234.98" r="1.80" fill="#f5505a"/>
<circle cx="648.40" cy="243.06" r="1.80" fill="#f5505a"/>
<circle cx="648.40" cy="251.14" r="1.70" fill="#f5505a"/>
<circle cx="648.40" cy="259.22" r="0.80" fill="#f5505a"/>
<line x1="665" y1="20.3" x2="665" y2="58.4" stroke="#000" stroke-width="1.7"/>
<line x1="665" y1="64.7" x2="665" y2="263" stroke="#000" stroke-width="1.7"/>
<text transform="translate(674.5 39.4) rotate(-90)" text-anchor="middle" font-family="Liberation Sans" font-style="italic" font-size="8.5" fill="#111" stroke="#111" stroke-width="0.06">Common</text>
<text transform="translate(674.5 154.3) rotate(-90)" text-anchor="middle" font-family="Liberation Sans" font-style="italic" font-size="8.7" fill="#111" stroke="#111" stroke-width="0.06">Type Specific</text>
<text transform="translate(559.50 270) rotate(-45)" text-anchor="end" font-family="Liberation Sans" font-size="6.6" fill="#222" stroke="#222" stroke-width="0.13">AML</text>
<text transform="translate(582.60 270) rotate(-45)" text-anchor="end" font-family="Liberation Sans" font-size="6.6" fill="#222" stroke="#222" stroke-width="0.13">B−ALL</text>
<text transform="translate(605.40 270) rotate(-45)" text-anchor="end" font-family="Liberation Sans" font-size="6.6" fill="#222" stroke="#222" stroke-width="0.13">B/My MPAL</text>
<text transform="translate(628.50 270) rotate(-45)" text-anchor="end" font-family="Liberation Sans" font-size="6.6" fill="#222" stroke="#222" stroke-width="0.13">T−ALL</text>
<text transform="translate(651.40 270) rotate(-45)" text-anchor="end" font-family="Liberation Sans" font-size="6.6" fill="#222" stroke="#222" stroke-width="0.13">T/My MPAL</text>
<text x="564.6" y="309.7" font-family="Liberation Sans" font-size="12" fill="#111" stroke="#111" stroke-width="0.06">Leukemia Type</text>
<text transform="translate(350.5 142.4) rotate(-90)" text-anchor="middle" font-family="Liberation Sans" font-size="10.2" fill="#111" stroke="#111" stroke-width="0.06">Top Ranked Significant Gene Sets</text>
<circle cx="414.70" cy="290.9" r="2.1" fill="#6e1420"/>
<text transform="translate(414.10 288.6) rotate(-45)" font-family="Liberation Sans" font-size="7" fill="#111" stroke="#111" stroke-width="0.13">AML</text>
<circle cx="424.50" cy="290.9" r="2.1" fill="#c03545"/>
<text transform="translate(423.90 288.6) rotate(-45)" font-family="Liberation Sans" font-size="7" fill="#111" stroke="#111" stroke-width="0.13">B−ALL</text>
<circle cx="434.30" cy="290.9" r="2.1" fill="#f08080"/>
<text transform="translate(433.70 288.6) rotate(-45)" font-family="Liberation Sans" font-size="7" fill="#111" stroke="#111" stroke-width="0.13">B/My MPAL</text>
<circle cx="444.10" cy="290.9" r="2.1" fill="#9b1f30"/>
<text transform="translate(443.50 288.6) rotate(-45)" font-family="Liberation Sans" font-size="7" fill="#111" stroke="#111" stroke-width="0.13">T−ALL</text>
<circle cx="454.00" cy="290.9" r="2.1" fill="#f5505a"/>
<text transform="translate(453.40 288.6) rotate(-45)" font-family="Liberation Sans" font-size="7" fill="#111" stroke="#111" stroke-width="0.13">T/My MPAL</text>
<text x="409.2" y="301.5" font-family="Liberation Sans" font-size="7.6" fill="#111" stroke="#111" stroke-width="0.13">Leukemia Type</text>
<circle cx="484.80" cy="289.4" r="2.10" fill="#000"/>
<text transform="translate(484.00 286.2) rotate(-45)" font-family="Liberation Sans" font-size="7" fill="#111" stroke="#111" stroke-width="0.13">50</text>
<circle cx="494.60" cy="289.4" r="3.00" fill="#000"/>
<text transform="translate(493.80 286.2) rotate(-45)" font-family="Liberation Sans" font-size="7" fill="#111" stroke="#111" stroke-width="0.13">70</text>
<circle cx="504.60" cy="289.4" r="3.60" fill="#000"/>
<text transform="translate(503.80 286.2) rotate(-45)" font-family="Liberation Sans" font-size="7" fill="#111" stroke="#111" stroke-width="0.13">90</text>
<circle cx="514.40" cy="289.4" r="4.10" fill="#000"/>
<text transform="translate(513.60 286.2) rotate(-45)" font-family="Liberation Sans" font-size="7" fill="#111" stroke="#111" stroke-width="0.13">110</text>
<text x="482.8" y="301.5" font-family="Liberation Sans" font-size="7.7" fill="#111" stroke="#111" stroke-width="0.13">T-Statistic</text>
<text x="314" y="358.9" font-family="Liberation Serif" font-size="33">d</text>
<line x1="388.30" y1="354.90" x2="388.30" y2="671.50" stroke="#ebebeb" stroke-width="0.55"/>
<line x1="420.60" y1="354.90" x2="420.60" y2="671.50" stroke="#f3f3f3" stroke-width="0.45"/>
<line x1="452.90" y1="354.90" x2="452.90" y2="671.50" stroke="#ebebeb" stroke-width="0.55"/>
<line x1="485.20" y1="354.90" x2="485.20" y2="671.50" stroke="#f3f3f3" stroke-width="0.45"/>
<line x1="517.50" y1="354.90" x2="517.50" y2="671.50" stroke="#ebebeb" stroke-width="0.55"/>
<line x1="549.80" y1="354.90" x2="549.80" y2="671.50" stroke="#f3f3f3" stroke-width="0.45"/>
<line x1="582.10" y1="354.90" x2="582.10" y2="671.50" stroke="#ebebeb" stroke-width="0.55"/>
<line x1="614.40" y1="354.90" x2="614.40" y2="671.50" stroke="#f3f3f3" stroke-width="0.45"/>
<line x1="369.20" y1="658.00" x2="631.50" y2="658.00" stroke="#ebebeb" stroke-width="0.55"/>
<line x1="369.20" y1="625.64" x2="631.50" y2="625.64" stroke="#f3f3f3" stroke-width="0.45"/>
<line x1="369.20" y1="593.27" x2="631.50" y2="593.27" stroke="#ebebeb" stroke-width="0.55"/>
<line x1="369.20" y1="560.91" x2="631.50" y2="560.91" stroke="#f3f3f3" stroke-width="0.45"/>
<line x1="369.20" y1="528.55" x2="631.50" y2="528.55" stroke="#ebebeb" stroke-width="0.55"/>
<line x1="369.20" y1="496.19" x2="631.50" y2="496.19" stroke="#f3f3f3" stroke-width="0.45"/>
<line x1="369.20" y1="463.82" x2="631.50" y2="463.82" stroke="#ebebeb" stroke-width="0.55"/>
<line x1="369.20" y1="431.46" x2="631.50" y2="431.46" stroke="#f3f3f3" stroke-width="0.45"/>
<line x1="369.20" y1="399.10" x2="631.50" y2="399.10" stroke="#ebebeb" stroke-width="0.55"/>
<line x1="369.20" y1="366.74" x2="631.50" y2="366.74" stroke="#f3f3f3" stroke-width="0.45"/>
<circle cx="512.93" cy="655.51" r="1.5" fill="#c4c4c4"/><circle cx="519.31" cy="657.50" r="1.5" fill="#c4c4c4"/><circle cx="509.01" cy="652.20" r="1.5" fill="#c4c4c4"/><circle cx="512.87" cy="653.89" r="1.5" fill="#c4c4c4"/><circle cx="523.37" cy="654.50" r="1.5" fill="#c4c4c4"/><circle cx="511.41" cy="653.23" r="1.5" fill="#c4c4c4"/><circle cx="517.90" cy="656.83" r="1.5" fill="#c4c4c4"/><circle cx="509.90" cy="652.43" r="1.5" fill="#c4c4c4"/><circle cx="514.03" cy="656.06" r="1.5" fill="#c4c4c4"/><circle cx="517.02" cy="656.31" r="1.5" fill="#c4c4c4"/><circle cx="521.23" cy="654.95" r="1.5" fill="#c4c4c4"/><circle cx="522.75" cy="654.19" r="1.5" fill="#c4c4c4"/><circle cx="524.11" cy="656.96" r="1.5" fill="#c4c4c4"/><circle cx="512.56" cy="653.82" r="1.5" fill="#c4c4c4"/><circle cx="519.71" cy="656.71" r="1.5" fill="#c4c4c4"/><circle cx="515.51" cy="656.54" r="1.5" fill="#c4c4c4"/><circle cx="518.97" cy="655.98" r="1.5" fill="#c4c4c4"/><circle cx="524.98" cy="651.10" r="1.5" fill="#c4c4c4"/><circle cx="520.49" cy="655.89" r="1.5" fill="#c4c4c4"/><circle cx="525.60" cy="651.39" r="1.5" fill="#c4c4c4"/><circle cx="521.23" cy="655.66" r="1.5" fill="#c4c4c4"/><circle cx="518.78" cy="658.08" r="1.5" fill="#c4c4c4"/><circle cx="523.67" cy="653.58" r="1.5" fill="#c4c4c4"/><circle cx="522.74" cy="656.14" r="1.5" fill="#c4c4c4"/><circle cx="513.91" cy="654.30" r="1.5" fill="#c4c4c4"/><circle cx="509.55" cy="654.22" r="1.5" fill="#c4c4c4"/><circle cx="521.31" cy="655.23" r="1.5" fill="#c4c4c4"/><circle cx="525.88" cy="652.36" r="1.5" fill="#c4c4c4"/><circle cx="514.18" cy="656.60" r="1.5" fill="#c4c4c4"/><circle cx="509.33" cy="655.47" r="1.5" fill="#c4c4c4"/><circle cx="519.43" cy="658.07" r="1.5" fill="#c4c4c4"/><circle cx="523.91" cy="654.18" r="1.5" fill="#c4c4c4"/><circle cx="524.42" cy="654.88" r="1.5" fill="#c4c4c4"/><circle cx="517.85" cy="657.06" r="1.5" fill="#c4c4c4"/><circle cx="518.53" cy="655.89" r="1.5" fill="#c4c4c4"/><circle cx="517.62" cy="656.92" r="1.5" fill="#c4c4c4"/><circle cx="512.92" cy="654.81" r="1.5" fill="#c4c4c4"/><circle cx="517.87" cy="658.44" r="1.5" fill="#c4c4c4"/><circle cx="516.02" cy="657.83" r="1.5" fill="#c4c4c4"/><circle cx="519.52" cy="657.39" r="1.5" fill="#c4c4c4"/><circle cx="519.72" cy="656.07" r="1.5" fill="#c4c4c4"/><circle cx="514.93" cy="655.38" r="1.5" fill="#c4c4c4"/><circle cx="509.17" cy="655.54" r="1.5" fill="#c4c4c4"/><circle cx="525.58" cy="655.10" r="1.5" fill="#c4c4c4"/><circle cx="519.12" cy="657.23" r="1.5" fill="#c4c4c4"/><circle cx="514.23" cy="656.00" r="1.5" fill="#c4c4c4"/><circle cx="514.02" cy="655.49" r="1.5" fill="#c4c4c4"/><circle cx="509.25" cy="652.69" r="1.5" fill="#c4c4c4"/><circle cx="514.19" cy="655.82" r="1.5" fill="#c4c4c4"/><circle cx="512.94" cy="656.42" r="1.5" fill="#c4c4c4"/><circle cx="520.95" cy="657.17" r="1.5" fill="#c4c4c4"/><circle cx="514.60" cy="655.64" r="1.5" fill="#c4c4c4"/><circle cx="523.70" cy="656.29" r="1.5" fill="#c4c4c4"/><circle cx="520.12" cy="655.71" r="1.5" fill="#c4c4c4"/><circle cx="512.70" cy="656.34" r="1.5" fill="#c4c4c4"/><circle cx="512.11" cy="653.09" r="1.5" fill="#c4c4c4"/><circle cx="511.98" cy="654.97" r="1.5" fill="#c4c4c4"/><circle cx="519.98" cy="656.19" r="1.5" fill="#c4c4c4"/><circle cx="511.04" cy="654.64" r="1.5" fill="#c4c4c4"/><circle cx="513.51" cy="656.20" r="1.5" fill="#c4c4c4"/><circle cx="516.10" cy="655.93" r="1.5" fill="#c4c4c4"/><circle cx="511.50" cy="655.57" r="1.5" fill="#c4c4c4"/><circle cx="524.13" cy="652.43" r="1.5" fill="#c4c4c4"/><circle cx="525.35" cy="652.27" r="1.5" fill="#c4c4c4"/><circle cx="521.78" cy="654.16" r="1.5" fill="#c4c4c4"/><circle cx="517.83" cy="657.74" r="1.5" fill="#c4c4c4"/><circle cx="512.75" cy="656.38" r="1.5" fill="#c4c4c4"/><circle cx="513.79" cy="656.05" r="1.5" fill="#c4c4c4"/><circle cx="524.54" cy="652.31" r="1.5" fill="#c4c4c4"/><circle cx="524.42" cy="652.26" r="1.5" fill="#c4c4c4"/><circle cx="509.01" cy="652.91" r="1.5" fill="#c4c4c4"/><circle cx="514.01" cy="655.42" r="1.5" fill="#c4c4c4"/><circle cx="516.00" cy="656.09" r="1.5" fill="#c4c4c4"/><circle cx="514.73" cy="655.79" r="1.5" fill="#c4c4c4"/><circle cx="517.10" cy="657.57" r="1.5" fill="#c4c4c4"/><circle cx="512.22" cy="654.15" r="1.5" fill="#c4c4c4"/><circle cx="511.77" cy="652.73" r="1.5" fill="#c4c4c4"/><circle cx="522.84" cy="655.01" r="1.5" fill="#c4c4c4"/><circle cx="519.74" cy="656.95" r="1.5" fill="#c4c4c4"/><circle cx="513.51" cy="656.15" r="1.5" fill="#c4c4c4"/><circle cx="516.16" cy="656.23" r="1.5" fill="#c4c4c4"/><circle cx="508.81" cy="656.79" r="1.5" fill="#c4c4c4"/><circle cx="510.95" cy="655.14" r="1.5" fill="#c4c4c4"/><circle cx="523.68" cy="656.24" r="1.5" fill="#c4c4c4"/><circle cx="514.29" cy="656.71" r="1.5" fill="#c4c4c4"/><circle cx="520.06" cy="656.46" r="1.5" fill="#c4c4c4"/><circle cx="512.11" cy="656.43" r="1.5" fill="#c4c4c4"/><circle cx="518.47" cy="657.17" r="1.5" fill="#c4c4c4"/><circle cx="510.17" cy="655.87" r="1.5" fill="#c4c4c4"/><circle cx="519.32" cy="656.57" r="1.5" fill="#c4c4c4"/><circle cx="522.75" cy="654.76" r="1.5" fill="#c4c4c4"/><circle cx="515.27" cy="655.97" r="1.5" fill="#c4c4c4"/><circle cx="516.11" cy="656.75" r="1.5" fill="#c4c4c4"/><circle cx="513.05" cy="654.84" r="1.5" fill="#c4c4c4"/><circle cx="510.03" cy="654.52" r="1.5" fill="#c4c4c4"/><circle cx="524.12" cy="652.79" r="1.5" fill="#c4c4c4"/><circle cx="524.44" cy="653.47" r="1.5" fill="#c4c4c4"/><circle cx="516.87" cy="656.61" r="1.5" fill="#c4c4c4"/><circle cx="520.33" cy="654.76" r="1.5" fill="#c4c4c4"/><circle cx="520.42" cy="655.52" r="1.5" fill="#c4c4c4"/><circle cx="510.58" cy="655.00" r="1.5" fill="#c4c4c4"/><circle cx="511.28" cy="654.52" r="1.5" fill="#c4c4c4"/><circle cx="510.38" cy="655.11" r="1.5" fill="#c4c4c4"/><circle cx="511.90" cy="655.79" r="1.5" fill="#c4c4c4"/><circle cx="510.89" cy="652.51" r="1.5" fill="#c4c4c4"/><circle cx="523.36" cy="652.83" r="1.5" fill="#c4c4c4"/><circle cx="522.71" cy="655.98" r="1.5" fill="#c4c4c4"/><circle cx="517.70" cy="658.28" r="1.5" fill="#c4c4c4"/><circle cx="521.84" cy="655.24" r="1.5" fill="#c4c4c4"/><circle cx="514.43" cy="655.15" r="1.5" fill="#c4c4c4"/><circle cx="513.00" cy="656.89" r="1.5" fill="#c4c4c4"/><circle cx="519.52" cy="656.45" r="1.5" fill="#c4c4c4"/><circle cx="515.19" cy="656.90" r="1.5" fill="#c4c4c4"/><circle cx="516.07" cy="657.20" r="1.5" fill="#c4c4c4"/><circle cx="525.75" cy="653.50" r="1.5" fill="#c4c4c4"/><circle cx="511.58" cy="653.38" r="1.5" fill="#c4c4c4"/><circle cx="520.53" cy="656.06" r="1.5" fill="#c4c4c4"/><circle cx="519.99" cy="656.49" r="1.5" fill="#c4c4c4"/><circle cx="510.45" cy="652.07" r="1.5" fill="#c4c4c4"/><circle cx="517.80" cy="656.84" r="1.5" fill="#c4c4c4"/><circle cx="512.03" cy="656.44" r="1.5" fill="#c4c4c4"/><circle cx="518.99" cy="657.59" r="1.5" fill="#c4c4c4"/><circle cx="520.83" cy="655.41" r="1.5" fill="#c4c4c4"/><circle cx="521.08" cy="655.18" r="1.5" fill="#c4c4c4"/><circle cx="518.98" cy="657.67" r="1.5" fill="#c4c4c4"/><circle cx="509.18" cy="653.97" r="1.5" fill="#c4c4c4"/><circle cx="511.78" cy="655.73" r="1.5" fill="#c4c4c4"/><circle cx="522.28" cy="655.20" r="1.5" fill="#c4c4c4"/><circle cx="517.14" cy="657.37" r="1.5" fill="#c4c4c4"/><circle cx="523.34" cy="653.39" r="1.5" fill="#c4c4c4"/><circle cx="517.17" cy="656.45" r="1.5" fill="#c4c4c4"/><circle cx="515.76" cy="655.33" r="1.5" fill="#c4c4c4"/><circle cx="516.93" cy="657.93" r="1.5" fill="#c4c4c4"/><circle cx="521.30" cy="654.20" r="1.5" fill="#c4c4c4"/><circle cx="523.67" cy="656.34" r="1.5" fill="#c4c4c4"/><circle cx="513.29" cy="655.89" r="1.5" fill="#c4c4c4"/><circle cx="523.75" cy="653.50" r="1.5" fill="#c4c4c4"/><circle cx="523.87" cy="655.45" r="1.5" fill="#c4c4c4"/><circle cx="521.49" cy="657.63" r="1.5" fill="#c4c4c4"/><circle cx="523.32" cy="655.87" r="1.5" fill="#c4c4c4"/><circle cx="518.90" cy="657.81" r="1.5" fill="#c4c4c4"/><circle cx="514.62" cy="656.28" r="1.5" fill="#c4c4c4"/><circle cx="512.44" cy="653.77" r="1.5" fill="#c4c4c4"/><circle cx="515.60" cy="657.42" r="1.5" fill="#c4c4c4"/><circle cx="513.57" cy="656.12" r="1.5" fill="#c4c4c4"/><circle cx="524.25" cy="653.46" r="1.5" fill="#c4c4c4"/><circle cx="525.20" cy="653.87" r="1.5" fill="#c4c4c4"/><circle cx="521.99" cy="655.56" r="1.5" fill="#c4c4c4"/><circle cx="520.19" cy="656.23" r="1.5" fill="#c4c4c4"/><circle cx="521.93" cy="653.67" r="1.5" fill="#c4c4c4"/><circle cx="518.13" cy="657.36" r="1.5" fill="#c4c4c4"/><circle cx="514.92" cy="655.49" r="1.5" fill="#c4c4c4"/><circle cx="518.66" cy="656.84" r="1.5" fill="#c4c4c4"/><circle cx="519.78" cy="655.98" r="1.5" fill="#c4c4c4"/><circle cx="520.21" cy="655.87" r="1.5" fill="#c4c4c4"/><circle cx="511.25" cy="654.72" r="1.5" fill="#c4c4c4"/><circle cx="519.20" cy="656.28" r="1.5" fill="#c4c4c4"/><circle cx="516.76" cy="657.98" r="1.5" fill="#c4c4c4"/><circle cx="509.98" cy="652.31" r="1.5" fill="#c4c4c4"/><circle cx="518.25" cy="657.34" r="1.5" fill="#c4c4c4"/>
<path d="M592.95 412.40h4.30M595.10 410.25v4.30" stroke="#e83a3a" stroke-width="0.65"/>
<path d="M576.15 531.90h4.30M578.30 529.75v4.30" stroke="#e83a3a" stroke-width="0.65"/>
<path d="M553.25 540.50h4.30M555.40 538.35v4.30" stroke="#e83a3a" stroke-width="0.65"/>
<path d="M589.35 557.20h4.30M591.50 555.05v4.30" stroke="#e83a3a" stroke-width="0.65"/>
<path d="M608.55 554.80h4.30M610.70 552.65v4.30" stroke="#e83a3a" stroke-width="0.65"/>
<path d="M557.35 566.00h4.30M559.50 563.85v4.30" stroke="#e83a3a" stroke-width="0.65"/>
<path d="M541.25 579.00h4.30M543.40 576.85v4.30" stroke="#e83a3a" stroke-width="0.65"/>
<path d="M550.75 587.40h4.30M552.90 585.25v4.30" stroke="#e83a3a" stroke-width="0.65"/>
<path d="M558.75 583.50h4.30M560.90 581.35v4.30" stroke="#e83a3a" stroke-width="0.65"/>
<path d="M572.95 578.60h4.30M575.10 576.45v4.30" stroke="#e83a3a" stroke-width="0.65"/>
<path d="M570.45 592.30h4.30M572.60 590.15v4.30" stroke="#e83a3a" stroke-width="0.65"/>
<path d="M537.75 608.50h4.30M539.90 606.35v4.30" stroke="#e83a3a" stroke-width="0.65"/>
<path d="M544.15 609.80h4.30M546.30 607.65v4.30" stroke="#e83a3a" stroke-width="0.65"/>
<path d="M536.65 625.30h4.30M538.80 623.15v4.30" stroke="#e83a3a" stroke-width="0.65"/>
<path d="M553.35 623.40h4.30M555.50 621.25v4.30" stroke="#e83a3a" stroke-width="0.65"/>
<path d="M533.45 635.80h4.30M535.60 633.65v4.30" stroke="#e83a3a" stroke-width="0.65"/>
<path d="M528.55 641.10h4.30M530.70 638.95v4.30" stroke="#e83a3a" stroke-width="0.65"/>
<path d="M528.35 641.40h4.30M530.50 639.25v4.30" stroke="#e83a3a" stroke-width="0.65"/>
<path d="M529.25 646.00h4.30M531.40 643.85v4.30" stroke="#e83a3a" stroke-width="0.65"/>
<path d="M524.55 651.30h4.30M526.70 649.15v4.30" stroke="#e83a3a" stroke-width="0.65"/>
<path d="M570.35 592.40h4.30M572.50 590.25v4.30" stroke="#e83a3a" stroke-width="0.65"/>
<rect x="598.00" y="480.70" width="3.00" height="3.00" fill="#3a0a14"/>
<rect x="601.60" y="496.40" width="3.00" height="3.00" fill="#3a0a14"/>
<rect x="603.30" y="502.40" width="3.00" height="3.00" fill="#3a0a14"/>
<rect x="610.50" y="556.00" width="3.00" height="3.00" fill="#3a0a14"/>
<rect x="591.90" y="575.90" width="3.00" height="3.00" fill="#3a0a14"/>
<rect x="611.40" y="589.50" width="3.00" height="3.00" fill="#3a0a14"/>
<rect x="586.30" y="595.20" width="3.00" height="3.00" fill="#3a0a14"/>
<rect x="582.20" y="609.50" width="3.00" height="3.00" fill="#3a0a14"/>
<rect x="551.50" y="601.90" width="3.00" height="3.00" fill="#3a0a14"/>
<rect x="552.00" y="611.80" width="3.00" height="3.00" fill="#3a0a14"/>
<rect x="539.70" y="614.20" width="3.00" height="3.00" fill="#3a0a14"/>
<rect x="548.80" y="627.00" width="3.00" height="3.00" fill="#3a0a14"/>
<rect x="556.90" y="630.60" width="3.00" height="3.00" fill="#3a0a14"/>
<rect x="533.60" y="639.60" width="3.00" height="3.00" fill="#3a0a14"/>
<rect x="533.40" y="638.70" width="3.00" height="3.00" fill="#3a0a14"/>
<rect x="534.00" y="641.00" width="3.00" height="3.00" fill="#3a0a14"/>
<rect x="531.60" y="643.90" width="3.00" height="3.00" fill="#3a0a14"/>
<rect x="532.20" y="646.90" width="3.00" height="3.00" fill="#3a0a14"/>
<rect x="548.60" y="627.60" width="3.00" height="3.00" fill="#3a0a14"/>
<rect x="550.00" y="638.70" width="3.00" height="3.00" fill="#3a0a14"/>
<rect x="556.50" y="630.30" width="3.00" height="3.00" fill="#3a0a14"/>
<rect x="534.00" y="651.50" width="3.00" height="3.00" fill="#3a0a14"/>
<rect x="537.50" y="647.50" width="3.00" height="3.00" fill="#3a0a14"/>
<rect x="528.50" y="648.50" width="3.00" height="3.00" fill="#3a0a14"/>
<rect x="535.50" y="650.00" width="3.00" height="3.00" fill="#3a0a14"/>
<rect x="530.50" y="652.50" width="3.00" height="3.00" fill="#3a0a14"/>
<circle cx="562.10" cy="517.60" r="1.60" fill="#c8283c"/>
<circle cx="554.00" cy="542.40" r="1.60" fill="#c8283c"/>
<circle cx="549.50" cy="556.40" r="1.60" fill="#c8283c"/>
<circle cx="550.10" cy="584.10" r="1.60" fill="#c8283c"/>
<circle cx="552.70" cy="584.80" r="1.60" fill="#c8283c"/>
<circle cx="563.40" cy="581.30" r="1.60" fill="#c8283c"/>
<circle cx="533.50" cy="607.70" r="1.60" fill="#c8283c"/>
<circle cx="539.90" cy="615.40" r="1.60" fill="#c8283c"/>
<circle cx="544.70" cy="623.70" r="1.60" fill="#c8283c"/>
<circle cx="543.60" cy="626.10" r="1.60" fill="#c8283c"/>
<circle cx="528.70" cy="628.20" r="1.60" fill="#c8283c"/>
<circle cx="552.30" cy="629.00" r="1.60" fill="#c8283c"/>
<circle cx="532.30" cy="632.60" r="1.60" fill="#c8283c"/>
<circle cx="546.00" cy="632.10" r="1.60" fill="#c8283c"/>
<circle cx="539.90" cy="636.30" r="1.60" fill="#c8283c"/>
<circle cx="529.80" cy="636.60" r="1.60" fill="#c8283c"/>
<circle cx="530.20" cy="639.60" r="1.60" fill="#c8283c"/>
<circle cx="525.80" cy="648.40" r="1.60" fill="#c8283c"/>
<circle cx="527.00" cy="652.00" r="1.60" fill="#c8283c"/>
<circle cx="529.00" cy="655.00" r="1.60" fill="#c8283c"/>
<circle cx="526.00" cy="655.50" r="1.60" fill="#c8283c"/>
<path d="M618.80 628.90L620.79 632.22L616.80 632.22z" fill="#d9603a"/>
<path d="M555.50 634.40L557.50 637.72L553.50 637.72z" fill="#d9603a"/>
<path d="M544.40 637.60L546.39 640.92L542.40 640.92z" fill="#d9603a"/>
<path d="M564.50 639.20L566.50 642.52L562.50 642.52z" fill="#d9603a"/>
<path d="M579.20 640.30L581.20 643.62L577.21 643.62z" fill="#d9603a"/>
<path d="M589.70 642.40L591.70 645.72L587.71 645.72z" fill="#d9603a"/>
<path d="M544.20 637.70L546.20 641.02L542.21 641.02z" fill="#d9603a"/>
<path d="M542.50 644.10L544.50 647.42L540.50 647.42z" fill="#d9603a"/>
<path d="M547.20 644.70L549.20 648.02L545.21 648.02z" fill="#d9603a"/>
<path d="M540.70 653.50L542.70 656.82L538.71 656.82z" fill="#d9603a"/>
<path d="M536.00 650.10L538.00 653.42L534.00 653.42z" fill="#d9603a"/>
<path d="M549.00 650.60L551.00 653.92L547.00 653.92z" fill="#d9603a"/>
<g><rect x="617.80" y="624.50" width="3.20" height="3.20" fill="#7a1a1a"/><circle cx="619.40" cy="626.10" r="0.88" fill="none" stroke="#ffffff" stroke-opacity="0.55" stroke-width="0.35"/></g>
<g><rect x="569.60" y="618.10" width="3.20" height="3.20" fill="#7a1a1a"/><circle cx="571.20" cy="619.70" r="0.88" fill="none" stroke="#ffffff" stroke-opacity="0.55" stroke-width="0.35"/></g>
<g><rect x="547.40" y="633.80" width="3.20" height="3.20" fill="#7a1a1a"/><circle cx="549.00" cy="635.40" r="0.88" fill="none" stroke="#ffffff" stroke-opacity="0.55" stroke-width="0.35"/></g>
<g><rect x="556.40" y="636.60" width="3.20" height="3.20" fill="#7a1a1a"/><circle cx="558.00" cy="638.20" r="0.88" fill="none" stroke="#ffffff" stroke-opacity="0.55" stroke-width="0.35"/></g>
<g><rect x="550.70" y="638.20" width="3.20" height="3.20" fill="#7a1a1a"/><circle cx="552.30" cy="639.80" r="0.88" fill="none" stroke="#ffffff" stroke-opacity="0.55" stroke-width="0.35"/></g>
<g><rect x="550.70" y="643.40" width="3.20" height="3.20" fill="#7a1a1a"/><circle cx="552.30" cy="645.00" r="0.88" fill="none" stroke="#ffffff" stroke-opacity="0.55" stroke-width="0.35"/></g>
<g><rect x="556.80" y="640.60" width="3.20" height="3.20" fill="#7a1a1a"/><circle cx="558.40" cy="642.20" r="0.88" fill="none" stroke="#ffffff" stroke-opacity="0.55" stroke-width="0.35"/></g>
<g><rect x="556.80" y="646.40" width="3.20" height="3.20" fill="#7a1a1a"/><circle cx="558.40" cy="648.00" r="0.88" fill="none" stroke="#ffffff" stroke-opacity="0.55" stroke-width="0.35"/></g>
<g><rect x="556.80" y="650.40" width="3.20" height="3.20" fill="#7a1a1a"/><circle cx="558.40" cy="652.00" r="0.88" fill="none" stroke="#ffffff" stroke-opacity="0.55" stroke-width="0.35"/></g>
<g><rect x="569.30" y="642.20" width="3.20" height="3.20" fill="#7a1a1a"/><circle cx="570.90" cy="643.80" r="0.88" fill="none" stroke="#ffffff" stroke-opacity="0.55" stroke-width="0.35"/></g>
<g><rect x="547.50" y="633.90" width="3.20" height="3.20" fill="#7a1a1a"/><circle cx="549.10" cy="635.50" r="0.88" fill="none" stroke="#ffffff" stroke-opacity="0.55" stroke-width="0.35"/></g>
<g><rect x="538.50" y="647.40" width="3.20" height="3.20" fill="#7a1a1a"/><circle cx="540.10" cy="649.00" r="0.88" fill="none" stroke="#ffffff" stroke-opacity="0.55" stroke-width="0.35"/></g>
<g><rect x="542.00" y="648.50" width="3.20" height="3.20" fill="#7a1a1a"/><circle cx="543.60" cy="650.10" r="0.88" fill="none" stroke="#ffffff" stroke-opacity="0.55" stroke-width="0.35"/></g>
<g><rect x="545.90" y="646.20" width="3.20" height="3.20" fill="#7a1a1a"/><circle cx="547.50" cy="647.80" r="0.88" fill="none" stroke="#ffffff" stroke-opacity="0.55" stroke-width="0.35"/></g>
<g><rect x="529.20" y="651.40" width="3.20" height="3.20" fill="#7a1a1a"/><circle cx="530.80" cy="653.00" r="0.88" fill="none" stroke="#ffffff" stroke-opacity="0.55" stroke-width="0.35"/></g>
<g><rect x="544.40" y="651.40" width="3.20" height="3.20" fill="#7a1a1a"/><circle cx="546.00" cy="653.00" r="0.88" fill="none" stroke="#ffffff" stroke-opacity="0.55" stroke-width="0.35"/></g>
<g><rect x="536.40" y="651.90" width="3.20" height="3.20" fill="#7a1a1a"/><circle cx="538.00" cy="653.50" r="0.88" fill="none" stroke="#ffffff" stroke-opacity="0.55" stroke-width="0.35"/></g>
<g><rect x="532.40" y="654.40" width="3.20" height="3.20" fill="#7a1a1a"/><circle cx="534.00" cy="656.00" r="0.88" fill="none" stroke="#ffffff" stroke-opacity="0.55" stroke-width="0.35"/></g>
<path d="M378.85 368.90h4.30M381.00 366.75v4.30" stroke="#5a8aa8" stroke-width="0.65"/>
<path d="M489.25 604.10h4.30M491.40 601.95v4.30" stroke="#5a8aa8" stroke-width="0.65"/>
<path d="M487.65 614.90h4.30M489.80 612.75v4.30" stroke="#5a8aa8" stroke-width="0.65"/>
<path d="M495.25 620.20h4.30M497.40 618.05v4.30" stroke="#5a8aa8" stroke-width="0.65"/>
<path d="M475.45 624.50h4.30M477.60 622.35v4.30" stroke="#5a8aa8" stroke-width="0.65"/>
<path d="M496.55 634.10h4.30M498.70 631.95v4.30" stroke="#5a8aa8" stroke-width="0.65"/>
<path d="M496.55 636.10h4.30M498.70 633.95v4.30" stroke="#5a8aa8" stroke-width="0.65"/>
<path d="M502.35 643.10h4.30M504.50 640.95v4.30" stroke="#5a8aa8" stroke-width="0.65"/>
<path d="M498.85 648.40h4.30M501.00 646.25v4.30" stroke="#5a8aa8" stroke-width="0.65"/>
<g><rect x="467.20" y="625.00" width="3.20" height="3.20" fill="#4a3ae0"/><circle cx="468.80" cy="626.60" r="0.88" fill="none" stroke="#ffffff" stroke-opacity="0.55" stroke-width="0.35"/></g>
<g><rect x="486.80" y="638.60" width="3.20" height="3.20" fill="#4a3ae0"/><circle cx="488.40" cy="640.20" r="0.88" fill="none" stroke="#ffffff" stroke-opacity="0.55" stroke-width="0.35"/></g>
<g><rect x="496.50" y="646.80" width="3.20" height="3.20" fill="#4a3ae0"/><circle cx="498.10" cy="648.40" r="0.88" fill="none" stroke="#ffffff" stroke-opacity="0.55" stroke-width="0.35"/></g>
<g><rect x="487.20" y="651.40" width="3.20" height="3.20" fill="#4a3ae0"/><circle cx="488.80" cy="653.00" r="0.88" fill="none" stroke="#ffffff" stroke-opacity="0.55" stroke-width="0.35"/></g>
<g><rect x="489.80" y="651.40" width="3.20" height="3.20" fill="#4a3ae0"/><circle cx="491.40" cy="653.00" r="0.88" fill="none" stroke="#ffffff" stroke-opacity="0.55" stroke-width="0.35"/></g>
<g><rect x="500.60" y="650.80" width="3.20" height="3.20" fill="#4a3ae0"/><circle cx="502.20" cy="652.40" r="0.88" fill="none" stroke="#ffffff" stroke-opacity="0.55" stroke-width="0.35"/></g>
<g><rect x="503.50" y="652.00" width="3.20" height="3.20" fill="#4a3ae0"/><circle cx="505.10" cy="653.60" r="0.88" fill="none" stroke="#ffffff" stroke-opacity="0.55" stroke-width="0.35"/></g>
<g><rect x="505.80" y="653.20" width="3.20" height="3.20" fill="#4a3ae0"/><circle cx="507.40" cy="654.80" r="0.88" fill="none" stroke="#ffffff" stroke-opacity="0.55" stroke-width="0.35"/></g>
<g><rect x="505.30" y="650.80" width="3.20" height="3.20" fill="#4a3ae0"/><circle cx="506.90" cy="652.40" r="0.88" fill="none" stroke="#ffffff" stroke-opacity="0.55" stroke-width="0.35"/></g>
<g><rect x="492.40" y="652.90" width="3.20" height="3.20" fill="#4a3ae0"/><circle cx="494.00" cy="654.50" r="0.88" fill="none" stroke="#ffffff" stroke-opacity="0.55" stroke-width="0.35"/></g>
<g><rect x="498.40" y="653.90" width="3.20" height="3.20" fill="#4a3ae0"/><circle cx="500.00" cy="655.50" r="0.88" fill="none" stroke="#ffffff" stroke-opacity="0.55" stroke-width="0.35"/></g>
<g><rect x="502.40" y="654.90" width="3.20" height="3.20" fill="#4a3ae0"/><circle cx="504.00" cy="656.50" r="0.88" fill="none" stroke="#ffffff" stroke-opacity="0.55" stroke-width="0.35"/></g>
<path d="M482.90 635.40L484.89 638.72L480.90 638.72z" fill="#2a5fd0"/>
<path d="M478.90 639.50L480.89 642.82L476.90 642.82z" fill="#2a5fd0"/>
<path d="M494.60 648.20L496.60 651.52L492.61 651.52z" fill="#2a5fd0"/>
<path d="M494.60 652.30L496.60 655.62L492.61 655.62z" fill="#2a5fd0"/>
<path d="M498.70 653.70L500.69 657.02L496.70 657.02z" fill="#2a5fd0"/>
<circle cx="506.90" cy="635.70" r="1.60" fill="#2a9fd0"/>
<circle cx="505.50" cy="638.80" r="1.60" fill="#2a9fd0"/>
<circle cx="507.40" cy="646.60" r="1.60" fill="#2a9fd0"/>
<rect x="496.60" y="639.30" width="3.00" height="3.00" fill="#2a3a9a"/>
<rect x="499.50" y="641.80" width="3.00" height="3.00" fill="#2a3a9a"/>
<rect x="506.30" y="650.60" width="3.00" height="3.00" fill="#2a3a9a"/>
<rect x="501.30" y="653.60" width="3.00" height="3.00" fill="#2a3a9a"/>
<rect x="507.00" y="654.50" width="3.00" height="3.00" fill="#2a3a9a"/>
<line x1="509.43" y1="354.90" x2="509.43" y2="671.50" stroke="#ee2222" stroke-width="0.9"/>
<line x1="525.58" y1="354.90" x2="525.58" y2="671.50" stroke="#ee2222" stroke-width="0.9"/>
<line x1="369.20" y1="656.32" x2="631.00" y2="656.32" stroke="#ee2222" stroke-width="0.9"/>
<text x="486.6" y="351.3" font-family="Liberation Sans" font-size="9.8" textLength="27.4" lengthAdjust="spacingAndGlyphs" fill="#111" stroke="#111" stroke-width="0.06">-0.25</text>
<text x="520.5" y="351.3" font-family="Liberation Sans" font-size="9.8" textLength="22.9" lengthAdjust="spacingAndGlyphs" fill="#111" stroke="#111" stroke-width="0.06">0.25</text>
<text x="634.4" y="658.5" font-family="Liberation Sans" font-size="9" textLength="49" lengthAdjust="spacingAndGlyphs" fill="#111" stroke="#111" stroke-width="0.06">-log10(0.05)</text>
<text x="366.7" y="661.30" text-anchor="end" font-family="Liberation Sans" font-size="9.3" fill="#4d4d4d" stroke="#4d4d4d" stroke-width="0.06">0</text>
<text x="366.7" y="596.57" text-anchor="end" font-family="Liberation Sans" font-size="9.3" fill="#4d4d4d" stroke="#4d4d4d" stroke-width="0.06">50</text>
<text x="366.7" y="531.85" text-anchor="end" font-family="Liberation Sans" font-size="9.3" fill="#4d4d4d" stroke="#4d4d4d" stroke-width="0.06">100</text>
<text x="366.7" y="467.12" text-anchor="end" font-family="Liberation Sans" font-size="9.3" fill="#4d4d4d" stroke="#4d4d4d" stroke-width="0.06">150</text>
<text x="366.7" y="402.40" text-anchor="end" font-family="Liberation Sans" font-size="9.3" fill="#4d4d4d" stroke="#4d4d4d" stroke-width="0.06">200</text>
<text x="388.30" y="681.3" text-anchor="middle" font-family="Liberation Sans" font-size="9" fill="#4d4d4d" stroke="#4d4d4d" stroke-width="0.06">−4</text>
<text x="452.90" y="681.3" text-anchor="middle" font-family="Liberation Sans" font-size="9" fill="#4d4d4d" stroke="#4d4d4d" stroke-width="0.06">−2</text>
<text x="517.50" y="681.3" text-anchor="middle" font-family="Liberation Sans" font-size="9" fill="#4d4d4d" stroke="#4d4d4d" stroke-width="0.06">0</text>
<text x="582.10" y="681.3" text-anchor="middle" font-family="Liberation Sans" font-size="9" fill="#4d4d4d" stroke="#4d4d4d" stroke-width="0.06">2</text>
<text x="467.4" y="692.3" font-family="Liberation Sans" font-size="12.4" fill="#111" stroke="#111" stroke-width="0.06">Fold Change (Log<tspan font-size="8.4" dy="2.5">2</tspan><tspan dy="-2.5">)</tspan></text>
<text transform="translate(340.2 523.8) rotate(-90)" text-anchor="middle" font-family="Liberation Sans" font-size="10" fill="#111" stroke="#111" stroke-width="0.06">−log10(adj. P Val)</text>
<text x="384.50" y="367.50" text-anchor="start" font-family="Liberation Sans" font-style="italic" font-size="7.6" fill="#4a7595" stroke="#4a7595" stroke-width="0.05">NECTIN</text>
<text x="597.60" y="409.60" text-anchor="start" font-family="Liberation Sans" font-style="italic" font-size="7.6" fill="#dc1c2a" stroke="#dc1c2a" stroke-width="0.05">MYL6B</text>
<text x="601.60" y="481.60" text-anchor="start" font-family="Liberation Sans" font-style="italic" font-size="7.6" fill="#3a0a14" stroke="#3a0a14" stroke-width="0.05">MYL6B</text>
<text x="600.30" y="498.10" text-anchor="end" font-family="Liberation Sans" font-style="italic" font-size="7.6" fill="#3a0a14" stroke="#3a0a14" stroke-width="0.05">CCNB1IP1</text>
<text x="608.00" y="506.50" text-anchor="start" font-family="Liberation Sans" font-style="italic" font-size="7.6" fill="#3a0a14" stroke="#3a0a14" stroke-width="0.05">MYB</text>
<text x="530.50" y="516.10" text-anchor="start" font-family="Liberation Sans" font-style="italic" font-size="7.6" fill="#c8283c" stroke="#c8283c" stroke-width="0.05">CCNB1IP1</text>
<text x="581.00" y="529.50" text-anchor="start" font-family="Liberation Sans" font-style="italic" font-size="7.6" fill="#dc1c2a" stroke="#dc1c2a" stroke-width="0.05">MYB</text>
<text x="529.70" y="538.50" text-anchor="start" font-family="Liberation Sans" font-style="italic" font-size="7.6" fill="#dc1c2a" stroke="#dc1c2a" stroke-width="0.05">STT3B</text>
<text x="528.00" y="549.50" text-anchor="start" font-family="Liberation Sans" font-style="italic" font-size="7.6" fill="#c8283c" stroke="#c8283c" stroke-width="0.05">MYL6B</text>
<text x="528.80" y="564.30" text-anchor="start" font-family="Liberation Sans" font-style="italic" font-size="7.6" fill="#c8283c" stroke="#c8283c" stroke-width="0.05">TAF1D</text>
<text x="566.10" y="556.50" text-anchor="start" font-family="Liberation Sans" font-style="italic" font-size="7.6" fill="#dc1c2a" stroke="#dc1c2a" stroke-width="0.05">HACD1</text>
<text x="613.00" y="553.50" text-anchor="start" font-family="Liberation Sans" font-style="italic" font-size="7.6" fill="#dc1c2a" stroke="#dc1c2a" stroke-width="0.05">MIR181A1HG</text>
<text x="613.60" y="566.30" text-anchor="start" font-family="Liberation Sans" font-style="italic" font-size="7.6" fill="#3a0a14" stroke="#3a0a14" stroke-width="0.05">HACD1</text>
<text x="596.00" y="579.50" text-anchor="start" font-family="Liberation Sans" font-style="italic" font-size="7.6" fill="#3a0a14" stroke="#3a0a14" stroke-width="0.05">PMAIP1</text>
<text x="615.00" y="593.00" text-anchor="start" font-family="Liberation Sans" font-style="italic" font-size="7.6" fill="#3a0a14" stroke="#3a0a14" stroke-width="0.05">ERG</text>
<text x="590.00" y="601.00" text-anchor="start" font-family="Liberation Sans" font-style="italic" font-size="7.6" fill="#3a0a14" stroke="#3a0a14" stroke-width="0.05">SMIM3</text>
<text x="586.00" y="615.00" text-anchor="start" font-family="Liberation Sans" font-style="italic" font-size="7.6" fill="#3a0a14" stroke="#3a0a14" stroke-width="0.05">ARMH1</text>
<text x="587.00" y="624.70" text-anchor="start" font-family="Liberation Sans" font-style="italic" font-size="7.6" fill="#7a1a1a" stroke="#7a1a1a" stroke-width="0.05">MIR181A1HG</text>
<text x="595.90" y="639.00" text-anchor="start" font-family="Liberation Sans" font-style="italic" font-size="7.6" fill="#d9603a" stroke="#d9603a" stroke-width="0.05">MIR181A1HG</text>
<text x="460.50" y="603.00" text-anchor="start" font-family="Liberation Sans" font-style="italic" font-size="7.6" fill="#4a7595" stroke="#4a7595" stroke-width="0.05">POLR2A</text>
<text x="457.30" y="617.00" text-anchor="start" font-family="Liberation Sans" font-style="italic" font-size="7.6" fill="#4a7595" stroke="#4a7595" stroke-width="0.05">FAM53C</text>
<text x="436.70" y="631.00" text-anchor="start" font-family="Liberation Sans" font-style="italic" font-size="7.6" fill="#4a3ae0" stroke="#4a3ae0" stroke-width="0.05">FAM53C</text>
<rect x="404.6" y="405.4" width="90.6" height="93.8" rx="3" fill="#fff" stroke="#222" stroke-width="0.8"/>
<text x="410.5" y="417.6" font-family="Liberation Sans" font-size="9.2" fill="#111" stroke="#111" stroke-width="0.06">Diff. Expression</text>
<text transform="translate(457.20 436.8) rotate(-45)" font-family="Liberation Sans" font-size="7.5" fill="#111" stroke="#111" stroke-width="0.13">UP</text>
<text transform="translate(471.20 436.8) rotate(-45)" font-family="Liberation Sans" font-size="7.5" fill="#111" stroke="#111" stroke-width="0.13">DOWN</text>
<text transform="translate(484.70 436.8) rotate(-45)" font-family="Liberation Sans" font-size="7.5" fill="#111" stroke="#111" stroke-width="0.13">NS</text>
<text x="447" y="444.40" text-anchor="end" font-family="Liberation Sans" font-size="7.55" fill="#111" stroke="#111" stroke-width="0.13">AML</text>
<circle cx="457.80" cy="441.70" r="2.80" fill="#c8283c"/>
<circle cx="471.80" cy="441.70" r="2.80" fill="#2a9fd0"/>
<circle cx="485.30" cy="441.70" r="2.80" fill="#bdbdbd"/>
<text x="447" y="456.90" text-anchor="end" font-family="Liberation Sans" font-size="7.55" fill="#111" stroke="#111" stroke-width="0.13">B/My MPAL</text>
<path d="M457.80 450.88L461.29 456.69L454.31 456.69z" fill="#d9603a"/>
<path d="M471.80 450.88L475.29 456.69L468.31 456.69z" fill="#2a5fd0"/>
<path d="M485.30 450.88L488.79 456.69L481.81 456.69z" fill="#c0c0c0"/>
<text x="447" y="469.80" text-anchor="end" font-family="Liberation Sans" font-size="7.55" fill="#111" stroke="#111" stroke-width="0.13">Pre B−ALL</text>
<rect x="455.18" y="464.48" width="5.25" height="5.25" fill="#3a0a14"/>
<rect x="469.18" y="464.48" width="5.25" height="5.25" fill="#2a3a9a"/>
<rect x="482.68" y="464.48" width="5.25" height="5.25" fill="#c0c0c0"/>
<text x="447" y="482.60" text-anchor="end" font-family="Liberation Sans" font-size="7.55" fill="#111" stroke="#111" stroke-width="0.13">T−ALL</text>
<path d="M454.04 479.90h7.52M457.80 476.14v7.52" stroke="#e83a3a" stroke-width="1.14"/>
<path d="M468.04 479.90h7.52M471.80 476.14v7.52" stroke="#5a8aa8" stroke-width="1.14"/>
<path d="M481.54 479.90h7.52M485.30 476.14v7.52" stroke="#c8c8c8" stroke-width="1.14"/>
<text x="447" y="495.20" text-anchor="end" font-family="Liberation Sans" font-size="7.55" fill="#111" stroke="#111" stroke-width="0.13">T/My MPAL</text>
<g><rect x="455.00" y="489.70" width="5.60" height="5.60" fill="#7a1a1a"/><circle cx="457.80" cy="492.50" r="1.54" fill="none" stroke="#ffffff" stroke-opacity="0.55" stroke-width="0.61"/></g>
<g><rect x="469.00" y="489.70" width="5.60" height="5.60" fill="#4a3ae0"/><circle cx="471.80" cy="492.50" r="1.54" fill="none" stroke="#ffffff" stroke-opacity="0.55" stroke-width="0.61"/></g>
<g><rect x="482.50" y="489.70" width="5.60" height="5.60" fill="#cccccc"/><circle cx="485.30" cy="492.50" r="1.54" fill="none" stroke="#ffffff" stroke-opacity="0.55" stroke-width="0.61"/></g>
<text x="8.2" y="723.6" font-family="Liberation Serif" font-size="33">e</text>
<line x1="78.60" y1="726.6" x2="78.60" y2="892.1" stroke="#e6e6e6" stroke-width="0.85"/>
<line x1="92.30" y1="726.6" x2="92.30" y2="892.1" stroke="#e6e6e6" stroke-width="0.85"/>
<line x1="106.00" y1="726.6" x2="106.00" y2="892.1" stroke="#e6e6e6" stroke-width="0.85"/>
<line x1="119.70" y1="726.6" x2="119.70" y2="892.1" stroke="#e6e6e6" stroke-width="0.85"/>
<line x1="133.40" y1="726.6" x2="133.40" y2="892.1" stroke="#e6e6e6" stroke-width="0.85"/>
<line x1="147.10" y1="726.6" x2="147.10" y2="892.1" stroke="#e6e6e6" stroke-width="0.85"/>
<line x1="160.80" y1="726.6" x2="160.80" y2="892.1" stroke="#e6e6e6" stroke-width="0.85"/>
<line x1="174.50" y1="726.6" x2="174.50" y2="892.1" stroke="#e6e6e6" stroke-width="0.85"/>
<line x1="188.20" y1="726.6" x2="188.20" y2="892.1" stroke="#e6e6e6" stroke-width="0.85"/>
<line x1="201.90" y1="726.6" x2="201.90" y2="892.1" stroke="#e6e6e6" stroke-width="0.85"/>
<line x1="215.60" y1="726.6" x2="215.60" y2="892.1" stroke="#e6e6e6" stroke-width="0.85"/>
<line x1="229.30" y1="726.6" x2="229.30" y2="892.1" stroke="#e6e6e6" stroke-width="0.85"/>
<line x1="243.00" y1="726.6" x2="243.00" y2="892.1" stroke="#e6e6e6" stroke-width="0.85"/>
<line x1="256.70" y1="726.6" x2="256.70" y2="892.1" stroke="#e6e6e6" stroke-width="0.85"/>
<line x1="270.40" y1="726.6" x2="270.40" y2="892.1" stroke="#e6e6e6" stroke-width="0.85"/>
<line x1="284.10" y1="726.6" x2="284.10" y2="892.1" stroke="#e6e6e6" stroke-width="0.85"/>
<line x1="297.80" y1="726.6" x2="297.80" y2="892.1" stroke="#e6e6e6" stroke-width="0.85"/>
<line x1="311.50" y1="726.6" x2="311.50" y2="892.1" stroke="#e6e6e6" stroke-width="0.85"/>
<line x1="325.20" y1="726.6" x2="325.20" y2="892.1" stroke="#e6e6e6" stroke-width="0.85"/>
<line x1="338.90" y1="726.6" x2="338.90" y2="892.1" stroke="#e6e6e6" stroke-width="0.85"/>
<line x1="352.60" y1="726.6" x2="352.60" y2="892.1" stroke="#e6e6e6" stroke-width="0.85"/>
<line x1="366.30" y1="726.6" x2="366.30" y2="892.1" stroke="#e6e6e6" stroke-width="0.85"/>
<line x1="380.00" y1="726.6" x2="380.00" y2="892.1" stroke="#e6e6e6" stroke-width="0.85"/>
<line x1="393.70" y1="726.6" x2="393.70" y2="892.1" stroke="#e6e6e6" stroke-width="0.85"/>
<line x1="407.40" y1="726.6" x2="407.40" y2="892.1" stroke="#e6e6e6" stroke-width="0.85"/>
<line x1="421.10" y1="726.6" x2="421.10" y2="892.1" stroke="#e6e6e6" stroke-width="0.85"/>
<line x1="434.80" y1="726.6" x2="434.80" y2="892.1" stroke="#e6e6e6" stroke-width="0.85"/>
<line x1="448.50" y1="726.6" x2="448.50" y2="892.1" stroke="#e6e6e6" stroke-width="0.85"/>
<line x1="462.20" y1="726.6" x2="462.20" y2="892.1" stroke="#e6e6e6" stroke-width="0.85"/>
<line x1="475.90" y1="726.6" x2="475.90" y2="892.1" stroke="#e6e6e6" stroke-width="0.85"/>
<line x1="489.60" y1="726.6" x2="489.60" y2="892.1" stroke="#e6e6e6" stroke-width="0.85"/>
<line x1="503.30" y1="726.6" x2="503.30" y2="892.1" stroke="#e6e6e6" stroke-width="0.85"/>
<line x1="517.00" y1="726.6" x2="517.00" y2="892.1" stroke="#e6e6e6" stroke-width="0.85"/>
<line x1="530.70" y1="726.6" x2="530.70" y2="892.1" stroke="#e6e6e6" stroke-width="0.85"/>
<line x1="544.40" y1="726.6" x2="544.40" y2="892.1" stroke="#e6e6e6" stroke-width="0.85"/>
<line x1="558.10" y1="726.6" x2="558.10" y2="892.1" stroke="#e6e6e6" stroke-width="0.85"/>
<line x1="70.3" y1="745.70" x2="565" y2="745.70" stroke="#e6e6e6" stroke-width="0.85"/>
<line x1="70.3" y1="777.30" x2="565" y2="777.30" stroke="#e6e6e6" stroke-width="0.85"/>
<line x1="70.3" y1="809.10" x2="565" y2="809.10" stroke="#e6e6e6" stroke-width="0.85"/>
<line x1="70.3" y1="840.80" x2="565" y2="840.80" stroke="#e6e6e6" stroke-width="0.85"/>
<line x1="70.3" y1="872.60" x2="565" y2="872.60" stroke="#e6e6e6" stroke-width="0.85"/>
<text x="65.3" y="749.50" text-anchor="end" font-family="Liberation Sans" font-size="11.4" fill="#4d4d4d" stroke="#4d4d4d" stroke-width="0.06">B/My MPAL</text>
<circle cx="174.50" cy="745.70" r="5.8" fill="#b096e4"/>
<rect x="170.10" y="743.75" width="1.6" height="1.7" fill="#1a1a1a"/>
<rect x="172.50" y="743.75" width="1.6" height="1.7" fill="#1a1a1a"/>
<rect x="174.90" y="743.75" width="1.6" height="1.7" fill="#1a1a1a"/>
<rect x="177.30" y="743.75" width="1.6" height="1.7" fill="#1a1a1a"/>
<circle cx="188.20" cy="745.70" r="5.8" fill="#c8bce0"/>
<rect x="186.20" y="743.75" width="1.6" height="1.7" fill="#1a1a1a"/>
<rect x="188.60" y="743.75" width="1.6" height="1.7" fill="#1a1a1a"/>
<circle cx="201.90" cy="745.70" r="5.8" fill="#d0cadb"/>
<rect x="201.10" y="743.75" width="1.6" height="1.7" fill="#1a1a1a"/>
<path d="M256.70 736.30L264.45 750.10L248.95 750.10z" fill="#e0c2b8"/>
<rect x="252.30" y="743.75" width="1.6" height="1.7" fill="#1a1a1a"/>
<rect x="254.70" y="743.75" width="1.6" height="1.7" fill="#1a1a1a"/>
<rect x="257.10" y="743.75" width="1.6" height="1.7" fill="#1a1a1a"/>
<rect x="259.50" y="743.75" width="1.6" height="1.7" fill="#1a1a1a"/>
<path d="M270.40 736.30L278.15 750.10L262.65 750.10z" fill="#e0c2b8"/>
<rect x="266.00" y="743.75" width="1.6" height="1.7" fill="#1a1a1a"/>
<rect x="268.40" y="743.75" width="1.6" height="1.7" fill="#1a1a1a"/>
<rect x="270.80" y="743.75" width="1.6" height="1.7" fill="#1a1a1a"/>
<rect x="273.20" y="743.75" width="1.6" height="1.7" fill="#1a1a1a"/>
<path d="M297.80 736.30L305.55 750.10L290.05 750.10z" fill="#e0c2b8"/>
<rect x="295.80" y="743.75" width="1.6" height="1.7" fill="#1a1a1a"/>
<rect x="298.20" y="743.75" width="1.6" height="1.7" fill="#1a1a1a"/>
<path d="M311.50 736.30L319.25 750.10L303.75 750.10z" fill="#f88060"/>
<rect x="307.10" y="743.75" width="1.6" height="1.7" fill="#1a1a1a"/>
<rect x="309.50" y="743.75" width="1.6" height="1.7" fill="#1a1a1a"/>
<rect x="311.90" y="743.75" width="1.6" height="1.7" fill="#1a1a1a"/>
<rect x="314.30" y="743.75" width="1.6" height="1.7" fill="#1a1a1a"/>
<path d="M325.20 736.30L332.95 750.10L317.45 750.10z" fill="#e0c2b8"/>
<rect x="320.80" y="743.75" width="1.6" height="1.7" fill="#1a1a1a"/>
<rect x="323.20" y="743.75" width="1.6" height="1.7" fill="#1a1a1a"/>
<rect x="325.60" y="743.75" width="1.6" height="1.7" fill="#1a1a1a"/>
<rect x="328.00" y="743.75" width="1.6" height="1.7" fill="#1a1a1a"/>
<path d="M338.90 736.30L346.65 750.10L331.15 750.10z" fill="#e0c2b8"/>
<rect x="334.50" y="743.75" width="1.6" height="1.7" fill="#1a1a1a"/>
<rect x="336.90" y="743.75" width="1.6" height="1.7" fill="#1a1a1a"/>
<rect x="339.30" y="743.75" width="1.6" height="1.7" fill="#1a1a1a"/>
<rect x="341.70" y="743.75" width="1.6" height="1.7" fill="#1a1a1a"/>
<path d="M352.60 736.30L360.35 750.10L344.85 750.10z" fill="#fc5f3f"/>
<rect x="348.20" y="743.75" width="1.6" height="1.7" fill="#1a1a1a"/>
<rect x="350.60" y="743.75" width="1.6" height="1.7" fill="#1a1a1a"/>
<rect x="353.00" y="743.75" width="1.6" height="1.7" fill="#1a1a1a"/>
<rect x="355.40" y="743.75" width="1.6" height="1.7" fill="#1a1a1a"/>
<path d="M366.30 736.30L374.05 750.10L358.55 750.10z" fill="#dccac4"/>
<rect x="365.50" y="743.75" width="1.6" height="1.7" fill="#1a1a1a"/>
<path d="M380.00 736.30L387.75 750.10L372.25 750.10z" fill="#e6b6a8"/>
<rect x="375.60" y="743.75" width="1.6" height="1.7" fill="#1a1a1a"/>
<rect x="378.00" y="743.75" width="1.6" height="1.7" fill="#1a1a1a"/>
<rect x="380.40" y="743.75" width="1.6" height="1.7" fill="#1a1a1a"/>
<rect x="382.80" y="743.75" width="1.6" height="1.7" fill="#1a1a1a"/>
<path d="M448.50 736.30L456.25 750.10L440.75 750.10z" fill="#e6b6a8"/>
<rect x="444.10" y="743.75" width="1.6" height="1.7" fill="#1a1a1a"/>
<rect x="446.50" y="743.75" width="1.6" height="1.7" fill="#1a1a1a"/>
<rect x="448.90" y="743.75" width="1.6" height="1.7" fill="#1a1a1a"/>
<rect x="451.30" y="743.75" width="1.6" height="1.7" fill="#1a1a1a"/>
<path d="M462.20 736.30L469.95 750.10L454.45 750.10z" fill="#e6b6a8"/>
<rect x="457.80" y="743.75" width="1.6" height="1.7" fill="#1a1a1a"/>
<rect x="460.20" y="743.75" width="1.6" height="1.7" fill="#1a1a1a"/>
<rect x="462.60" y="743.75" width="1.6" height="1.7" fill="#1a1a1a"/>
<rect x="465.00" y="743.75" width="1.6" height="1.7" fill="#1a1a1a"/>
<path d="M475.90 736.30L483.65 750.10L468.15 750.10z" fill="#dccac4"/>
<rect x="475.10" y="743.75" width="1.6" height="1.7" fill="#1a1a1a"/>
<path d="M489.60 736.30L497.35 750.10L481.85 750.10z" fill="#f4907a"/>
<rect x="485.20" y="743.75" width="1.6" height="1.7" fill="#1a1a1a"/>
<rect x="487.60" y="743.75" width="1.6" height="1.7" fill="#1a1a1a"/>
<rect x="490.00" y="743.75" width="1.6" height="1.7" fill="#1a1a1a"/>
<rect x="492.40" y="743.75" width="1.6" height="1.7" fill="#1a1a1a"/>
<path d="M503.30 736.30L511.05 750.10L495.55 750.10z" fill="#eca898"/>
<rect x="498.90" y="743.75" width="1.6" height="1.7" fill="#1a1a1a"/>
<rect x="501.30" y="743.75" width="1.6" height="1.7" fill="#1a1a1a"/>
<rect x="503.70" y="743.75" width="1.6" height="1.7" fill="#1a1a1a"/>
<rect x="506.10" y="743.75" width="1.6" height="1.7" fill="#1a1a1a"/>
<path d="M517.00 736.30L524.75 750.10L509.25 750.10z" fill="#eca898"/>
<rect x="512.60" y="743.75" width="1.6" height="1.7" fill="#1a1a1a"/>
<rect x="515.00" y="743.75" width="1.6" height="1.7" fill="#1a1a1a"/>
<rect x="517.40" y="743.75" width="1.6" height="1.7" fill="#1a1a1a"/>
<rect x="519.80" y="743.75" width="1.6" height="1.7" fill="#1a1a1a"/>
<path d="M530.70 736.30L538.45 750.10L522.95 750.10z" fill="#eca898"/>
<rect x="526.30" y="743.75" width="1.6" height="1.7" fill="#1a1a1a"/>
<rect x="528.70" y="743.75" width="1.6" height="1.7" fill="#1a1a1a"/>
<rect x="531.10" y="743.75" width="1.6" height="1.7" fill="#1a1a1a"/>
<rect x="533.50" y="743.75" width="1.6" height="1.7" fill="#1a1a1a"/>
<path d="M544.40 736.30L552.15 750.10L536.65 750.10z" fill="#e6b6a8"/>
<rect x="540.00" y="743.75" width="1.6" height="1.7" fill="#1a1a1a"/>
<rect x="542.40" y="743.75" width="1.6" height="1.7" fill="#1a1a1a"/>
<rect x="544.80" y="743.75" width="1.6" height="1.7" fill="#1a1a1a"/>
<rect x="547.20" y="743.75" width="1.6" height="1.7" fill="#1a1a1a"/>
<path d="M558.10 736.30L565.85 750.10L550.35 750.10z" fill="#e6b6a8"/>
<rect x="553.70" y="743.75" width="1.6" height="1.7" fill="#1a1a1a"/>
<rect x="556.10" y="743.75" width="1.6" height="1.7" fill="#1a1a1a"/>
<rect x="558.50" y="743.75" width="1.6" height="1.7" fill="#1a1a1a"/>
<rect x="560.90" y="743.75" width="1.6" height="1.7" fill="#1a1a1a"/>
<text x="65.3" y="781.10" text-anchor="end" font-family="Liberation Sans" font-size="11.4" fill="#4d4d4d" stroke="#4d4d4d" stroke-width="0.06">T/My MPAL</text>
<circle cx="119.70" cy="777.30" r="5.8" fill="#c8bce0"/>
<rect x="117.70" y="775.35" width="1.6" height="1.7" fill="#1a1a1a"/>
<rect x="120.10" y="775.35" width="1.6" height="1.7" fill="#1a1a1a"/>
<circle cx="133.40" cy="777.30" r="5.8" fill="#c8bce0"/>
<rect x="129.00" y="775.35" width="1.6" height="1.7" fill="#1a1a1a"/>
<rect x="131.40" y="775.35" width="1.6" height="1.7" fill="#1a1a1a"/>
<rect x="133.80" y="775.35" width="1.6" height="1.7" fill="#1a1a1a"/>
<rect x="136.20" y="775.35" width="1.6" height="1.7" fill="#1a1a1a"/>
<circle cx="147.10" cy="777.30" r="5.8" fill="#d0cadb"/>
<rect x="146.30" y="775.35" width="1.6" height="1.7" fill="#1a1a1a"/>
<circle cx="174.50" cy="777.30" r="5.8" fill="#b9a4e2"/>
<rect x="170.10" y="775.35" width="1.6" height="1.7" fill="#1a1a1a"/>
<rect x="172.50" y="775.35" width="1.6" height="1.7" fill="#1a1a1a"/>
<rect x="174.90" y="775.35" width="1.6" height="1.7" fill="#1a1a1a"/>
<rect x="177.30" y="775.35" width="1.6" height="1.7" fill="#1a1a1a"/>
<circle cx="188.20" cy="777.30" r="5.8" fill="#b9a4e2"/>
<rect x="183.80" y="775.35" width="1.6" height="1.7" fill="#1a1a1a"/>
<rect x="186.20" y="775.35" width="1.6" height="1.7" fill="#1a1a1a"/>
<rect x="188.60" y="775.35" width="1.6" height="1.7" fill="#1a1a1a"/>
<rect x="191.00" y="775.35" width="1.6" height="1.7" fill="#1a1a1a"/>
<circle cx="201.90" cy="777.30" r="5.8" fill="#b9a4e2"/>
<rect x="198.70" y="775.35" width="1.6" height="1.7" fill="#1a1a1a"/>
<rect x="201.10" y="775.35" width="1.6" height="1.7" fill="#1a1a1a"/>
<rect x="203.50" y="775.35" width="1.6" height="1.7" fill="#1a1a1a"/>
<path d="M215.60 767.90L223.35 781.70L207.85 781.70z" fill="#dccac4"/>
<rect x="212.40" y="775.35" width="1.6" height="1.7" fill="#1a1a1a"/>
<rect x="214.80" y="775.35" width="1.6" height="1.7" fill="#1a1a1a"/>
<rect x="217.20" y="775.35" width="1.6" height="1.7" fill="#1a1a1a"/>
<path d="M256.70 767.90L264.45 781.70L248.95 781.70z" fill="#e0c2b8"/>
<rect x="252.30" y="775.35" width="1.6" height="1.7" fill="#1a1a1a"/>
<rect x="254.70" y="775.35" width="1.6" height="1.7" fill="#1a1a1a"/>
<rect x="257.10" y="775.35" width="1.6" height="1.7" fill="#1a1a1a"/>
<rect x="259.50" y="775.35" width="1.6" height="1.7" fill="#1a1a1a"/>
<path d="M270.40 767.90L278.15 781.70L262.65 781.70z" fill="#e6b6a8"/>
<rect x="266.00" y="775.35" width="1.6" height="1.7" fill="#1a1a1a"/>
<rect x="268.40" y="775.35" width="1.6" height="1.7" fill="#1a1a1a"/>
<rect x="270.80" y="775.35" width="1.6" height="1.7" fill="#1a1a1a"/>
<rect x="273.20" y="775.35" width="1.6" height="1.7" fill="#1a1a1a"/>
<path d="M297.80 767.90L305.55 781.70L290.05 781.70z" fill="#eca898"/>
<rect x="293.40" y="775.35" width="1.6" height="1.7" fill="#1a1a1a"/>
<rect x="295.80" y="775.35" width="1.6" height="1.7" fill="#1a1a1a"/>
<rect x="298.20" y="775.35" width="1.6" height="1.7" fill="#1a1a1a"/>
<rect x="300.60" y="775.35" width="1.6" height="1.7" fill="#1a1a1a"/>
<path d="M311.50 767.90L319.25 781.70L303.75 781.70z" fill="#eca898"/>
<rect x="307.10" y="775.35" width="1.6" height="1.7" fill="#1a1a1a"/>
<rect x="309.50" y="775.35" width="1.6" height="1.7" fill="#1a1a1a"/>
<rect x="311.90" y="775.35" width="1.6" height="1.7" fill="#1a1a1a"/>
<rect x="314.30" y="775.35" width="1.6" height="1.7" fill="#1a1a1a"/>
<path d="M325.20 767.90L332.95 781.70L317.45 781.70z" fill="#e0c2b8"/>
<rect x="320.80" y="775.35" width="1.6" height="1.7" fill="#1a1a1a"/>
<rect x="323.20" y="775.35" width="1.6" height="1.7" fill="#1a1a1a"/>
<rect x="325.60" y="775.35" width="1.6" height="1.7" fill="#1a1a1a"/>
<rect x="328.00" y="775.35" width="1.6" height="1.7" fill="#1a1a1a"/>
<path d="M338.90 767.90L346.65 781.70L331.15 781.70z" fill="#e6b6a8"/>
<rect x="334.50" y="775.35" width="1.6" height="1.7" fill="#1a1a1a"/>
<rect x="336.90" y="775.35" width="1.6" height="1.7" fill="#1a1a1a"/>
<rect x="339.30" y="775.35" width="1.6" height="1.7" fill="#1a1a1a"/>
<rect x="341.70" y="775.35" width="1.6" height="1.7" fill="#1a1a1a"/>
<path d="M352.60 767.90L360.35 781.70L344.85 781.70z" fill="#fc5f3f"/>
<rect x="348.20" y="775.35" width="1.6" height="1.7" fill="#1a1a1a"/>
<rect x="350.60" y="775.35" width="1.6" height="1.7" fill="#1a1a1a"/>
<rect x="353.00" y="775.35" width="1.6" height="1.7" fill="#1a1a1a"/>
<rect x="355.40" y="775.35" width="1.6" height="1.7" fill="#1a1a1a"/>
<path d="M366.30 767.90L374.05 781.70L358.55 781.70z" fill="#e6b6a8"/>
<rect x="361.90" y="775.35" width="1.6" height="1.7" fill="#1a1a1a"/>
<rect x="364.30" y="775.35" width="1.6" height="1.7" fill="#1a1a1a"/>
<rect x="366.70" y="775.35" width="1.6" height="1.7" fill="#1a1a1a"/>
<rect x="369.10" y="775.35" width="1.6" height="1.7" fill="#1a1a1a"/>
<path d="M393.70 767.90L401.45 781.70L385.95 781.70z" fill="#dccac4"/>
<rect x="389.30" y="775.35" width="1.6" height="1.7" fill="#1a1a1a"/>
<rect x="391.70" y="775.35" width="1.6" height="1.7" fill="#1a1a1a"/>
<rect x="394.10" y="775.35" width="1.6" height="1.7" fill="#1a1a1a"/>
<rect x="396.50" y="775.35" width="1.6" height="1.7" fill="#1a1a1a"/>
<path d="M407.40 767.90L415.15 781.70L399.65 781.70z" fill="#e6b6a8"/>
<rect x="403.00" y="775.35" width="1.6" height="1.7" fill="#1a1a1a"/>
<rect x="405.40" y="775.35" width="1.6" height="1.7" fill="#1a1a1a"/>
<rect x="407.80" y="775.35" width="1.6" height="1.7" fill="#1a1a1a"/>
<rect x="410.20" y="775.35" width="1.6" height="1.7" fill="#1a1a1a"/>
<path d="M421.10 767.90L428.85 781.70L413.35 781.70z" fill="#dccac4"/>
<rect x="420.30" y="775.35" width="1.6" height="1.7" fill="#1a1a1a"/>
<path d="M434.80 767.90L442.55 781.70L427.05 781.70z" fill="#dccac4"/>
<rect x="434.00" y="775.35" width="1.6" height="1.7" fill="#1a1a1a"/>
<path d="M448.50 767.90L456.25 781.70L440.75 781.70z" fill="#eca898"/>
<rect x="444.10" y="775.35" width="1.6" height="1.7" fill="#1a1a1a"/>
<rect x="446.50" y="775.35" width="1.6" height="1.7" fill="#1a1a1a"/>
<rect x="448.90" y="775.35" width="1.6" height="1.7" fill="#1a1a1a"/>
<rect x="451.30" y="775.35" width="1.6" height="1.7" fill="#1a1a1a"/>
<path d="M462.20 767.90L469.95 781.70L454.45 781.70z" fill="#eca898"/>
<rect x="457.80" y="775.35" width="1.6" height="1.7" fill="#1a1a1a"/>
<rect x="460.20" y="775.35" width="1.6" height="1.7" fill="#1a1a1a"/>
<rect x="462.60" y="775.35" width="1.6" height="1.7" fill="#1a1a1a"/>
<rect x="465.00" y="775.35" width="1.6" height="1.7" fill="#1a1a1a"/>
<path d="M475.90 767.90L483.65 781.70L468.15 781.70z" fill="#eca898"/>
<rect x="471.50" y="775.35" width="1.6" height="1.7" fill="#1a1a1a"/>
<rect x="473.90" y="775.35" width="1.6" height="1.7" fill="#1a1a1a"/>
<rect x="476.30" y="775.35" width="1.6" height="1.7" fill="#1a1a1a"/>
<rect x="478.70" y="775.35" width="1.6" height="1.7" fill="#1a1a1a"/>
<path d="M489.60 767.90L497.35 781.70L481.85 781.70z" fill="#f09c88"/>
<rect x="485.20" y="775.35" width="1.6" height="1.7" fill="#1a1a1a"/>
<rect x="487.60" y="775.35" width="1.6" height="1.7" fill="#1a1a1a"/>
<rect x="490.00" y="775.35" width="1.6" height="1.7" fill="#1a1a1a"/>
<rect x="492.40" y="775.35" width="1.6" height="1.7" fill="#1a1a1a"/>
<path d="M503.30 767.90L511.05 781.70L495.55 781.70z" fill="#eca898"/>
<rect x="498.90" y="775.35" width="1.6" height="1.7" fill="#1a1a1a"/>
<rect x="501.30" y="775.35" width="1.6" height="1.7" fill="#1a1a1a"/>
<rect x="503.70" y="775.35" width="1.6" height="1.7" fill="#1a1a1a"/>
<rect x="506.10" y="775.35" width="1.6" height="1.7" fill="#1a1a1a"/>
<path d="M517.00 767.90L524.75 781.70L509.25 781.70z" fill="#eca898"/>
<rect x="512.60" y="775.35" width="1.6" height="1.7" fill="#1a1a1a"/>
<rect x="515.00" y="775.35" width="1.6" height="1.7" fill="#1a1a1a"/>
<rect x="517.40" y="775.35" width="1.6" height="1.7" fill="#1a1a1a"/>
<rect x="519.80" y="775.35" width="1.6" height="1.7" fill="#1a1a1a"/>
<path d="M530.70 767.90L538.45 781.70L522.95 781.70z" fill="#e0c2b8"/>
<rect x="526.30" y="775.35" width="1.6" height="1.7" fill="#1a1a1a"/>
<rect x="528.70" y="775.35" width="1.6" height="1.7" fill="#1a1a1a"/>
<rect x="531.10" y="775.35" width="1.6" height="1.7" fill="#1a1a1a"/>
<rect x="533.50" y="775.35" width="1.6" height="1.7" fill="#1a1a1a"/>
<path d="M544.40 767.90L552.15 781.70L536.65 781.70z" fill="#e0c2b8"/>
<rect x="540.00" y="775.35" width="1.6" height="1.7" fill="#1a1a1a"/>
<rect x="542.40" y="775.35" width="1.6" height="1.7" fill="#1a1a1a"/>
<rect x="544.80" y="775.35" width="1.6" height="1.7" fill="#1a1a1a"/>
<rect x="547.20" y="775.35" width="1.6" height="1.7" fill="#1a1a1a"/>
<path d="M558.10 767.90L565.85 781.70L550.35 781.70z" fill="#f4907a"/>
<rect x="553.70" y="775.35" width="1.6" height="1.7" fill="#1a1a1a"/>
<rect x="556.10" y="775.35" width="1.6" height="1.7" fill="#1a1a1a"/>
<rect x="558.50" y="775.35" width="1.6" height="1.7" fill="#1a1a1a"/>
<rect x="560.90" y="775.35" width="1.6" height="1.7" fill="#1a1a1a"/>
<text x="65.3" y="812.90" text-anchor="end" font-family="Liberation Sans" font-size="11.4" fill="#4d4d4d" stroke="#4d4d4d" stroke-width="0.06">T−ALL</text>
<path d="M78.60 799.70L86.35 813.50L70.85 813.50z" fill="#dccac4"/>
<rect x="74.20" y="807.15" width="1.6" height="1.7" fill="#1a1a1a"/>
<rect x="76.60" y="807.15" width="1.6" height="1.7" fill="#1a1a1a"/>
<rect x="79.00" y="807.15" width="1.6" height="1.7" fill="#1a1a1a"/>
<rect x="81.40" y="807.15" width="1.6" height="1.7" fill="#1a1a1a"/>
<path d="M92.30 799.70L100.05 813.50L84.55 813.50z" fill="#dccac4"/>
<rect x="87.90" y="807.15" width="1.6" height="1.7" fill="#1a1a1a"/>
<rect x="90.30" y="807.15" width="1.6" height="1.7" fill="#1a1a1a"/>
<rect x="92.70" y="807.15" width="1.6" height="1.7" fill="#1a1a1a"/>
<rect x="95.10" y="807.15" width="1.6" height="1.7" fill="#1a1a1a"/>
<path d="M106.00 799.70L113.75 813.50L98.25 813.50z" fill="#dccac4"/>
<rect x="101.60" y="807.15" width="1.6" height="1.7" fill="#1a1a1a"/>
<rect x="104.00" y="807.15" width="1.6" height="1.7" fill="#1a1a1a"/>
<rect x="106.40" y="807.15" width="1.6" height="1.7" fill="#1a1a1a"/>
<rect x="108.80" y="807.15" width="1.6" height="1.7" fill="#1a1a1a"/>
<circle cx="133.40" cy="809.10" r="5.8" fill="#c8bce0"/>
<rect x="129.00" y="807.15" width="1.6" height="1.7" fill="#1a1a1a"/>
<rect x="131.40" y="807.15" width="1.6" height="1.7" fill="#1a1a1a"/>
<rect x="133.80" y="807.15" width="1.6" height="1.7" fill="#1a1a1a"/>
<rect x="136.20" y="807.15" width="1.6" height="1.7" fill="#1a1a1a"/>
<circle cx="174.50" cy="809.10" r="5.8" fill="#b9a4e2"/>
<rect x="170.10" y="807.15" width="1.6" height="1.7" fill="#1a1a1a"/>
<rect x="172.50" y="807.15" width="1.6" height="1.7" fill="#1a1a1a"/>
<rect x="174.90" y="807.15" width="1.6" height="1.7" fill="#1a1a1a"/>
<rect x="177.30" y="807.15" width="1.6" height="1.7" fill="#1a1a1a"/>
<circle cx="188.20" cy="809.10" r="5.8" fill="#c8bce0"/>
<rect x="183.80" y="807.15" width="1.6" height="1.7" fill="#1a1a1a"/>
<rect x="186.20" y="807.15" width="1.6" height="1.7" fill="#1a1a1a"/>
<rect x="188.60" y="807.15" width="1.6" height="1.7" fill="#1a1a1a"/>
<rect x="191.00" y="807.15" width="1.6" height="1.7" fill="#1a1a1a"/>
<circle cx="201.90" cy="809.10" r="5.8" fill="#0000ee"/>
<rect x="197.50" y="807.15" width="1.6" height="1.7" fill="#1a1a1a"/>
<rect x="199.90" y="807.15" width="1.6" height="1.7" fill="#1a1a1a"/>
<rect x="202.30" y="807.15" width="1.6" height="1.7" fill="#1a1a1a"/>
<rect x="204.70" y="807.15" width="1.6" height="1.7" fill="#1a1a1a"/>
<path d="M215.60 799.70L223.35 813.50L207.85 813.50z" fill="#dccac4"/>
<rect x="211.20" y="807.15" width="1.6" height="1.7" fill="#1a1a1a"/>
<rect x="213.60" y="807.15" width="1.6" height="1.7" fill="#1a1a1a"/>
<rect x="216.00" y="807.15" width="1.6" height="1.7" fill="#1a1a1a"/>
<rect x="218.40" y="807.15" width="1.6" height="1.7" fill="#1a1a1a"/>
<circle cx="243.00" cy="809.10" r="5.8" fill="#b096e4"/>
<rect x="238.60" y="807.15" width="1.6" height="1.7" fill="#1a1a1a"/>
<rect x="241.00" y="807.15" width="1.6" height="1.7" fill="#1a1a1a"/>
<rect x="243.40" y="807.15" width="1.6" height="1.7" fill="#1a1a1a"/>
<rect x="245.80" y="807.15" width="1.6" height="1.7" fill="#1a1a1a"/>
<path d="M256.70 799.70L264.45 813.50L248.95 813.50z" fill="#e0c2b8"/>
<rect x="252.30" y="807.15" width="1.6" height="1.7" fill="#1a1a1a"/>
<rect x="254.70" y="807.15" width="1.6" height="1.7" fill="#1a1a1a"/>
<rect x="257.10" y="807.15" width="1.6" height="1.7" fill="#1a1a1a"/>
<rect x="259.50" y="807.15" width="1.6" height="1.7" fill="#1a1a1a"/>
<path d="M270.40 799.70L278.15 813.50L262.65 813.50z" fill="#e0c2b8"/>
<rect x="266.00" y="807.15" width="1.6" height="1.7" fill="#1a1a1a"/>
<rect x="268.40" y="807.15" width="1.6" height="1.7" fill="#1a1a1a"/>
<rect x="270.80" y="807.15" width="1.6" height="1.7" fill="#1a1a1a"/>
<rect x="273.20" y="807.15" width="1.6" height="1.7" fill="#1a1a1a"/>
<path d="M284.10 799.70L291.85 813.50L276.35 813.50z" fill="#dccac4"/>
<rect x="279.70" y="807.15" width="1.6" height="1.7" fill="#1a1a1a"/>
<rect x="282.10" y="807.15" width="1.6" height="1.7" fill="#1a1a1a"/>
<rect x="284.50" y="807.15" width="1.6" height="1.7" fill="#1a1a1a"/>
<rect x="286.90" y="807.15" width="1.6" height="1.7" fill="#1a1a1a"/>
<path d="M297.80 799.70L305.55 813.50L290.05 813.50z" fill="#dccac4"/>
<rect x="297.00" y="807.15" width="1.6" height="1.7" fill="#1a1a1a"/>
<path d="M311.50 799.70L319.25 813.50L303.75 813.50z" fill="#e6b6a8"/>
<rect x="307.10" y="807.15" width="1.6" height="1.7" fill="#1a1a1a"/>
<rect x="309.50" y="807.15" width="1.6" height="1.7" fill="#1a1a1a"/>
<rect x="311.90" y="807.15" width="1.6" height="1.7" fill="#1a1a1a"/>
<rect x="314.30" y="807.15" width="1.6" height="1.7" fill="#1a1a1a"/>
<path d="M325.20 799.70L332.95 813.50L317.45 813.50z" fill="#e6b6a8"/>
<rect x="320.80" y="807.15" width="1.6" height="1.7" fill="#1a1a1a"/>
<rect x="323.20" y="807.15" width="1.6" height="1.7" fill="#1a1a1a"/>
<rect x="325.60" y="807.15" width="1.6" height="1.7" fill="#1a1a1a"/>
<rect x="328.00" y="807.15" width="1.6" height="1.7" fill="#1a1a1a"/>
<path d="M338.90 799.70L346.65 813.50L331.15 813.50z" fill="#e6b6a8"/>
<rect x="334.50" y="807.15" width="1.6" height="1.7" fill="#1a1a1a"/>
<rect x="336.90" y="807.15" width="1.6" height="1.7" fill="#1a1a1a"/>
<rect x="339.30" y="807.15" width="1.6" height="1.7" fill="#1a1a1a"/>
<rect x="341.70" y="807.15" width="1.6" height="1.7" fill="#1a1a1a"/>
<path d="M352.60 799.70L360.35 813.50L344.85 813.50z" fill="#fc5f3f"/>
<rect x="348.20" y="807.15" width="1.6" height="1.7" fill="#1a1a1a"/>
<rect x="350.60" y="807.15" width="1.6" height="1.7" fill="#1a1a1a"/>
<rect x="353.00" y="807.15" width="1.6" height="1.7" fill="#1a1a1a"/>
<rect x="355.40" y="807.15" width="1.6" height="1.7" fill="#1a1a1a"/>
<path d="M380.00 799.70L387.75 813.50L372.25 813.50z" fill="#eca898"/>
<rect x="375.60" y="807.15" width="1.6" height="1.7" fill="#1a1a1a"/>
<rect x="378.00" y="807.15" width="1.6" height="1.7" fill="#1a1a1a"/>
<rect x="380.40" y="807.15" width="1.6" height="1.7" fill="#1a1a1a"/>
<rect x="382.80" y="807.15" width="1.6" height="1.7" fill="#1a1a1a"/>
<path d="M393.70 799.70L401.45 813.50L385.95 813.50z" fill="#e6b6a8"/>
<rect x="389.30" y="807.15" width="1.6" height="1.7" fill="#1a1a1a"/>
<rect x="391.70" y="807.15" width="1.6" height="1.7" fill="#1a1a1a"/>
<rect x="394.10" y="807.15" width="1.6" height="1.7" fill="#1a1a1a"/>
<rect x="396.50" y="807.15" width="1.6" height="1.7" fill="#1a1a1a"/>
<path d="M407.40 799.70L415.15 813.50L399.65 813.50z" fill="#f4907a"/>
<rect x="403.00" y="807.15" width="1.6" height="1.7" fill="#1a1a1a"/>
<rect x="405.40" y="807.15" width="1.6" height="1.7" fill="#1a1a1a"/>
<rect x="407.80" y="807.15" width="1.6" height="1.7" fill="#1a1a1a"/>
<rect x="410.20" y="807.15" width="1.6" height="1.7" fill="#1a1a1a"/>
<path d="M421.10 799.70L428.85 813.50L413.35 813.50z" fill="#e0c2b8"/>
<rect x="416.70" y="807.15" width="1.6" height="1.7" fill="#1a1a1a"/>
<rect x="419.10" y="807.15" width="1.6" height="1.7" fill="#1a1a1a"/>
<rect x="421.50" y="807.15" width="1.6" height="1.7" fill="#1a1a1a"/>
<rect x="423.90" y="807.15" width="1.6" height="1.7" fill="#1a1a1a"/>
<path d="M434.80 799.70L442.55 813.50L427.05 813.50z" fill="#dccac4"/>
<rect x="430.40" y="807.15" width="1.6" height="1.7" fill="#1a1a1a"/>
<rect x="432.80" y="807.15" width="1.6" height="1.7" fill="#1a1a1a"/>
<rect x="435.20" y="807.15" width="1.6" height="1.7" fill="#1a1a1a"/>
<rect x="437.60" y="807.15" width="1.6" height="1.7" fill="#1a1a1a"/>
<path d="M448.50 799.70L456.25 813.50L440.75 813.50z" fill="#e6b6a8"/>
<rect x="444.10" y="807.15" width="1.6" height="1.7" fill="#1a1a1a"/>
<rect x="446.50" y="807.15" width="1.6" height="1.7" fill="#1a1a1a"/>
<rect x="448.90" y="807.15" width="1.6" height="1.7" fill="#1a1a1a"/>
<rect x="451.30" y="807.15" width="1.6" height="1.7" fill="#1a1a1a"/>
<path d="M462.20 799.70L469.95 813.50L454.45 813.50z" fill="#f09c88"/>
<rect x="457.80" y="807.15" width="1.6" height="1.7" fill="#1a1a1a"/>
<rect x="460.20" y="807.15" width="1.6" height="1.7" fill="#1a1a1a"/>
<rect x="462.60" y="807.15" width="1.6" height="1.7" fill="#1a1a1a"/>
<rect x="465.00" y="807.15" width="1.6" height="1.7" fill="#1a1a1a"/>
<path d="M475.90 799.70L483.65 813.50L468.15 813.50z" fill="#f09c88"/>
<rect x="471.50" y="807.15" width="1.6" height="1.7" fill="#1a1a1a"/>
<rect x="473.90" y="807.15" width="1.6" height="1.7" fill="#1a1a1a"/>
<rect x="476.30" y="807.15" width="1.6" height="1.7" fill="#1a1a1a"/>
<rect x="478.70" y="807.15" width="1.6" height="1.7" fill="#1a1a1a"/>
<path d="M489.60 799.70L497.35 813.50L481.85 813.50z" fill="#f4907a"/>
<rect x="485.20" y="807.15" width="1.6" height="1.7" fill="#1a1a1a"/>
<rect x="487.60" y="807.15" width="1.6" height="1.7" fill="#1a1a1a"/>
<rect x="490.00" y="807.15" width="1.6" height="1.7" fill="#1a1a1a"/>
<rect x="492.40" y="807.15" width="1.6" height="1.7" fill="#1a1a1a"/>
<path d="M503.30 799.70L511.05 813.50L495.55 813.50z" fill="#f09c88"/>
<rect x="498.90" y="807.15" width="1.6" height="1.7" fill="#1a1a1a"/>
<rect x="501.30" y="807.15" width="1.6" height="1.7" fill="#1a1a1a"/>
<rect x="503.70" y="807.15" width="1.6" height="1.7" fill="#1a1a1a"/>
<rect x="506.10" y="807.15" width="1.6" height="1.7" fill="#1a1a1a"/>
<path d="M517.00 799.70L524.75 813.50L509.25 813.50z" fill="#f88060"/>
<rect x="512.60" y="807.15" width="1.6" height="1.7" fill="#1a1a1a"/>
<rect x="515.00" y="807.15" width="1.6" height="1.7" fill="#1a1a1a"/>
<rect x="517.40" y="807.15" width="1.6" height="1.7" fill="#1a1a1a"/>
<rect x="519.80" y="807.15" width="1.6" height="1.7" fill="#1a1a1a"/>
<path d="M530.70 799.70L538.45 813.50L522.95 813.50z" fill="#dccac4"/>
<rect x="526.30" y="807.15" width="1.6" height="1.7" fill="#1a1a1a"/>
<rect x="528.70" y="807.15" width="1.6" height="1.7" fill="#1a1a1a"/>
<rect x="531.10" y="807.15" width="1.6" height="1.7" fill="#1a1a1a"/>
<rect x="533.50" y="807.15" width="1.6" height="1.7" fill="#1a1a1a"/>
<path d="M544.40 799.70L552.15 813.50L536.65 813.50z" fill="#e6b6a8"/>
<rect x="540.00" y="807.15" width="1.6" height="1.7" fill="#1a1a1a"/>
<rect x="542.40" y="807.15" width="1.6" height="1.7" fill="#1a1a1a"/>
<rect x="544.80" y="807.15" width="1.6" height="1.7" fill="#1a1a1a"/>
<rect x="547.20" y="807.15" width="1.6" height="1.7" fill="#1a1a1a"/>
<path d="M558.10 799.70L565.85 813.50L550.35 813.50z" fill="#eca898"/>
<rect x="553.70" y="807.15" width="1.6" height="1.7" fill="#1a1a1a"/>
<rect x="556.10" y="807.15" width="1.6" height="1.7" fill="#1a1a1a"/>
<rect x="558.50" y="807.15" width="1.6" height="1.7" fill="#1a1a1a"/>
<rect x="560.90" y="807.15" width="1.6" height="1.7" fill="#1a1a1a"/>
<text x="65.3" y="844.60" text-anchor="end" font-family="Liberation Sans" font-size="11.4" fill="#4d4d4d" stroke="#4d4d4d" stroke-width="0.06">Pre B−ALL</text>
<path d="M119.70 831.40L127.45 845.20L111.95 845.20z" fill="#e6b6a8"/>
<rect x="115.30" y="838.85" width="1.6" height="1.7" fill="#1a1a1a"/>
<rect x="117.70" y="838.85" width="1.6" height="1.7" fill="#1a1a1a"/>
<rect x="120.10" y="838.85" width="1.6" height="1.7" fill="#1a1a1a"/>
<rect x="122.50" y="838.85" width="1.6" height="1.7" fill="#1a1a1a"/>
<path d="M133.40 831.40L141.15 845.20L125.65 845.20z" fill="#e6b6a8"/>
<rect x="129.00" y="838.85" width="1.6" height="1.7" fill="#1a1a1a"/>
<rect x="131.40" y="838.85" width="1.6" height="1.7" fill="#1a1a1a"/>
<rect x="133.80" y="838.85" width="1.6" height="1.7" fill="#1a1a1a"/>
<rect x="136.20" y="838.85" width="1.6" height="1.7" fill="#1a1a1a"/>
<path d="M147.10 831.40L154.85 845.20L139.35 845.20z" fill="#dccac4"/>
<rect x="142.70" y="838.85" width="1.6" height="1.7" fill="#1a1a1a"/>
<rect x="145.10" y="838.85" width="1.6" height="1.7" fill="#1a1a1a"/>
<rect x="147.50" y="838.85" width="1.6" height="1.7" fill="#1a1a1a"/>
<rect x="149.90" y="838.85" width="1.6" height="1.7" fill="#1a1a1a"/>
<path d="M160.80 831.40L168.55 845.20L153.05 845.20z" fill="#dccac4"/>
<rect x="156.40" y="838.85" width="1.6" height="1.7" fill="#1a1a1a"/>
<rect x="158.80" y="838.85" width="1.6" height="1.7" fill="#1a1a1a"/>
<rect x="161.20" y="838.85" width="1.6" height="1.7" fill="#1a1a1a"/>
<rect x="163.60" y="838.85" width="1.6" height="1.7" fill="#1a1a1a"/>
<path d="M174.50 831.40L182.25 845.20L166.75 845.20z" fill="#e0c2b8"/>
<rect x="170.10" y="838.85" width="1.6" height="1.7" fill="#1a1a1a"/>
<rect x="172.50" y="838.85" width="1.6" height="1.7" fill="#1a1a1a"/>
<rect x="174.90" y="838.85" width="1.6" height="1.7" fill="#1a1a1a"/>
<rect x="177.30" y="838.85" width="1.6" height="1.7" fill="#1a1a1a"/>
<path d="M188.20 831.40L195.95 845.20L180.45 845.20z" fill="#e0c2b8"/>
<rect x="183.80" y="838.85" width="1.6" height="1.7" fill="#1a1a1a"/>
<rect x="186.20" y="838.85" width="1.6" height="1.7" fill="#1a1a1a"/>
<rect x="188.60" y="838.85" width="1.6" height="1.7" fill="#1a1a1a"/>
<rect x="191.00" y="838.85" width="1.6" height="1.7" fill="#1a1a1a"/>
<path d="M201.90 831.40L209.65 845.20L194.15 845.20z" fill="#e6b6a8"/>
<rect x="198.70" y="838.85" width="1.6" height="1.7" fill="#1a1a1a"/>
<rect x="201.10" y="838.85" width="1.6" height="1.7" fill="#1a1a1a"/>
<rect x="203.50" y="838.85" width="1.6" height="1.7" fill="#1a1a1a"/>
<path d="M229.30 831.40L237.05 845.20L221.55 845.20z" fill="#e6b6a8"/>
<rect x="224.90" y="838.85" width="1.6" height="1.7" fill="#1a1a1a"/>
<rect x="227.30" y="838.85" width="1.6" height="1.7" fill="#1a1a1a"/>
<rect x="229.70" y="838.85" width="1.6" height="1.7" fill="#1a1a1a"/>
<rect x="232.10" y="838.85" width="1.6" height="1.7" fill="#1a1a1a"/>
<path d="M243.00 831.40L250.75 845.20L235.25 845.20z" fill="#f88060"/>
<rect x="238.60" y="838.85" width="1.6" height="1.7" fill="#1a1a1a"/>
<rect x="241.00" y="838.85" width="1.6" height="1.7" fill="#1a1a1a"/>
<rect x="243.40" y="838.85" width="1.6" height="1.7" fill="#1a1a1a"/>
<rect x="245.80" y="838.85" width="1.6" height="1.7" fill="#1a1a1a"/>
<circle cx="256.70" cy="840.80" r="5.8" fill="#c8bce0"/>
<rect x="252.30" y="838.85" width="1.6" height="1.7" fill="#1a1a1a"/>
<rect x="254.70" y="838.85" width="1.6" height="1.7" fill="#1a1a1a"/>
<rect x="257.10" y="838.85" width="1.6" height="1.7" fill="#1a1a1a"/>
<rect x="259.50" y="838.85" width="1.6" height="1.7" fill="#1a1a1a"/>
<path d="M284.10 831.40L291.85 845.20L276.35 845.20z" fill="#eca898"/>
<rect x="279.70" y="838.85" width="1.6" height="1.7" fill="#1a1a1a"/>
<rect x="282.10" y="838.85" width="1.6" height="1.7" fill="#1a1a1a"/>
<rect x="284.50" y="838.85" width="1.6" height="1.7" fill="#1a1a1a"/>
<rect x="286.90" y="838.85" width="1.6" height="1.7" fill="#1a1a1a"/>
<path d="M297.80 831.40L305.55 845.20L290.05 845.20z" fill="#f4907a"/>
<rect x="293.40" y="838.85" width="1.6" height="1.7" fill="#1a1a1a"/>
<rect x="295.80" y="838.85" width="1.6" height="1.7" fill="#1a1a1a"/>
<rect x="298.20" y="838.85" width="1.6" height="1.7" fill="#1a1a1a"/>
<rect x="300.60" y="838.85" width="1.6" height="1.7" fill="#1a1a1a"/>
<path d="M311.50 831.40L319.25 845.20L303.75 845.20z" fill="#fb6a4a"/>
<rect x="307.10" y="838.85" width="1.6" height="1.7" fill="#1a1a1a"/>
<rect x="309.50" y="838.85" width="1.6" height="1.7" fill="#1a1a1a"/>
<rect x="311.90" y="838.85" width="1.6" height="1.7" fill="#1a1a1a"/>
<rect x="314.30" y="838.85" width="1.6" height="1.7" fill="#1a1a1a"/>
<path d="M325.20 831.40L332.95 845.20L317.45 845.20z" fill="#e6b6a8"/>
<rect x="320.80" y="838.85" width="1.6" height="1.7" fill="#1a1a1a"/>
<rect x="323.20" y="838.85" width="1.6" height="1.7" fill="#1a1a1a"/>
<rect x="325.60" y="838.85" width="1.6" height="1.7" fill="#1a1a1a"/>
<rect x="328.00" y="838.85" width="1.6" height="1.7" fill="#1a1a1a"/>
<path d="M338.90 831.40L346.65 845.20L331.15 845.20z" fill="#dccac4"/>
<rect x="334.50" y="838.85" width="1.6" height="1.7" fill="#1a1a1a"/>
<rect x="336.90" y="838.85" width="1.6" height="1.7" fill="#1a1a1a"/>
<rect x="339.30" y="838.85" width="1.6" height="1.7" fill="#1a1a1a"/>
<rect x="341.70" y="838.85" width="1.6" height="1.7" fill="#1a1a1a"/>
<path d="M366.30 831.40L374.05 845.20L358.55 845.20z" fill="#e0c2b8"/>
<rect x="361.90" y="838.85" width="1.6" height="1.7" fill="#1a1a1a"/>
<rect x="364.30" y="838.85" width="1.6" height="1.7" fill="#1a1a1a"/>
<rect x="366.70" y="838.85" width="1.6" height="1.7" fill="#1a1a1a"/>
<rect x="369.10" y="838.85" width="1.6" height="1.7" fill="#1a1a1a"/>
<path d="M380.00 831.40L387.75 845.20L372.25 845.20z" fill="#f88060"/>
<rect x="375.60" y="838.85" width="1.6" height="1.7" fill="#1a1a1a"/>
<rect x="378.00" y="838.85" width="1.6" height="1.7" fill="#1a1a1a"/>
<rect x="380.40" y="838.85" width="1.6" height="1.7" fill="#1a1a1a"/>
<rect x="382.80" y="838.85" width="1.6" height="1.7" fill="#1a1a1a"/>
<path d="M393.70 831.40L401.45 845.20L385.95 845.20z" fill="#dccac4"/>
<rect x="389.30" y="838.85" width="1.6" height="1.7" fill="#1a1a1a"/>
<rect x="391.70" y="838.85" width="1.6" height="1.7" fill="#1a1a1a"/>
<rect x="394.10" y="838.85" width="1.6" height="1.7" fill="#1a1a1a"/>
<rect x="396.50" y="838.85" width="1.6" height="1.7" fill="#1a1a1a"/>
<path d="M407.40 831.40L415.15 845.20L399.65 845.20z" fill="#eca898"/>
<rect x="403.00" y="838.85" width="1.6" height="1.7" fill="#1a1a1a"/>
<rect x="405.40" y="838.85" width="1.6" height="1.7" fill="#1a1a1a"/>
<rect x="407.80" y="838.85" width="1.6" height="1.7" fill="#1a1a1a"/>
<rect x="410.20" y="838.85" width="1.6" height="1.7" fill="#1a1a1a"/>
<path d="M421.10 831.40L428.85 845.20L413.35 845.20z" fill="#e0c2b8"/>
<rect x="416.70" y="838.85" width="1.6" height="1.7" fill="#1a1a1a"/>
<rect x="419.10" y="838.85" width="1.6" height="1.7" fill="#1a1a1a"/>
<rect x="421.50" y="838.85" width="1.6" height="1.7" fill="#1a1a1a"/>
<rect x="423.90" y="838.85" width="1.6" height="1.7" fill="#1a1a1a"/>
<path d="M434.80 831.40L442.55 845.20L427.05 845.20z" fill="#dccac4"/>
<rect x="430.40" y="838.85" width="1.6" height="1.7" fill="#1a1a1a"/>
<rect x="432.80" y="838.85" width="1.6" height="1.7" fill="#1a1a1a"/>
<rect x="435.20" y="838.85" width="1.6" height="1.7" fill="#1a1a1a"/>
<rect x="437.60" y="838.85" width="1.6" height="1.7" fill="#1a1a1a"/>
<path d="M448.50 831.40L456.25 845.20L440.75 845.20z" fill="#dccac4"/>
<rect x="444.10" y="838.85" width="1.6" height="1.7" fill="#1a1a1a"/>
<rect x="446.50" y="838.85" width="1.6" height="1.7" fill="#1a1a1a"/>
<rect x="448.90" y="838.85" width="1.6" height="1.7" fill="#1a1a1a"/>
<rect x="451.30" y="838.85" width="1.6" height="1.7" fill="#1a1a1a"/>
<path d="M462.20 831.40L469.95 845.20L454.45 845.20z" fill="#fb6a4a"/>
<rect x="457.80" y="838.85" width="1.6" height="1.7" fill="#1a1a1a"/>
<rect x="460.20" y="838.85" width="1.6" height="1.7" fill="#1a1a1a"/>
<rect x="462.60" y="838.85" width="1.6" height="1.7" fill="#1a1a1a"/>
<rect x="465.00" y="838.85" width="1.6" height="1.7" fill="#1a1a1a"/>
<path d="M475.90 831.40L483.65 845.20L468.15 845.20z" fill="#eca898"/>
<rect x="471.50" y="838.85" width="1.6" height="1.7" fill="#1a1a1a"/>
<rect x="473.90" y="838.85" width="1.6" height="1.7" fill="#1a1a1a"/>
<rect x="476.30" y="838.85" width="1.6" height="1.7" fill="#1a1a1a"/>
<rect x="478.70" y="838.85" width="1.6" height="1.7" fill="#1a1a1a"/>
<path d="M489.60 831.40L497.35 845.20L481.85 845.20z" fill="#fb6a4a"/>
<rect x="485.20" y="838.85" width="1.6" height="1.7" fill="#1a1a1a"/>
<rect x="487.60" y="838.85" width="1.6" height="1.7" fill="#1a1a1a"/>
<rect x="490.00" y="838.85" width="1.6" height="1.7" fill="#1a1a1a"/>
<rect x="492.40" y="838.85" width="1.6" height="1.7" fill="#1a1a1a"/>
<path d="M503.30 831.40L511.05 845.20L495.55 845.20z" fill="#fb6a4a"/>
<rect x="498.90" y="838.85" width="1.6" height="1.7" fill="#1a1a1a"/>
<rect x="501.30" y="838.85" width="1.6" height="1.7" fill="#1a1a1a"/>
<rect x="503.70" y="838.85" width="1.6" height="1.7" fill="#1a1a1a"/>
<rect x="506.10" y="838.85" width="1.6" height="1.7" fill="#1a1a1a"/>
<path d="M517.00 831.40L524.75 845.20L509.25 845.20z" fill="#f88060"/>
<rect x="512.60" y="838.85" width="1.6" height="1.7" fill="#1a1a1a"/>
<rect x="515.00" y="838.85" width="1.6" height="1.7" fill="#1a1a1a"/>
<rect x="517.40" y="838.85" width="1.6" height="1.7" fill="#1a1a1a"/>
<rect x="519.80" y="838.85" width="1.6" height="1.7" fill="#1a1a1a"/>
<path d="M530.70 831.40L538.45 845.20L522.95 845.20z" fill="#e6b6a8"/>
<rect x="526.30" y="838.85" width="1.6" height="1.7" fill="#1a1a1a"/>
<rect x="528.70" y="838.85" width="1.6" height="1.7" fill="#1a1a1a"/>
<rect x="531.10" y="838.85" width="1.6" height="1.7" fill="#1a1a1a"/>
<rect x="533.50" y="838.85" width="1.6" height="1.7" fill="#1a1a1a"/>
<path d="M544.40 831.40L552.15 845.20L536.65 845.20z" fill="#e0c2b8"/>
<rect x="540.00" y="838.85" width="1.6" height="1.7" fill="#1a1a1a"/>
<rect x="542.40" y="838.85" width="1.6" height="1.7" fill="#1a1a1a"/>
<rect x="544.80" y="838.85" width="1.6" height="1.7" fill="#1a1a1a"/>
<rect x="547.20" y="838.85" width="1.6" height="1.7" fill="#1a1a1a"/>
<path d="M558.10 831.40L565.85 845.20L550.35 845.20z" fill="#e6b6a8"/>
<rect x="553.70" y="838.85" width="1.6" height="1.7" fill="#1a1a1a"/>
<rect x="556.10" y="838.85" width="1.6" height="1.7" fill="#1a1a1a"/>
<rect x="558.50" y="838.85" width="1.6" height="1.7" fill="#1a1a1a"/>
<rect x="560.90" y="838.85" width="1.6" height="1.7" fill="#1a1a1a"/>
<text x="65.3" y="876.40" text-anchor="end" font-family="Liberation Sans" font-size="11.4" fill="#4d4d4d" stroke="#4d4d4d" stroke-width="0.06">AML</text>
<path d="M188.20 863.20L195.95 877.00L180.45 877.00z" fill="#dccac4"/>
<rect x="183.80" y="870.65" width="1.6" height="1.7" fill="#1a1a1a"/>
<rect x="186.20" y="870.65" width="1.6" height="1.7" fill="#1a1a1a"/>
<rect x="188.60" y="870.65" width="1.6" height="1.7" fill="#1a1a1a"/>
<rect x="191.00" y="870.65" width="1.6" height="1.7" fill="#1a1a1a"/>
<path d="M201.90 863.20L209.65 877.00L194.15 877.00z" fill="#e0c2b8"/>
<rect x="197.50" y="870.65" width="1.6" height="1.7" fill="#1a1a1a"/>
<rect x="199.90" y="870.65" width="1.6" height="1.7" fill="#1a1a1a"/>
<rect x="202.30" y="870.65" width="1.6" height="1.7" fill="#1a1a1a"/>
<rect x="204.70" y="870.65" width="1.6" height="1.7" fill="#1a1a1a"/>
<path d="M229.30 863.20L237.05 877.00L221.55 877.00z" fill="#e6b6a8"/>
<rect x="224.90" y="870.65" width="1.6" height="1.7" fill="#1a1a1a"/>
<rect x="227.30" y="870.65" width="1.6" height="1.7" fill="#1a1a1a"/>
<rect x="229.70" y="870.65" width="1.6" height="1.7" fill="#1a1a1a"/>
<rect x="232.10" y="870.65" width="1.6" height="1.7" fill="#1a1a1a"/>
<path d="M243.00 863.20L250.75 877.00L235.25 877.00z" fill="#e6b6a8"/>
<rect x="238.60" y="870.65" width="1.6" height="1.7" fill="#1a1a1a"/>
<rect x="241.00" y="870.65" width="1.6" height="1.7" fill="#1a1a1a"/>
<rect x="243.40" y="870.65" width="1.6" height="1.7" fill="#1a1a1a"/>
<rect x="245.80" y="870.65" width="1.6" height="1.7" fill="#1a1a1a"/>
<path d="M284.10 863.20L291.85 877.00L276.35 877.00z" fill="#e6b6a8"/>
<rect x="279.70" y="870.65" width="1.6" height="1.7" fill="#1a1a1a"/>
<rect x="282.10" y="870.65" width="1.6" height="1.7" fill="#1a1a1a"/>
<rect x="284.50" y="870.65" width="1.6" height="1.7" fill="#1a1a1a"/>
<rect x="286.90" y="870.65" width="1.6" height="1.7" fill="#1a1a1a"/>
<path d="M352.60 863.20L360.35 877.00L344.85 877.00z" fill="#e6b6a8"/>
<rect x="348.20" y="870.65" width="1.6" height="1.7" fill="#1a1a1a"/>
<rect x="350.60" y="870.65" width="1.6" height="1.7" fill="#1a1a1a"/>
<rect x="353.00" y="870.65" width="1.6" height="1.7" fill="#1a1a1a"/>
<rect x="355.40" y="870.65" width="1.6" height="1.7" fill="#1a1a1a"/>
<path d="M366.30 863.20L374.05 877.00L358.55 877.00z" fill="#e6b6a8"/>
<rect x="361.90" y="870.65" width="1.6" height="1.7" fill="#1a1a1a"/>
<rect x="364.30" y="870.65" width="1.6" height="1.7" fill="#1a1a1a"/>
<rect x="366.70" y="870.65" width="1.6" height="1.7" fill="#1a1a1a"/>
<rect x="369.10" y="870.65" width="1.6" height="1.7" fill="#1a1a1a"/>
<path d="M380.00 863.20L387.75 877.00L372.25 877.00z" fill="#e0c2b8"/>
<rect x="375.60" y="870.65" width="1.6" height="1.7" fill="#1a1a1a"/>
<rect x="378.00" y="870.65" width="1.6" height="1.7" fill="#1a1a1a"/>
<rect x="380.40" y="870.65" width="1.6" height="1.7" fill="#1a1a1a"/>
<rect x="382.80" y="870.65" width="1.6" height="1.7" fill="#1a1a1a"/>
<path d="M393.70 863.20L401.45 877.00L385.95 877.00z" fill="#dccac4"/>
<rect x="389.30" y="870.65" width="1.6" height="1.7" fill="#1a1a1a"/>
<rect x="391.70" y="870.65" width="1.6" height="1.7" fill="#1a1a1a"/>
<rect x="394.10" y="870.65" width="1.6" height="1.7" fill="#1a1a1a"/>
<rect x="396.50" y="870.65" width="1.6" height="1.7" fill="#1a1a1a"/>
<path d="M407.40 863.20L415.15 877.00L399.65 877.00z" fill="#e6b6a8"/>
<rect x="403.00" y="870.65" width="1.6" height="1.7" fill="#1a1a1a"/>
<rect x="405.40" y="870.65" width="1.6" height="1.7" fill="#1a1a1a"/>
<rect x="407.80" y="870.65" width="1.6" height="1.7" fill="#1a1a1a"/>
<rect x="410.20" y="870.65" width="1.6" height="1.7" fill="#1a1a1a"/>
<path d="M421.10 863.20L428.85 877.00L413.35 877.00z" fill="#e0c2b8"/>
<rect x="416.70" y="870.65" width="1.6" height="1.7" fill="#1a1a1a"/>
<rect x="419.10" y="870.65" width="1.6" height="1.7" fill="#1a1a1a"/>
<rect x="421.50" y="870.65" width="1.6" height="1.7" fill="#1a1a1a"/>
<rect x="423.90" y="870.65" width="1.6" height="1.7" fill="#1a1a1a"/>
<path d="M434.80 863.20L442.55 877.00L427.05 877.00z" fill="#dccac4"/>
<rect x="430.40" y="870.65" width="1.6" height="1.7" fill="#1a1a1a"/>
<rect x="432.80" y="870.65" width="1.6" height="1.7" fill="#1a1a1a"/>
<rect x="435.20" y="870.65" width="1.6" height="1.7" fill="#1a1a1a"/>
<rect x="437.60" y="870.65" width="1.6" height="1.7" fill="#1a1a1a"/>
<path d="M448.50 863.20L456.25 877.00L440.75 877.00z" fill="#e0c2b8"/>
<rect x="444.10" y="870.65" width="1.6" height="1.7" fill="#1a1a1a"/>
<rect x="446.50" y="870.65" width="1.6" height="1.7" fill="#1a1a1a"/>
<rect x="448.90" y="870.65" width="1.6" height="1.7" fill="#1a1a1a"/>
<rect x="451.30" y="870.65" width="1.6" height="1.7" fill="#1a1a1a"/>
<path d="M462.20 863.20L469.95 877.00L454.45 877.00z" fill="#f09c88"/>
<rect x="457.80" y="870.65" width="1.6" height="1.7" fill="#1a1a1a"/>
<rect x="460.20" y="870.65" width="1.6" height="1.7" fill="#1a1a1a"/>
<rect x="462.60" y="870.65" width="1.6" height="1.7" fill="#1a1a1a"/>
<rect x="465.00" y="870.65" width="1.6" height="1.7" fill="#1a1a1a"/>
<path d="M475.90 863.20L483.65 877.00L468.15 877.00z" fill="#e6b6a8"/>
<rect x="471.50" y="870.65" width="1.6" height="1.7" fill="#1a1a1a"/>
<rect x="473.90" y="870.65" width="1.6" height="1.7" fill="#1a1a1a"/>
<rect x="476.30" y="870.65" width="1.6" height="1.7" fill="#1a1a1a"/>
<rect x="478.70" y="870.65" width="1.6" height="1.7" fill="#1a1a1a"/>
<path d="M489.60 863.20L497.35 877.00L481.85 877.00z" fill="#f09c88"/>
<rect x="485.20" y="870.65" width="1.6" height="1.7" fill="#1a1a1a"/>
<rect x="487.60" y="870.65" width="1.6" height="1.7" fill="#1a1a1a"/>
<rect x="490.00" y="870.65" width="1.6" height="1.7" fill="#1a1a1a"/>
<rect x="492.40" y="870.65" width="1.6" height="1.7" fill="#1a1a1a"/>
<path d="M503.30 863.20L511.05 877.00L495.55 877.00z" fill="#e6b6a8"/>
<rect x="498.90" y="870.65" width="1.6" height="1.7" fill="#1a1a1a"/>
<rect x="501.30" y="870.65" width="1.6" height="1.7" fill="#1a1a1a"/>
<rect x="503.70" y="870.65" width="1.6" height="1.7" fill="#1a1a1a"/>
<rect x="506.10" y="870.65" width="1.6" height="1.7" fill="#1a1a1a"/>
<path d="M517.00 863.20L524.75 877.00L509.25 877.00z" fill="#e6b6a8"/>
<rect x="512.60" y="870.65" width="1.6" height="1.7" fill="#1a1a1a"/>
<rect x="515.00" y="870.65" width="1.6" height="1.7" fill="#1a1a1a"/>
<rect x="517.40" y="870.65" width="1.6" height="1.7" fill="#1a1a1a"/>
<rect x="519.80" y="870.65" width="1.6" height="1.7" fill="#1a1a1a"/>
<path d="M530.70 863.20L538.45 877.00L522.95 877.00z" fill="#dccac4"/>
<rect x="526.30" y="870.65" width="1.6" height="1.7" fill="#1a1a1a"/>
<rect x="528.70" y="870.65" width="1.6" height="1.7" fill="#1a1a1a"/>
<rect x="531.10" y="870.65" width="1.6" height="1.7" fill="#1a1a1a"/>
<rect x="533.50" y="870.65" width="1.6" height="1.7" fill="#1a1a1a"/>
<path d="M544.40 863.20L552.15 877.00L536.65 877.00z" fill="#dccac4"/>
<rect x="540.00" y="870.65" width="1.6" height="1.7" fill="#1a1a1a"/>
<rect x="542.40" y="870.65" width="1.6" height="1.7" fill="#1a1a1a"/>
<rect x="544.80" y="870.65" width="1.6" height="1.7" fill="#1a1a1a"/>
<rect x="547.20" y="870.65" width="1.6" height="1.7" fill="#1a1a1a"/>
<path d="M558.10 863.20L565.85 877.00L550.35 877.00z" fill="#e6b6a8"/>
<rect x="553.70" y="870.65" width="1.6" height="1.7" fill="#1a1a1a"/>
<rect x="556.10" y="870.65" width="1.6" height="1.7" fill="#1a1a1a"/>
<rect x="558.50" y="870.65" width="1.6" height="1.7" fill="#1a1a1a"/>
<rect x="560.90" y="870.65" width="1.6" height="1.7" fill="#1a1a1a"/>
<text transform="translate(82.00 926.8) rotate(-90)" text-anchor="middle" font-family="Liberation Sans" font-size="9.7" fill="#4d4d4d" stroke="#4d4d4d" stroke-width="0.06">NUFIP2</text>
<text transform="translate(95.70 926.8) rotate(-90)" text-anchor="middle" font-family="Liberation Sans" font-size="9.7" fill="#4d4d4d" stroke="#4d4d4d" stroke-width="0.06">PRPF40A</text>
<text transform="translate(109.40 926.8) rotate(-90)" text-anchor="middle" font-family="Liberation Sans" font-size="9.7" fill="#4d4d4d" stroke="#4d4d4d" stroke-width="0.06">RB1CC1</text>
<text transform="translate(123.10 926.8) rotate(-90)" text-anchor="middle" font-family="Liberation Sans" font-size="9.7" fill="#4d4d4d" stroke="#4d4d4d" stroke-width="0.06">VDAC2</text>
<text transform="translate(136.80 926.8) rotate(-90)" text-anchor="middle" font-family="Liberation Sans" font-size="9.7" fill="#4d4d4d" stroke="#4d4d4d" stroke-width="0.06">CHD4</text>
<text transform="translate(150.50 926.8) rotate(-90)" text-anchor="middle" font-family="Liberation Sans" font-size="9.7" fill="#4d4d4d" stroke="#4d4d4d" stroke-width="0.06">DDX3X</text>
<text transform="translate(164.20 926.8) rotate(-90)" text-anchor="middle" font-family="Liberation Sans" font-size="9.7" fill="#4d4d4d" stroke="#4d4d4d" stroke-width="0.06">ZNF207</text>
<text transform="translate(177.90 926.8) rotate(-90)" text-anchor="middle" font-family="Liberation Sans" font-size="9.7" fill="#4d4d4d" stroke="#4d4d4d" stroke-width="0.06">POLR2A</text>
<text transform="translate(191.60 926.8) rotate(-90)" text-anchor="middle" font-family="Liberation Sans" font-size="9.7" fill="#4d4d4d" stroke="#4d4d4d" stroke-width="0.06">DDIT3</text>
<text transform="translate(205.30 926.8) rotate(-90)" text-anchor="middle" font-family="Liberation Sans" font-size="9.7" fill="#4d4d4d" stroke="#4d4d4d" stroke-width="0.06">NECTIN2</text>
<text transform="translate(219.00 926.8) rotate(-90)" text-anchor="middle" font-family="Liberation Sans" font-size="9.7" fill="#4d4d4d" stroke="#4d4d4d" stroke-width="0.06">GTF2I</text>
<text transform="translate(232.70 926.8) rotate(-90)" text-anchor="middle" font-family="Liberation Sans" font-size="9.7" fill="#4d4d4d" stroke="#4d4d4d" stroke-width="0.06">PLIN2</text>
<text transform="translate(246.40 926.8) rotate(-90)" text-anchor="middle" font-family="Liberation Sans" font-size="9.7" fill="#4d4d4d" stroke="#4d4d4d" stroke-width="0.06">SMIM3</text>
<text transform="translate(260.10 926.8) rotate(-90)" text-anchor="middle" font-family="Liberation Sans" font-size="9.7" fill="#4d4d4d" stroke="#4d4d4d" stroke-width="0.06">PCM1</text>
<text transform="translate(273.80 926.8) rotate(-90)" text-anchor="middle" font-family="Liberation Sans" font-size="9.7" fill="#4d4d4d" stroke="#4d4d4d" stroke-width="0.06">GOLGB1</text>
<text transform="translate(287.50 926.8) rotate(-90)" text-anchor="middle" font-family="Liberation Sans" font-size="9.7" fill="#4d4d4d" stroke="#4d4d4d" stroke-width="0.06">RUNX1</text>
<text transform="translate(301.20 926.8) rotate(-90)" text-anchor="middle" font-family="Liberation Sans" font-size="9.7" fill="#4d4d4d" stroke="#4d4d4d" stroke-width="0.06">ARMH1</text>
<text transform="translate(314.90 926.8) rotate(-90)" text-anchor="middle" font-family="Liberation Sans" font-size="9.7" fill="#4d4d4d" stroke="#4d4d4d" stroke-width="0.06">ERG</text>
<text transform="translate(328.60 926.8) rotate(-90)" text-anchor="middle" font-family="Liberation Sans" font-size="9.7" fill="#4d4d4d" stroke="#4d4d4d" stroke-width="0.06">SLC38A2</text>
<text transform="translate(342.30 926.8) rotate(-90)" text-anchor="middle" font-family="Liberation Sans" font-size="9.7" fill="#4d4d4d" stroke="#4d4d4d" stroke-width="0.06">STT3B</text>
<text transform="translate(356.00 926.8) rotate(-90)" text-anchor="middle" font-family="Liberation Sans" font-size="9.7" fill="#4d4d4d" stroke="#4d4d4d" stroke-width="0.06">MIR181A1HG</text>
<text transform="translate(369.70 926.8) rotate(-90)" text-anchor="middle" font-family="Liberation Sans" font-size="9.7" fill="#4d4d4d" stroke="#4d4d4d" stroke-width="0.06">DUSP10</text>
<text transform="translate(383.40 926.8) rotate(-90)" text-anchor="middle" font-family="Liberation Sans" font-size="9.7" fill="#4d4d4d" stroke="#4d4d4d" stroke-width="0.06">PMAIP1</text>
<text transform="translate(397.10 926.8) rotate(-90)" text-anchor="middle" font-family="Liberation Sans" font-size="9.7" fill="#4d4d4d" stroke="#4d4d4d" stroke-width="0.06">FXR1</text>
<text transform="translate(410.80 926.8) rotate(-90)" text-anchor="middle" font-family="Liberation Sans" font-size="9.7" fill="#4d4d4d" stroke="#4d4d4d" stroke-width="0.06">ITGAE</text>
<text transform="translate(424.50 926.8) rotate(-90)" text-anchor="middle" font-family="Liberation Sans" font-size="9.7" fill="#4d4d4d" stroke="#4d4d4d" stroke-width="0.06">SLC25A36</text>
<text transform="translate(438.20 926.8) rotate(-90)" text-anchor="middle" font-family="Liberation Sans" font-size="9.7" fill="#4d4d4d" stroke="#4d4d4d" stroke-width="0.06">ZNF326</text>
<text transform="translate(451.90 926.8) rotate(-90)" text-anchor="middle" font-family="Liberation Sans" font-size="9.7" fill="#4d4d4d" stroke="#4d4d4d" stroke-width="0.06">CCDC88A</text>
<text transform="translate(465.60 926.8) rotate(-90)" text-anchor="middle" font-family="Liberation Sans" font-size="9.7" fill="#4d4d4d" stroke="#4d4d4d" stroke-width="0.06">CCNB1IP1</text>
<text transform="translate(479.30 926.8) rotate(-90)" text-anchor="middle" font-family="Liberation Sans" font-size="9.7" fill="#4d4d4d" stroke="#4d4d4d" stroke-width="0.06">GNA15</text>
<text transform="translate(493.00 926.8) rotate(-90)" text-anchor="middle" font-family="Liberation Sans" font-size="9.7" fill="#4d4d4d" stroke="#4d4d4d" stroke-width="0.06">HACD1</text>
<text transform="translate(506.70 926.8) rotate(-90)" text-anchor="middle" font-family="Liberation Sans" font-size="9.7" fill="#4d4d4d" stroke="#4d4d4d" stroke-width="0.06">MYB</text>
<text transform="translate(520.40 926.8) rotate(-90)" text-anchor="middle" font-family="Liberation Sans" font-size="9.7" fill="#4d4d4d" stroke="#4d4d4d" stroke-width="0.06">MYL6B</text>
<text transform="translate(534.10 926.8) rotate(-90)" text-anchor="middle" font-family="Liberation Sans" font-size="9.7" fill="#4d4d4d" stroke="#4d4d4d" stroke-width="0.06">PAN3</text>
<text transform="translate(547.80 926.8) rotate(-90)" text-anchor="middle" font-family="Liberation Sans" font-size="9.7" fill="#4d4d4d" stroke="#4d4d4d" stroke-width="0.06">SYNCRIP</text>
<text transform="translate(561.50 926.8) rotate(-90)" text-anchor="middle" font-family="Liberation Sans" font-size="9.7" fill="#4d4d4d" stroke="#4d4d4d" stroke-width="0.06">TAF1D</text>
<text x="270.9" y="967.5" font-family="Liberation Sans" font-weight="bold" font-size="11.4" fill="#000" stroke="#000" stroke-width="0.06">Leukemia Marker</text>
<rect x="442.6" y="898.8" width="122.3" height="54.1" rx="5" fill="none" stroke="#1f22f0" stroke-width="1.7"/>
<line x1="503.6" y1="956.7" x2="496.2" y2="970.6" stroke="#1f22f0" stroke-width="0.9"/>
<text x="403.3" y="981.2" font-family="Liberation Sans" font-style="italic" font-size="11.1" textLength="186.5" lengthAdjust="spacingAndGlyphs" fill="#1f22e8" stroke="#1f22e8" stroke-width="0.06">Pediatric Leukemia-Enriched Signature</text>
<text x="580.7" y="740.9" font-family="Liberation Sans" font-size="9.5" fill="#111" stroke="#111" stroke-width="0.06">log2FC</text>
<defs><linearGradient id="glfc" x1="0" y1="0" x2="0" y2="1"><stop offset="0" stop-color="#fc5a3c"/><stop offset="0.16" stop-color="#ee9482"/><stop offset="0.3" stop-color="#e0c0b8"/><stop offset="0.43" stop-color="#d9d9d9"/><stop offset="0.56" stop-color="#c2b4e2"/><stop offset="0.7" stop-color="#a58be9"/><stop offset="0.85" stop-color="#7058f4"/><stop offset="1" stop-color="#0000ff"/></linearGradient></defs>
<rect x="580.2" y="746.2" width="15.9" height="76.2" fill="url(#glfc)"/>
<text x="600.5" y="761.30" font-family="Liberation Sans" font-size="7.6" fill="#111" stroke="#111" stroke-width="0.13">2</text>
<path d="M580.2 758.60h2.6M593.5 758.60h2.6" stroke="#fff" stroke-width="0.5"/>
<text x="600.5" y="781.60" font-family="Liberation Sans" font-size="7.6" fill="#111" stroke="#111" stroke-width="0.13">0</text>
<path d="M580.2 778.90h2.6M593.5 778.90h2.6" stroke="#fff" stroke-width="0.5"/>
<text x="600.5" y="802.20" font-family="Liberation Sans" font-size="7.6" fill="#111" stroke="#111" stroke-width="0.13">−2</text>
<path d="M580.2 799.50h2.6M593.5 799.50h2.6" stroke="#fff" stroke-width="0.5"/>
<text x="600.5" y="822.80" font-family="Liberation Sans" font-size="7.6" fill="#111" stroke="#111" stroke-width="0.13">−4</text>
<path d="M580.2 820.10h2.6M593.5 820.10h2.6" stroke="#fff" stroke-width="0.5"/>
<text x="636.3" y="771.9" font-family="Liberation Sans" font-size="9.8" fill="#111" stroke="#111" stroke-width="0.06">adj. p value</text>
<text x="679" y="783.80" text-anchor="end" font-family="Liberation Sans" font-size="7.7" fill="#111" stroke="none">*, p&lt;0.05</text>
<text x="679" y="792.80" text-anchor="end" font-family="Liberation Sans" font-size="7.7" fill="#111" stroke="none">**, p&lt;0.01</text>
<text x="679" y="802.80" text-anchor="end" font-family="Liberation Sans" font-size="7.7" fill="#111" stroke="none">***, p&lt;0.001</text>
<text x="679" y="813.10" text-anchor="end" font-family="Liberation Sans" font-size="7.7" fill="#111" stroke="none">****, p&lt;0.0001</text>
<text x="580.7" y="849.9" font-family="Liberation Sans" font-size="9.5" fill="#111" stroke="#111" stroke-width="0.06">DE</text>
<circle cx="588.2" cy="863.2" r="6.2" fill="#000"/>
<path d="M588.2 869.1L596.2 883L580.2 883z" fill="#000"/>
<text x="601" y="865.9" font-family="Liberation Sans" font-size="7.7" fill="#111" stroke="none">DOWN</text>
<text x="601" y="880.9" font-family="Liberation Sans" font-size="7.7" fill="#111" stroke="none">UP</text>
</svg>
</body></html>
